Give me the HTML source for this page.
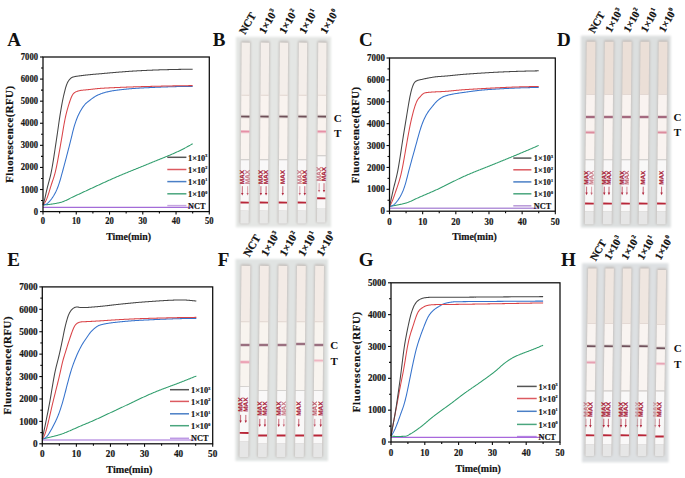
<!DOCTYPE html><html><head><meta charset="utf-8"><style>html,body{margin:0;padding:0;background:#fff;}svg{display:block;}</style></head><body>
<svg width="685" height="478" viewBox="0 0 685 478">
<defs><filter id="bl" x="-5%" y="-5%" width="110%" height="110%"><feGaussianBlur stdDeviation="0.8"/></filter><filter id="bl2" x="-5%" y="-5%" width="110%" height="110%"><feGaussianBlur stdDeviation="0.3"/></filter></defs>
<rect width="685" height="478" fill="#ffffff"/>
<g filter="url(#bl)">
<rect x="236.0" y="36.9" width="95.0" height="190.3" fill="#e4e6e4"/>
<g transform="rotate(0.40 245.15 133.10)"><rect x="240.10" y="40.80" width="10.10" height="183.00" fill="#c4bfbc" rx="1.5"/></g>
<g transform="rotate(0.40 264.35 133.10)"><rect x="259.30" y="40.80" width="10.10" height="183.00" fill="#c4bfbc" rx="1.5"/></g>
<g transform="rotate(0.40 283.35 133.10)"><rect x="278.30" y="40.80" width="10.10" height="183.00" fill="#c4bfbc" rx="1.5"/></g>
<g transform="rotate(0.40 302.35 133.10)"><rect x="297.30" y="40.80" width="10.10" height="183.00" fill="#c4bfbc" rx="1.5"/></g>
<g transform="rotate(0.40 321.75 132.60)"><rect x="316.70" y="40.80" width="10.10" height="182.00" fill="#c4bfbc" rx="1.5"/></g>
</g>
<g transform="rotate(0.40 245.15 133.10)"><rect x="241.00" y="42.60" width="8.30" height="52.60" fill="#f4eeea"/><rect x="241.00" y="95.20" width="8.30" height="64.00" fill="#f9f3ef"/><rect x="241.00" y="94.80" width="8.30" height="0.8" fill="#e2d6d0"/><rect x="241.00" y="114.90" width="8.30" height="3.4" fill="#6e5058" opacity="0.25"/><rect x="241.00" y="115.80" width="8.30" height="1.6" fill="#6e5058"/><rect x="241.00" y="130.00" width="8.30" height="3.2" fill="#e690a6" opacity="0.45"/><rect x="241.00" y="130.90" width="8.30" height="1.4" fill="#e690a6" opacity="1.00"/><rect x="241.00" y="159.20" width="8.30" height="1.10" fill="#d5d3d1"/><rect x="241.00" y="160.30" width="8.30" height="50.30" fill="#f9f8f8"/><rect x="241.00" y="210.60" width="8.30" height="13.00" fill="#e8e8e7" rx="0.8"/></g>
<g transform="rotate(0.40 264.35 133.10)"><rect x="260.20" y="42.60" width="8.30" height="52.60" fill="#f4eeea"/><rect x="260.20" y="95.20" width="8.30" height="64.00" fill="#f9f3ef"/><rect x="260.20" y="94.80" width="8.30" height="0.8" fill="#e2d6d0"/><rect x="260.20" y="114.90" width="8.30" height="3.4" fill="#6e5058" opacity="0.25"/><rect x="260.20" y="115.80" width="8.30" height="1.6" fill="#6e5058"/><rect x="260.20" y="159.20" width="8.30" height="1.10" fill="#d5d3d1"/><rect x="260.20" y="160.30" width="8.30" height="50.30" fill="#f9f8f8"/><rect x="260.20" y="210.60" width="8.30" height="13.00" fill="#e8e8e7" rx="0.8"/></g>
<g transform="rotate(0.40 283.35 133.10)"><rect x="279.20" y="42.60" width="8.30" height="52.60" fill="#f4eeea"/><rect x="279.20" y="95.20" width="8.30" height="64.00" fill="#f9f3ef"/><rect x="279.20" y="94.80" width="8.30" height="0.8" fill="#e2d6d0"/><rect x="279.20" y="114.90" width="8.30" height="3.4" fill="#6e5058" opacity="0.25"/><rect x="279.20" y="115.80" width="8.30" height="1.6" fill="#6e5058"/><rect x="279.20" y="159.20" width="8.30" height="1.10" fill="#d5d3d1"/><rect x="279.20" y="160.30" width="8.30" height="50.30" fill="#f9f8f8"/><rect x="279.20" y="210.60" width="8.30" height="13.00" fill="#e8e8e7" rx="0.8"/></g>
<g transform="rotate(0.40 302.35 133.10)"><rect x="298.20" y="42.60" width="8.30" height="52.60" fill="#f4eeea"/><rect x="298.20" y="95.20" width="8.30" height="64.00" fill="#f9f3ef"/><rect x="298.20" y="94.80" width="8.30" height="0.8" fill="#e2d6d0"/><rect x="298.20" y="114.90" width="8.30" height="3.4" fill="#6e5058" opacity="0.25"/><rect x="298.20" y="115.80" width="8.30" height="1.6" fill="#6e5058"/><rect x="298.20" y="159.20" width="8.30" height="1.10" fill="#d5d3d1"/><rect x="298.20" y="160.30" width="8.30" height="50.30" fill="#f9f8f8"/><rect x="298.20" y="210.60" width="8.30" height="13.00" fill="#e8e8e7" rx="0.8"/></g>
<g transform="rotate(0.40 321.75 132.60)"><rect x="317.60" y="42.60" width="8.30" height="52.60" fill="#f4eeea"/><rect x="317.60" y="95.20" width="8.30" height="60.00" fill="#f9f3ef"/><rect x="317.60" y="94.80" width="8.30" height="0.8" fill="#e2d6d0"/><rect x="317.60" y="114.90" width="8.30" height="3.4" fill="#6e5058" opacity="0.25"/><rect x="317.60" y="115.80" width="8.30" height="1.6" fill="#6e5058"/><rect x="317.60" y="130.00" width="8.30" height="3.2" fill="#e690a6" opacity="0.45"/><rect x="317.60" y="130.90" width="8.30" height="1.4" fill="#e690a6" opacity="1.00"/><rect x="317.60" y="155.20" width="8.30" height="1.10" fill="#d5d3d1"/><rect x="317.60" y="156.30" width="8.30" height="51.80" fill="#f9f8f8"/><rect x="317.60" y="208.10" width="8.30" height="14.50" fill="#e8e8e7" rx="0.8"/></g>
<g transform="rotate(0.40 245.15 133.10)"><text transform="translate(244.50,184.30) rotate(-90)" font-family="Liberation Sans" font-weight="bold" font-size="6.2" fill="#a82238" stroke="#a82238" stroke-width="0.15" opacity="1.00" textLength="14.40" lengthAdjust="spacingAndGlyphs">MAX</text><line x1="242.70" y1="186.20" x2="242.70" y2="194.10" stroke="#b0283e" stroke-width="0.7" opacity="1.00"/><path d="M241.50,193.00 L243.90,193.00 L242.70,195.60 Z" fill="#b0283e" opacity="1.00"/><text transform="translate(249.80,184.30) rotate(-90)" font-family="Liberation Sans" font-weight="bold" font-size="6.2" fill="#a82238" stroke="#a82238" stroke-width="0.15" opacity="0.60" textLength="14.40" lengthAdjust="spacingAndGlyphs">MAX</text><line x1="248.00" y1="186.20" x2="248.00" y2="194.10" stroke="#b0283e" stroke-width="0.7" opacity="0.60"/><path d="M246.80,193.00 L249.20,193.00 L248.00,195.60 Z" fill="#b0283e" opacity="0.60"/><rect x="241.00" y="201.65" width="8.30" height="1.9" fill="#b82638"/></g>
<g transform="rotate(0.40 264.35 133.10)"><text transform="translate(263.10,184.30) rotate(-90)" font-family="Liberation Sans" font-weight="bold" font-size="6.2" fill="#a82238" stroke="#a82238" stroke-width="0.15" opacity="1.00" textLength="14.40" lengthAdjust="spacingAndGlyphs">MAX</text><line x1="261.30" y1="186.20" x2="261.30" y2="194.10" stroke="#b0283e" stroke-width="0.7" opacity="1.00"/><path d="M260.10,193.00 L262.50,193.00 L261.30,195.60 Z" fill="#b0283e" opacity="1.00"/><text transform="translate(268.30,184.30) rotate(-90)" font-family="Liberation Sans" font-weight="bold" font-size="6.2" fill="#a82238" stroke="#a82238" stroke-width="0.15" opacity="1.00" textLength="14.40" lengthAdjust="spacingAndGlyphs">MAX</text><line x1="266.50" y1="186.20" x2="266.50" y2="194.10" stroke="#b0283e" stroke-width="0.7" opacity="1.00"/><path d="M265.30,193.00 L267.70,193.00 L266.50,195.60 Z" fill="#b0283e" opacity="1.00"/><rect x="260.20" y="201.65" width="8.30" height="1.9" fill="#b82638"/></g>
<g transform="rotate(0.40 283.35 133.10)"><text transform="translate(285.00,184.30) rotate(-90)" font-family="Liberation Sans" font-weight="bold" font-size="6.2" fill="#a82238" stroke="#a82238" stroke-width="0.15" opacity="1.00" textLength="14.40" lengthAdjust="spacingAndGlyphs">MAX</text><line x1="283.20" y1="186.20" x2="283.20" y2="194.10" stroke="#b0283e" stroke-width="0.7" opacity="1.00"/><path d="M282.00,193.00 L284.40,193.00 L283.20,195.60 Z" fill="#b0283e" opacity="1.00"/><rect x="279.20" y="201.65" width="8.30" height="1.9" fill="#b82638"/></g>
<g transform="rotate(0.40 302.35 133.10)"><text transform="translate(302.00,184.30) rotate(-90)" font-family="Liberation Sans" font-weight="bold" font-size="6.2" fill="#a82238" stroke="#a82238" stroke-width="0.15" opacity="0.60" textLength="14.40" lengthAdjust="spacingAndGlyphs">MAX</text><line x1="300.20" y1="186.20" x2="300.20" y2="194.10" stroke="#b0283e" stroke-width="0.7" opacity="0.60"/><path d="M299.00,193.00 L301.40,193.00 L300.20,195.60 Z" fill="#b0283e" opacity="0.60"/><text transform="translate(307.00,184.30) rotate(-90)" font-family="Liberation Sans" font-weight="bold" font-size="6.2" fill="#a82238" stroke="#a82238" stroke-width="0.15" opacity="1.00" textLength="14.40" lengthAdjust="spacingAndGlyphs">MAX</text><line x1="305.20" y1="186.20" x2="305.20" y2="194.10" stroke="#b0283e" stroke-width="0.7" opacity="1.00"/><path d="M304.00,193.00 L306.40,193.00 L305.20,195.60 Z" fill="#b0283e" opacity="1.00"/><rect x="298.20" y="201.65" width="8.30" height="1.9" fill="#b82638"/></g>
<g transform="rotate(0.40 321.75 132.60)"><text transform="translate(321.30,181.30) rotate(-90)" font-family="Liberation Sans" font-weight="bold" font-size="6.2" fill="#a82238" stroke="#a82238" stroke-width="0.15" opacity="0.60" textLength="14.40" lengthAdjust="spacingAndGlyphs">MAX</text><line x1="319.50" y1="183.20" x2="319.50" y2="191.10" stroke="#b0283e" stroke-width="0.7" opacity="0.60"/><path d="M318.30,190.00 L320.70,190.00 L319.50,192.60 Z" fill="#b0283e" opacity="0.60"/><text transform="translate(326.20,181.30) rotate(-90)" font-family="Liberation Sans" font-weight="bold" font-size="6.2" fill="#a82238" stroke="#a82238" stroke-width="0.15" opacity="1.00" textLength="14.40" lengthAdjust="spacingAndGlyphs">MAX</text><line x1="324.40" y1="183.20" x2="324.40" y2="191.10" stroke="#b0283e" stroke-width="0.7" opacity="1.00"/><path d="M323.20,190.00 L325.60,190.00 L324.40,192.60 Z" fill="#b0283e" opacity="1.00"/><rect x="317.60" y="197.35" width="8.30" height="1.9" fill="#b82638"/></g>
<text x="212.7" y="45.8" font-family="Liberation Serif" font-weight="bold" font-size="19" fill="#111">B</text>
<text x="333.7" y="122.0" font-family="Liberation Serif" font-weight="bold" font-size="11" fill="#111">C</text>
<text x="334.0" y="137.4" font-family="Liberation Serif" font-weight="bold" font-size="11" fill="#111">T</text>
<text transform="translate(244.90,34.90) rotate(-60.0)" font-family="Liberation Serif" font-weight="bold" font-size="10.8" fill="#111" stroke="#111" stroke-width="0.25">NCT</text>
<text transform="translate(264.80,34.40) rotate(-60.0)" font-family="Liberation Serif" font-weight="bold" font-size="10.8" fill="#111" stroke="#111" stroke-width="0.25">1×10<tspan font-size="6.0" dx="0.5" dy="-4.2">3</tspan></text>
<text transform="translate(284.90,34.40) rotate(-60.0)" font-family="Liberation Serif" font-weight="bold" font-size="10.8" fill="#111" stroke="#111" stroke-width="0.25">1×10<tspan font-size="6.0" dx="0.5" dy="-4.2">2</tspan></text>
<text transform="translate(304.90,34.40) rotate(-60.0)" font-family="Liberation Serif" font-weight="bold" font-size="10.8" fill="#111" stroke="#111" stroke-width="0.25">1×10<tspan font-size="6.0" dx="0.5" dy="-4.2">1</tspan></text>
<text transform="translate(326.10,34.40) rotate(-60.0)" font-family="Liberation Serif" font-weight="bold" font-size="10.8" fill="#111" stroke="#111" stroke-width="0.25">1×10<tspan font-size="6.0" dx="0.5" dy="-4.2">0</tspan></text>
<g filter="url(#bl)">
<rect x="580.9" y="35.7" width="89.9" height="191.8" fill="#dcdfdf"/>
<g transform="rotate(0.60 590.15 133.05)"><rect x="584.90" y="40.00" width="10.50" height="184.50" fill="#c4bfbc" rx="1.5"/></g>
<g transform="rotate(0.60 608.25 133.05)"><rect x="603.00" y="40.00" width="10.50" height="184.50" fill="#c4bfbc" rx="1.5"/></g>
<g transform="rotate(0.60 626.25 133.05)"><rect x="621.00" y="40.00" width="10.50" height="184.50" fill="#c4bfbc" rx="1.5"/></g>
<g transform="rotate(0.60 643.95 133.05)"><rect x="638.70" y="40.00" width="10.50" height="184.50" fill="#c4bfbc" rx="1.5"/></g>
<g transform="rotate(0.60 662.15 133.05)"><rect x="656.90" y="40.00" width="10.50" height="184.50" fill="#c4bfbc" rx="1.5"/></g>
</g>
<g transform="rotate(0.60 590.15 133.05)"><rect x="585.80" y="41.80" width="8.70" height="52.80" fill="#ebdfd7"/><rect x="585.80" y="94.60" width="8.70" height="64.40" fill="#f9f3f0"/><rect x="585.80" y="94.20" width="8.70" height="0.8" fill="#e2d6d0"/><rect x="585.80" y="115.30" width="8.70" height="3.4" fill="#904a64" opacity="0.25"/><rect x="585.80" y="116.20" width="8.70" height="1.6" fill="#904a64"/><rect x="585.80" y="130.80" width="8.70" height="3.2" fill="#dc8c9e" opacity="0.45"/><rect x="585.80" y="131.70" width="8.70" height="1.4" fill="#dc8c9e" opacity="1.00"/><rect x="585.80" y="159.00" width="8.70" height="1.20" fill="#d5d3d1"/><rect x="585.80" y="160.20" width="8.70" height="51.00" fill="#f9f8f8"/><rect x="585.80" y="211.20" width="8.70" height="13.10" fill="#e6e6e6" rx="0.8"/></g>
<g transform="rotate(0.60 608.25 133.05)"><rect x="603.90" y="41.80" width="8.70" height="52.80" fill="#ebdfd7"/><rect x="603.90" y="94.60" width="8.70" height="64.40" fill="#f9f3f0"/><rect x="603.90" y="94.20" width="8.70" height="0.8" fill="#e2d6d0"/><rect x="603.90" y="115.30" width="8.70" height="3.4" fill="#904a64" opacity="0.25"/><rect x="603.90" y="116.20" width="8.70" height="1.6" fill="#904a64"/><rect x="603.90" y="159.00" width="8.70" height="1.20" fill="#d5d3d1"/><rect x="603.90" y="160.20" width="8.70" height="51.00" fill="#f9f8f8"/><rect x="603.90" y="211.20" width="8.70" height="13.10" fill="#e6e6e6" rx="0.8"/></g>
<g transform="rotate(0.60 626.25 133.05)"><rect x="621.90" y="41.80" width="8.70" height="52.80" fill="#ebdfd7"/><rect x="621.90" y="94.60" width="8.70" height="64.40" fill="#f9f3f0"/><rect x="621.90" y="94.20" width="8.70" height="0.8" fill="#e2d6d0"/><rect x="621.90" y="115.30" width="8.70" height="3.4" fill="#904a64" opacity="0.25"/><rect x="621.90" y="116.20" width="8.70" height="1.6" fill="#904a64"/><rect x="621.90" y="159.00" width="8.70" height="1.20" fill="#d5d3d1"/><rect x="621.90" y="160.20" width="8.70" height="51.00" fill="#f9f8f8"/><rect x="621.90" y="211.20" width="8.70" height="13.10" fill="#e6e6e6" rx="0.8"/></g>
<g transform="rotate(0.60 643.95 133.05)"><rect x="639.60" y="41.80" width="8.70" height="52.80" fill="#ebdfd7"/><rect x="639.60" y="94.60" width="8.70" height="64.40" fill="#f9f3f0"/><rect x="639.60" y="94.20" width="8.70" height="0.8" fill="#e2d6d0"/><rect x="639.60" y="115.30" width="8.70" height="3.4" fill="#904a64" opacity="0.25"/><rect x="639.60" y="116.20" width="8.70" height="1.6" fill="#904a64"/><rect x="639.60" y="159.00" width="8.70" height="1.20" fill="#d5d3d1"/><rect x="639.60" y="160.20" width="8.70" height="51.00" fill="#f9f8f8"/><rect x="639.60" y="211.20" width="8.70" height="13.10" fill="#e6e6e6" rx="0.8"/></g>
<g transform="rotate(0.60 662.15 133.05)"><rect x="657.80" y="41.80" width="8.70" height="52.80" fill="#ebdfd7"/><rect x="657.80" y="94.60" width="8.70" height="64.40" fill="#f9f3f0"/><rect x="657.80" y="94.20" width="8.70" height="0.8" fill="#e2d6d0"/><rect x="657.80" y="115.30" width="8.70" height="3.4" fill="#904a64" opacity="0.25"/><rect x="657.80" y="116.20" width="8.70" height="1.6" fill="#904a64"/><rect x="657.80" y="130.80" width="8.70" height="3.2" fill="#dc8c9e" opacity="0.45"/><rect x="657.80" y="131.70" width="8.70" height="1.4" fill="#dc8c9e" opacity="1.00"/><rect x="657.80" y="159.00" width="8.70" height="1.20" fill="#d5d3d1"/><rect x="657.80" y="160.20" width="8.70" height="51.00" fill="#f9f8f8"/><rect x="657.80" y="211.20" width="8.70" height="13.10" fill="#e6e6e6" rx="0.8"/></g>
<g transform="rotate(0.60 590.15 133.05)"><text transform="translate(589.00,184.80) rotate(-90)" font-family="Liberation Sans" font-weight="bold" font-size="6.2" fill="#a82238" stroke="#a82238" stroke-width="0.15" opacity="1.00" textLength="14.10" lengthAdjust="spacingAndGlyphs">MAX</text><line x1="587.20" y1="186.70" x2="587.20" y2="193.70" stroke="#b0283e" stroke-width="0.7" opacity="1.00"/><path d="M586.00,192.60 L588.40,192.60 L587.20,195.20 Z" fill="#b0283e" opacity="1.00"/><text transform="translate(594.00,184.80) rotate(-90)" font-family="Liberation Sans" font-weight="bold" font-size="6.2" fill="#a82238" stroke="#a82238" stroke-width="0.15" opacity="0.60" textLength="14.10" lengthAdjust="spacingAndGlyphs">MAX</text><line x1="592.20" y1="186.70" x2="592.20" y2="193.70" stroke="#b0283e" stroke-width="0.7" opacity="0.60"/><path d="M591.00,192.60 L593.40,192.60 L592.20,195.20 Z" fill="#b0283e" opacity="0.60"/><rect x="585.80" y="202.65" width="8.70" height="1.9" fill="#b82638"/></g>
<g transform="rotate(0.60 608.25 133.05)"><text transform="translate(606.70,184.80) rotate(-90)" font-family="Liberation Sans" font-weight="bold" font-size="6.2" fill="#a82238" stroke="#a82238" stroke-width="0.15" opacity="1.00" textLength="14.10" lengthAdjust="spacingAndGlyphs">MAX</text><line x1="604.90" y1="186.70" x2="604.90" y2="193.70" stroke="#b0283e" stroke-width="0.7" opacity="1.00"/><path d="M603.70,192.60 L606.10,192.60 L604.90,195.20 Z" fill="#b0283e" opacity="1.00"/><text transform="translate(611.40,184.80) rotate(-90)" font-family="Liberation Sans" font-weight="bold" font-size="6.2" fill="#a82238" stroke="#a82238" stroke-width="0.15" opacity="1.00" textLength="14.10" lengthAdjust="spacingAndGlyphs">MAX</text><line x1="609.60" y1="186.70" x2="609.60" y2="193.70" stroke="#b0283e" stroke-width="0.7" opacity="1.00"/><path d="M608.40,192.60 L610.80,192.60 L609.60,195.20 Z" fill="#b0283e" opacity="1.00"/><rect x="603.90" y="202.65" width="8.70" height="1.9" fill="#b82638"/></g>
<g transform="rotate(0.60 626.25 133.05)"><text transform="translate(624.60,184.80) rotate(-90)" font-family="Liberation Sans" font-weight="bold" font-size="6.2" fill="#a82238" stroke="#a82238" stroke-width="0.15" opacity="1.00" textLength="14.10" lengthAdjust="spacingAndGlyphs">MAX</text><line x1="622.80" y1="186.70" x2="622.80" y2="193.70" stroke="#b0283e" stroke-width="0.7" opacity="1.00"/><path d="M621.60,192.60 L624.00,192.60 L622.80,195.20 Z" fill="#b0283e" opacity="1.00"/><text transform="translate(629.30,184.80) rotate(-90)" font-family="Liberation Sans" font-weight="bold" font-size="6.2" fill="#a82238" stroke="#a82238" stroke-width="0.15" opacity="0.70" textLength="14.10" lengthAdjust="spacingAndGlyphs">MAX</text><line x1="627.50" y1="186.70" x2="627.50" y2="193.70" stroke="#b0283e" stroke-width="0.7" opacity="0.70"/><path d="M626.30,192.60 L628.70,192.60 L627.50,195.20 Z" fill="#b0283e" opacity="0.70"/><rect x="621.90" y="202.65" width="8.70" height="1.9" fill="#b82638"/></g>
<g transform="rotate(0.60 643.95 133.05)"><text transform="translate(645.60,184.80) rotate(-90)" font-family="Liberation Sans" font-weight="bold" font-size="6.2" fill="#a82238" stroke="#a82238" stroke-width="0.15" opacity="1.00" textLength="14.10" lengthAdjust="spacingAndGlyphs">MAX</text><line x1="643.80" y1="186.70" x2="643.80" y2="193.70" stroke="#b0283e" stroke-width="0.7" opacity="1.00"/><path d="M642.60,192.60 L645.00,192.60 L643.80,195.20 Z" fill="#b0283e" opacity="1.00"/><rect x="639.60" y="202.65" width="8.70" height="1.9" fill="#b82638"/></g>
<g transform="rotate(0.60 662.15 133.05)"><text transform="translate(664.00,184.80) rotate(-90)" font-family="Liberation Sans" font-weight="bold" font-size="6.2" fill="#a82238" stroke="#a82238" stroke-width="0.15" opacity="1.00" textLength="14.10" lengthAdjust="spacingAndGlyphs">MAX</text><line x1="662.20" y1="186.70" x2="662.20" y2="193.70" stroke="#b0283e" stroke-width="0.7" opacity="1.00"/><path d="M661.00,192.60 L663.40,192.60 L662.20,195.20 Z" fill="#b0283e" opacity="1.00"/><rect x="657.80" y="202.65" width="8.70" height="1.9" fill="#b82638"/></g>
<text x="557.1" y="45.8" font-family="Liberation Serif" font-weight="bold" font-size="19" fill="#111">D</text>
<text x="673.4" y="120.5" font-family="Liberation Serif" font-weight="bold" font-size="11" fill="#111">C</text>
<text x="673.7" y="136.0" font-family="Liberation Serif" font-weight="bold" font-size="11" fill="#111">T</text>
<text transform="translate(594.30,33.80) rotate(-61.0)" font-family="Liberation Serif" font-weight="bold" font-size="10.5" fill="#111" stroke="#111" stroke-width="0.25">NCT</text>
<text transform="translate(611.10,32.90) rotate(-61.0)" font-family="Liberation Serif" font-weight="bold" font-size="10.5" fill="#111" stroke="#111" stroke-width="0.25">1×10<tspan font-size="6.0" dx="0.5" dy="-4.2">3</tspan></text>
<text transform="translate(629.20,32.90) rotate(-61.0)" font-family="Liberation Serif" font-weight="bold" font-size="10.5" fill="#111" stroke="#111" stroke-width="0.25">1×10<tspan font-size="6.0" dx="0.5" dy="-4.2">2</tspan></text>
<text transform="translate(646.60,32.90) rotate(-61.0)" font-family="Liberation Serif" font-weight="bold" font-size="10.5" fill="#111" stroke="#111" stroke-width="0.25">1×10<tspan font-size="6.0" dx="0.5" dy="-4.2">1</tspan></text>
<text transform="translate(664.50,32.90) rotate(-61.0)" font-family="Liberation Serif" font-weight="bold" font-size="10.5" fill="#111" stroke="#111" stroke-width="0.25">1×10<tspan font-size="6.0" dx="0.5" dy="-4.2">0</tspan></text>
<g filter="url(#bl)">
<rect x="235.5" y="259.0" width="92.5" height="202.0" fill="#e0e3e2"/>
<g transform="rotate(0.60 244.90 361.45)"><rect x="239.60" y="264.10" width="10.60" height="193.10" fill="#c4bfbc" rx="1.5"/></g>
<g transform="rotate(0.60 263.40 361.45)"><rect x="258.10" y="264.10" width="10.60" height="193.10" fill="#c4bfbc" rx="1.5"/></g>
<g transform="rotate(0.60 281.90 361.45)"><rect x="276.60" y="264.10" width="10.60" height="193.10" fill="#c4bfbc" rx="1.5"/></g>
<g transform="rotate(0.60 300.40 361.45)"><rect x="295.10" y="264.10" width="10.60" height="193.10" fill="#c4bfbc" rx="1.5"/></g>
<g transform="rotate(0.60 318.60 361.45)"><rect x="313.30" y="264.10" width="10.60" height="193.10" fill="#c4bfbc" rx="1.5"/></g>
</g>
<g transform="rotate(0.60 244.90 361.45)"><rect x="240.50" y="265.90" width="8.80" height="55.90" fill="#f3ebe6"/><rect x="240.50" y="321.80" width="8.80" height="64.60" fill="#f8f4ef"/><rect x="240.50" y="321.40" width="8.80" height="0.8" fill="#e2d6d0"/><rect x="240.50" y="343.30" width="8.80" height="3.4" fill="#845266" opacity="0.25"/><rect x="240.50" y="344.20" width="8.80" height="1.6" fill="#845266"/><rect x="240.50" y="360.50" width="8.80" height="3.2" fill="#ea96ac" opacity="0.45"/><rect x="240.50" y="361.40" width="8.80" height="1.4" fill="#ea96ac" opacity="1.00"/><rect x="240.50" y="386.40" width="8.80" height="0.60" fill="#d5d3d1"/><rect x="240.50" y="387.00" width="8.80" height="54.50" fill="#f9f8f8"/><rect x="240.50" y="441.50" width="8.80" height="15.50" fill="#e6e6e6" rx="0.8"/></g>
<g transform="rotate(0.60 263.40 361.45)"><rect x="259.00" y="265.90" width="8.80" height="55.90" fill="#f3ebe6"/><rect x="259.00" y="321.80" width="8.80" height="68.20" fill="#f8f4ef"/><rect x="259.00" y="321.40" width="8.80" height="0.8" fill="#e2d6d0"/><rect x="259.00" y="343.30" width="8.80" height="3.4" fill="#845266" opacity="0.25"/><rect x="259.00" y="344.20" width="8.80" height="1.6" fill="#845266"/><rect x="259.00" y="390.00" width="8.80" height="1.00" fill="#d5d3d1"/><rect x="259.00" y="391.00" width="8.80" height="52.50" fill="#f9f8f8"/><rect x="259.00" y="443.50" width="8.80" height="13.50" fill="#e6e6e6" rx="0.8"/></g>
<g transform="rotate(0.60 281.90 361.45)"><rect x="277.50" y="265.90" width="8.80" height="55.90" fill="#f3ebe6"/><rect x="277.50" y="321.80" width="8.80" height="68.20" fill="#f8f4ef"/><rect x="277.50" y="321.40" width="8.80" height="0.8" fill="#e2d6d0"/><rect x="277.50" y="343.30" width="8.80" height="3.4" fill="#845266" opacity="0.25"/><rect x="277.50" y="344.20" width="8.80" height="1.6" fill="#845266"/><rect x="277.50" y="390.00" width="8.80" height="1.00" fill="#d5d3d1"/><rect x="277.50" y="391.00" width="8.80" height="52.50" fill="#f9f8f8"/><rect x="277.50" y="443.50" width="8.80" height="13.50" fill="#e6e6e6" rx="0.8"/></g>
<g transform="rotate(0.60 300.40 361.45)"><rect x="296.00" y="265.90" width="8.80" height="55.90" fill="#f3ebe6"/><rect x="296.00" y="321.80" width="8.80" height="68.20" fill="#f8f4ef"/><rect x="296.00" y="321.40" width="8.80" height="0.8" fill="#e2d6d0"/><rect x="296.00" y="342.30" width="8.80" height="3.4" fill="#845266" opacity="0.25"/><rect x="296.00" y="343.20" width="8.80" height="1.6" fill="#845266"/><rect x="296.00" y="390.00" width="8.80" height="1.00" fill="#d5d3d1"/><rect x="296.00" y="391.00" width="8.80" height="52.50" fill="#f9f8f8"/><rect x="296.00" y="443.50" width="8.80" height="13.50" fill="#e6e6e6" rx="0.8"/></g>
<g transform="rotate(0.60 318.60 361.45)"><rect x="314.20" y="265.90" width="8.80" height="55.90" fill="#f3ebe6"/><rect x="314.20" y="321.80" width="8.80" height="68.20" fill="#f8f4ef"/><rect x="314.20" y="321.40" width="8.80" height="0.8" fill="#e2d6d0"/><rect x="314.20" y="343.30" width="8.80" height="3.4" fill="#845266" opacity="0.25"/><rect x="314.20" y="344.20" width="8.80" height="1.6" fill="#845266"/><rect x="314.20" y="359.00" width="8.80" height="3.2" fill="#ea96ac" opacity="0.25"/><rect x="314.20" y="359.90" width="8.80" height="1.4" fill="#ea96ac" opacity="0.55"/><rect x="314.20" y="390.00" width="8.80" height="1.00" fill="#d5d3d1"/><rect x="314.20" y="391.00" width="8.80" height="52.50" fill="#f9f8f8"/><rect x="314.20" y="443.50" width="8.80" height="13.50" fill="#e6e6e6" rx="0.8"/></g>
<g transform="rotate(0.60 244.90 361.45)"><text transform="translate(243.00,411.80) rotate(-90)" font-family="Liberation Sans" font-weight="bold" font-size="6.2" fill="#a82238" stroke="#a82238" stroke-width="0.15" opacity="1.00" textLength="14.30" lengthAdjust="spacingAndGlyphs">MAX</text><line x1="241.20" y1="414.90" x2="241.20" y2="421.60" stroke="#b0283e" stroke-width="0.7" opacity="1.00"/><path d="M240.00,420.50 L242.40,420.50 L241.20,423.10 Z" fill="#b0283e" opacity="1.00"/><text transform="translate(248.20,411.80) rotate(-90)" font-family="Liberation Sans" font-weight="bold" font-size="6.2" fill="#a82238" stroke="#a82238" stroke-width="0.15" opacity="1.00" textLength="14.30" lengthAdjust="spacingAndGlyphs">MAX</text><line x1="246.40" y1="414.90" x2="246.40" y2="421.60" stroke="#b0283e" stroke-width="0.7" opacity="1.00"/><path d="M245.20,420.50 L247.60,420.50 L246.40,423.10 Z" fill="#b0283e" opacity="1.00"/><rect x="240.50" y="431.95" width="8.80" height="1.9" fill="#b82638"/></g>
<g transform="rotate(0.60 263.40 361.45)"><text transform="translate(262.20,415.80) rotate(-90)" font-family="Liberation Sans" font-weight="bold" font-size="6.2" fill="#a82238" stroke="#a82238" stroke-width="0.15" opacity="1.00" textLength="14.30" lengthAdjust="spacingAndGlyphs">MAX</text><line x1="260.40" y1="418.90" x2="260.40" y2="425.60" stroke="#b0283e" stroke-width="0.7" opacity="1.00"/><path d="M259.20,424.50 L261.60,424.50 L260.40,427.10 Z" fill="#b0283e" opacity="1.00"/><text transform="translate(267.40,415.80) rotate(-90)" font-family="Liberation Sans" font-weight="bold" font-size="6.2" fill="#a82238" stroke="#a82238" stroke-width="0.15" opacity="1.00" textLength="14.30" lengthAdjust="spacingAndGlyphs">MAX</text><line x1="265.60" y1="418.90" x2="265.60" y2="425.60" stroke="#b0283e" stroke-width="0.7" opacity="1.00"/><path d="M264.40,424.50 L266.80,424.50 L265.60,427.10 Z" fill="#b0283e" opacity="1.00"/><rect x="259.00" y="434.55" width="8.80" height="1.9" fill="#b82638"/></g>
<g transform="rotate(0.60 281.90 361.45)"><text transform="translate(281.20,415.80) rotate(-90)" font-family="Liberation Sans" font-weight="bold" font-size="6.2" fill="#a82238" stroke="#a82238" stroke-width="0.15" opacity="1.00" textLength="14.30" lengthAdjust="spacingAndGlyphs">MAX</text><line x1="279.40" y1="418.90" x2="279.40" y2="425.60" stroke="#b0283e" stroke-width="0.7" opacity="1.00"/><path d="M278.20,424.50 L280.60,424.50 L279.40,427.10 Z" fill="#b0283e" opacity="1.00"/><text transform="translate(286.30,415.80) rotate(-90)" font-family="Liberation Sans" font-weight="bold" font-size="6.2" fill="#a82238" stroke="#a82238" stroke-width="0.15" opacity="0.60" textLength="14.30" lengthAdjust="spacingAndGlyphs">MAX</text><line x1="284.50" y1="418.90" x2="284.50" y2="425.60" stroke="#b0283e" stroke-width="0.7" opacity="0.60"/><path d="M283.30,424.50 L285.70,424.50 L284.50,427.10 Z" fill="#b0283e" opacity="0.60"/><rect x="277.50" y="434.55" width="8.80" height="1.9" fill="#b82638"/></g>
<g transform="rotate(0.60 300.40 361.45)"><text transform="translate(301.20,415.80) rotate(-90)" font-family="Liberation Sans" font-weight="bold" font-size="6.2" fill="#a82238" stroke="#a82238" stroke-width="0.15" opacity="1.00" textLength="14.30" lengthAdjust="spacingAndGlyphs">MAX</text><line x1="299.40" y1="418.90" x2="299.40" y2="425.60" stroke="#b0283e" stroke-width="0.7" opacity="1.00"/><path d="M298.20,424.50 L300.60,424.50 L299.40,427.10 Z" fill="#b0283e" opacity="1.00"/><rect x="296.00" y="434.55" width="8.80" height="1.9" fill="#b82638"/></g>
<g transform="rotate(0.60 318.60 361.45)"><text transform="translate(317.20,415.80) rotate(-90)" font-family="Liberation Sans" font-weight="bold" font-size="6.2" fill="#a82238" stroke="#a82238" stroke-width="0.15" opacity="0.70" textLength="14.30" lengthAdjust="spacingAndGlyphs">MAX</text><line x1="315.40" y1="418.90" x2="315.40" y2="425.60" stroke="#b0283e" stroke-width="0.7" opacity="0.70"/><path d="M314.20,424.50 L316.60,424.50 L315.40,427.10 Z" fill="#b0283e" opacity="0.70"/><text transform="translate(323.20,415.80) rotate(-90)" font-family="Liberation Sans" font-weight="bold" font-size="6.2" fill="#a82238" stroke="#a82238" stroke-width="0.15" opacity="1.00" textLength="14.30" lengthAdjust="spacingAndGlyphs">MAX</text><line x1="321.40" y1="418.90" x2="321.40" y2="425.60" stroke="#b0283e" stroke-width="0.7" opacity="1.00"/><path d="M320.20,424.50 L322.60,424.50 L321.40,427.10 Z" fill="#b0283e" opacity="1.00"/><rect x="314.20" y="434.55" width="8.80" height="1.9" fill="#b82638"/></g>
<text x="217.8" y="266.0" font-family="Liberation Serif" font-weight="bold" font-size="19" fill="#111">F</text>
<text x="330.2" y="349.3" font-family="Liberation Serif" font-weight="bold" font-size="11" fill="#111">C</text>
<text x="330.5" y="364.6" font-family="Liberation Serif" font-weight="bold" font-size="11" fill="#111">T</text>
<text transform="translate(249.30,257.60) rotate(-60.0)" font-family="Liberation Serif" font-weight="bold" font-size="11.0" fill="#111" stroke="#111" stroke-width="0.25">NCT</text>
<text transform="translate(266.90,257.00) rotate(-60.0)" font-family="Liberation Serif" font-weight="bold" font-size="11.0" fill="#111" stroke="#111" stroke-width="0.25">1×10<tspan font-size="6.0" dx="0.5" dy="-4.2">3</tspan></text>
<text transform="translate(285.40,257.00) rotate(-60.0)" font-family="Liberation Serif" font-weight="bold" font-size="11.0" fill="#111" stroke="#111" stroke-width="0.25">1×10<tspan font-size="6.0" dx="0.5" dy="-4.2">2</tspan></text>
<text transform="translate(303.90,257.00) rotate(-60.0)" font-family="Liberation Serif" font-weight="bold" font-size="11.0" fill="#111" stroke="#111" stroke-width="0.25">1×10<tspan font-size="6.0" dx="0.5" dy="-4.2">1</tspan></text>
<text transform="translate(322.40,257.00) rotate(-60.0)" font-family="Liberation Serif" font-weight="bold" font-size="11.0" fill="#111" stroke="#111" stroke-width="0.25">1×10<tspan font-size="6.0" dx="0.5" dy="-4.2">0</tspan></text>
<g filter="url(#bl)">
<rect x="582.0" y="263.2" width="86.5" height="199.1" fill="#dde0e2"/>
<g transform="rotate(0.80 591.05 362.25)"><rect x="585.90" y="266.70" width="10.30" height="189.50" fill="#c4bfbc" rx="1.5"/></g>
<g transform="rotate(0.80 608.35 362.25)"><rect x="603.20" y="266.70" width="10.30" height="189.50" fill="#c4bfbc" rx="1.5"/></g>
<g transform="rotate(0.80 625.85 362.25)"><rect x="620.70" y="266.70" width="10.30" height="189.50" fill="#c4bfbc" rx="1.5"/></g>
<g transform="rotate(0.80 643.25 362.25)"><rect x="638.10" y="266.70" width="10.30" height="189.50" fill="#c4bfbc" rx="1.5"/></g>
<g transform="rotate(0.80 660.55 363.00)"><rect x="655.40" y="268.20" width="10.30" height="188.00" fill="#c4bfbc" rx="1.5"/></g>
</g>
<g transform="rotate(0.80 591.05 362.25)"><rect x="586.80" y="268.50" width="8.50" height="55.10" fill="#efe6e0"/><rect x="586.80" y="323.60" width="8.50" height="66.90" fill="#f9f4f1"/><rect x="586.80" y="323.20" width="8.50" height="0.8" fill="#e2d6d0"/><rect x="586.80" y="344.50" width="8.50" height="3.4" fill="#70525c" opacity="0.25"/><rect x="586.80" y="345.40" width="8.50" height="1.6" fill="#70525c"/><rect x="586.80" y="360.80" width="8.50" height="3.2" fill="#e6a0b2" opacity="0.45"/><rect x="586.80" y="361.70" width="8.50" height="1.4" fill="#e6a0b2" opacity="1.00"/><rect x="586.80" y="390.50" width="8.50" height="1.00" fill="#d5d3d1"/><rect x="586.80" y="391.50" width="8.50" height="53.00" fill="#f9f8f8"/><rect x="586.80" y="444.50" width="8.50" height="11.50" fill="#e6e6e6" rx="0.8"/></g>
<g transform="rotate(0.80 608.35 362.25)"><rect x="604.10" y="268.50" width="8.50" height="55.10" fill="#efe6e0"/><rect x="604.10" y="323.60" width="8.50" height="66.90" fill="#f9f4f1"/><rect x="604.10" y="323.20" width="8.50" height="0.8" fill="#e2d6d0"/><rect x="604.10" y="344.50" width="8.50" height="3.4" fill="#70525c" opacity="0.25"/><rect x="604.10" y="345.40" width="8.50" height="1.6" fill="#70525c"/><rect x="604.10" y="390.50" width="8.50" height="1.00" fill="#d5d3d1"/><rect x="604.10" y="391.50" width="8.50" height="53.00" fill="#f9f8f8"/><rect x="604.10" y="444.50" width="8.50" height="11.50" fill="#e6e6e6" rx="0.8"/></g>
<g transform="rotate(0.80 625.85 362.25)"><rect x="621.60" y="268.50" width="8.50" height="55.10" fill="#efe6e0"/><rect x="621.60" y="323.60" width="8.50" height="66.90" fill="#f9f4f1"/><rect x="621.60" y="323.20" width="8.50" height="0.8" fill="#e2d6d0"/><rect x="621.60" y="344.50" width="8.50" height="3.4" fill="#70525c" opacity="0.25"/><rect x="621.60" y="345.40" width="8.50" height="1.6" fill="#70525c"/><rect x="621.60" y="390.50" width="8.50" height="1.00" fill="#d5d3d1"/><rect x="621.60" y="391.50" width="8.50" height="53.00" fill="#f9f8f8"/><rect x="621.60" y="444.50" width="8.50" height="11.50" fill="#e6e6e6" rx="0.8"/></g>
<g transform="rotate(0.80 643.25 362.25)"><rect x="639.00" y="268.50" width="8.50" height="55.10" fill="#efe6e0"/><rect x="639.00" y="323.60" width="8.50" height="66.90" fill="#f9f4f1"/><rect x="639.00" y="323.20" width="8.50" height="0.8" fill="#e2d6d0"/><rect x="639.00" y="344.50" width="8.50" height="3.4" fill="#70525c" opacity="0.25"/><rect x="639.00" y="345.40" width="8.50" height="1.6" fill="#70525c"/><rect x="639.00" y="390.50" width="8.50" height="1.00" fill="#d5d3d1"/><rect x="639.00" y="391.50" width="8.50" height="53.00" fill="#f9f8f8"/><rect x="639.00" y="444.50" width="8.50" height="11.50" fill="#e6e6e6" rx="0.8"/></g>
<g transform="rotate(0.80 660.55 363.00)"><rect x="656.30" y="270.00" width="8.50" height="54.60" fill="#efe6e0"/><rect x="656.30" y="324.60" width="8.50" height="65.90" fill="#f9f4f1"/><rect x="656.30" y="324.20" width="8.50" height="0.8" fill="#e2d6d0"/><rect x="656.30" y="346.50" width="8.50" height="3.4" fill="#70525c" opacity="0.25"/><rect x="656.30" y="347.40" width="8.50" height="1.6" fill="#70525c"/><rect x="656.30" y="362.10" width="8.50" height="3.2" fill="#e6a0b2" opacity="0.41"/><rect x="656.30" y="363.00" width="8.50" height="1.4" fill="#e6a0b2" opacity="0.90"/><rect x="656.30" y="390.50" width="8.50" height="1.00" fill="#d5d3d1"/><rect x="656.30" y="391.50" width="8.50" height="53.00" fill="#f9f8f8"/><rect x="656.30" y="444.50" width="8.50" height="11.50" fill="#e6e6e6" rx="0.8"/></g>
<g transform="rotate(0.80 591.05 362.25)"><text transform="translate(588.70,417.00) rotate(-90)" font-family="Liberation Sans" font-weight="bold" font-size="6.2" fill="#a82238" stroke="#a82238" stroke-width="0.15" opacity="0.50" textLength="15.10" lengthAdjust="spacingAndGlyphs">MAX</text><line x1="586.90" y1="418.80" x2="586.90" y2="426.20" stroke="#b0283e" stroke-width="0.7" opacity="0.50"/><path d="M585.70,425.10 L588.10,425.10 L586.90,427.70 Z" fill="#b0283e" opacity="0.50"/><text transform="translate(593.10,417.00) rotate(-90)" font-family="Liberation Sans" font-weight="bold" font-size="6.2" fill="#a82238" stroke="#a82238" stroke-width="0.15" opacity="1.00" textLength="15.10" lengthAdjust="spacingAndGlyphs">MAX</text><line x1="591.30" y1="418.80" x2="591.30" y2="426.20" stroke="#b0283e" stroke-width="0.7" opacity="1.00"/><path d="M590.10,425.10 L592.50,425.10 L591.30,427.70 Z" fill="#b0283e" opacity="1.00"/><rect x="586.80" y="434.35" width="8.50" height="1.9" fill="#b82638"/></g>
<g transform="rotate(0.80 608.35 362.25)"><text transform="translate(606.40,417.00) rotate(-90)" font-family="Liberation Sans" font-weight="bold" font-size="6.2" fill="#a82238" stroke="#a82238" stroke-width="0.15" opacity="1.00" textLength="15.10" lengthAdjust="spacingAndGlyphs">MAX</text><line x1="604.60" y1="418.80" x2="604.60" y2="426.20" stroke="#b0283e" stroke-width="0.7" opacity="1.00"/><path d="M603.40,425.10 L605.80,425.10 L604.60,427.70 Z" fill="#b0283e" opacity="1.00"/><text transform="translate(611.00,417.00) rotate(-90)" font-family="Liberation Sans" font-weight="bold" font-size="6.2" fill="#a82238" stroke="#a82238" stroke-width="0.15" opacity="1.00" textLength="15.10" lengthAdjust="spacingAndGlyphs">MAX</text><line x1="609.20" y1="418.80" x2="609.20" y2="426.20" stroke="#b0283e" stroke-width="0.7" opacity="1.00"/><path d="M608.00,425.10 L610.40,425.10 L609.20,427.70 Z" fill="#b0283e" opacity="1.00"/><rect x="604.10" y="434.35" width="8.50" height="1.9" fill="#b82638"/></g>
<g transform="rotate(0.80 625.85 362.25)"><text transform="translate(623.70,417.00) rotate(-90)" font-family="Liberation Sans" font-weight="bold" font-size="6.2" fill="#a82238" stroke="#a82238" stroke-width="0.15" opacity="1.00" textLength="15.10" lengthAdjust="spacingAndGlyphs">MAX</text><line x1="621.90" y1="418.80" x2="621.90" y2="426.20" stroke="#b0283e" stroke-width="0.7" opacity="1.00"/><path d="M620.70,425.10 L623.10,425.10 L621.90,427.70 Z" fill="#b0283e" opacity="1.00"/><text transform="translate(628.40,417.00) rotate(-90)" font-family="Liberation Sans" font-weight="bold" font-size="6.2" fill="#a82238" stroke="#a82238" stroke-width="0.15" opacity="1.00" textLength="15.10" lengthAdjust="spacingAndGlyphs">MAX</text><line x1="626.60" y1="418.80" x2="626.60" y2="426.20" stroke="#b0283e" stroke-width="0.7" opacity="1.00"/><path d="M625.40,425.10 L627.80,425.10 L626.60,427.70 Z" fill="#b0283e" opacity="1.00"/><rect x="621.60" y="434.35" width="8.50" height="1.9" fill="#b82638"/></g>
<g transform="rotate(0.80 643.25 362.25)"><text transform="translate(640.10,417.00) rotate(-90)" font-family="Liberation Sans" font-weight="bold" font-size="6.2" fill="#a82238" stroke="#a82238" stroke-width="0.15" opacity="0.35" textLength="15.10" lengthAdjust="spacingAndGlyphs">MAX</text><line x1="638.30" y1="418.80" x2="638.30" y2="426.20" stroke="#b0283e" stroke-width="0.7" opacity="0.35"/><path d="M637.10,425.10 L639.50,425.10 L638.30,427.70 Z" fill="#b0283e" opacity="0.35"/><text transform="translate(643.60,417.00) rotate(-90)" font-family="Liberation Sans" font-weight="bold" font-size="6.2" fill="#a82238" stroke="#a82238" stroke-width="0.15" opacity="1.00" textLength="15.10" lengthAdjust="spacingAndGlyphs">MAX</text><line x1="641.80" y1="418.80" x2="641.80" y2="426.20" stroke="#b0283e" stroke-width="0.7" opacity="1.00"/><path d="M640.60,425.10 L643.00,425.10 L641.80,427.70 Z" fill="#b0283e" opacity="1.00"/><rect x="639.00" y="434.35" width="8.50" height="1.9" fill="#b82638"/></g>
<g transform="rotate(0.80 660.55 363.00)"><text transform="translate(658.00,417.00) rotate(-90)" font-family="Liberation Sans" font-weight="bold" font-size="6.2" fill="#a82238" stroke="#a82238" stroke-width="0.15" opacity="0.35" textLength="15.10" lengthAdjust="spacingAndGlyphs">MAX</text><line x1="656.20" y1="418.80" x2="656.20" y2="426.20" stroke="#b0283e" stroke-width="0.7" opacity="0.35"/><path d="M655.00,425.10 L657.40,425.10 L656.20,427.70 Z" fill="#b0283e" opacity="0.35"/><text transform="translate(662.00,417.00) rotate(-90)" font-family="Liberation Sans" font-weight="bold" font-size="6.2" fill="#a82238" stroke="#a82238" stroke-width="0.15" opacity="1.00" textLength="15.10" lengthAdjust="spacingAndGlyphs">MAX</text><line x1="660.20" y1="418.80" x2="660.20" y2="426.20" stroke="#b0283e" stroke-width="0.7" opacity="1.00"/><path d="M659.00,425.10 L661.40,425.10 L660.20,427.70 Z" fill="#b0283e" opacity="1.00"/><rect x="656.30" y="435.55" width="8.50" height="1.9" fill="#b82638"/></g>
<text x="561.0" y="265.9" font-family="Liberation Serif" font-weight="bold" font-size="19" fill="#111">H</text>
<text x="673.7" y="352.4" font-family="Liberation Serif" font-weight="bold" font-size="11" fill="#111">C</text>
<text x="674.0" y="367.9" font-family="Liberation Serif" font-weight="bold" font-size="11" fill="#111">T</text>
<text transform="translate(595.70,261.60) rotate(-60.0)" font-family="Liberation Serif" font-weight="bold" font-size="10.5" fill="#111" stroke="#111" stroke-width="0.25">NCT</text>
<text transform="translate(610.10,260.40) rotate(-60.0)" font-family="Liberation Serif" font-weight="bold" font-size="10.5" fill="#111" stroke="#111" stroke-width="0.25">1×10<tspan font-size="6.0" dx="0.5" dy="-4.2">3</tspan></text>
<text transform="translate(626.90,260.40) rotate(-60.0)" font-family="Liberation Serif" font-weight="bold" font-size="10.5" fill="#111" stroke="#111" stroke-width="0.25">1×10<tspan font-size="6.0" dx="0.5" dy="-4.2">2</tspan></text>
<text transform="translate(643.00,260.40) rotate(-60.0)" font-family="Liberation Serif" font-weight="bold" font-size="10.5" fill="#111" stroke="#111" stroke-width="0.25">1×10<tspan font-size="6.0" dx="0.5" dy="-4.2">1</tspan></text>
<text transform="translate(660.50,260.40) rotate(-60.0)" font-family="Liberation Serif" font-weight="bold" font-size="10.5" fill="#111" stroke="#111" stroke-width="0.25">1×10<tspan font-size="6.0" dx="0.5" dy="-4.2">0</tspan></text>
<text x="7.3" y="45.6" font-family="Liberation Serif" font-weight="bold" font-size="19" fill="#111">A</text>
<path d="M43.00,207.40 L43.50,207.40 L44.00,207.40 L44.50,207.40 L45.00,207.40 L45.49,207.40 L45.99,207.40 L46.49,207.40 L46.99,207.40 L47.49,207.40 L47.99,207.40 L48.49,207.40 L48.99,207.40 L49.49,207.40 L49.98,207.40 L50.48,207.40 L50.98,207.40 L51.48,207.40 L51.98,207.40 L52.48,207.40 L52.98,207.40 L53.48,207.40 L53.98,207.40 L54.47,207.40 L54.97,207.40 L55.47,207.40 L55.97,207.40 L56.47,207.40 L56.97,207.40 L57.47,207.40 L57.97,207.40 L58.47,207.40 L58.96,207.40 L59.46,207.40 L59.96,207.40 L60.46,207.40 L60.96,207.40 L61.46,207.40 L61.96,207.40 L62.46,207.40 L62.96,207.40 L63.45,207.40 L63.95,207.40 L64.45,207.40 L64.95,207.40 L65.45,207.40 L65.95,207.40 L66.45,207.40 L66.95,207.40 L67.45,207.40 L67.94,207.40 L68.44,207.40 L68.94,207.40 L69.44,207.40 L69.94,207.40 L70.44,207.40 L70.94,207.40 L71.44,207.40 L71.94,207.40 L72.44,207.40 L72.93,207.40 L73.43,207.40 L73.93,207.40 L74.43,207.40 L74.93,207.40 L75.43,207.40 L75.93,207.40 L76.43,207.40 L76.93,207.40 L77.42,207.40 L77.92,207.40 L78.42,207.40 L78.92,207.40 L79.42,207.40 L79.92,207.40 L80.42,207.40 L80.92,207.40 L81.42,207.40 L81.91,207.40 L82.41,207.40 L82.91,207.40 L83.41,207.40 L83.91,207.40 L84.41,207.40 L84.91,207.40 L85.41,207.40 L85.91,207.40 L86.40,207.40 L86.90,207.40 L87.40,207.40 L87.90,207.40 L88.40,207.40 L88.90,207.40 L89.40,207.40 L89.90,207.40 L90.40,207.40 L90.89,207.40 L91.39,207.40 L91.89,207.40 L92.39,207.40 L92.89,207.40 L93.39,207.40 L93.89,207.40 L94.39,207.40 L94.89,207.40 L95.38,207.40 L95.88,207.40 L96.38,207.40 L96.88,207.40 L97.38,207.40 L97.88,207.40 L98.38,207.40 L98.88,207.40 L99.38,207.40 L99.87,207.40 L100.37,207.40 L100.87,207.40 L101.37,207.40 L101.87,207.40 L102.37,207.40 L102.87,207.40 L103.37,207.40 L103.87,207.40 L104.36,207.40 L104.86,207.40 L105.36,207.40 L105.86,207.40 L106.36,207.40 L106.86,207.40 L107.36,207.40 L107.86,207.40 L108.36,207.40 L108.85,207.40 L109.35,207.40 L109.85,207.40 L110.35,207.40 L110.85,207.40 L111.35,207.40 L111.85,207.40 L112.35,207.40 L112.85,207.40 L113.34,207.40 L113.84,207.40 L114.34,207.40 L114.84,207.40 L115.34,207.40 L115.84,207.40 L116.34,207.40 L116.84,207.40 L117.34,207.40 L117.84,207.40 L118.33,207.40 L118.83,207.40 L119.33,207.40 L119.83,207.40 L120.33,207.40 L120.83,207.40 L121.33,207.40 L121.83,207.40 L122.33,207.40 L122.82,207.40 L123.32,207.40 L123.82,207.40 L124.32,207.40 L124.82,207.40 L125.32,207.40 L125.82,207.40 L126.32,207.40 L126.82,207.40 L127.31,207.40 L127.81,207.40 L128.31,207.40 L128.81,207.40 L129.31,207.40 L129.81,207.40 L130.31,207.40 L130.81,207.40 L131.31,207.40 L131.80,207.40 L132.30,207.40 L132.80,207.40 L133.30,207.40 L133.80,207.40 L134.30,207.40 L134.80,207.40 L135.30,207.40 L135.80,207.40 L136.29,207.40 L136.79,207.40 L137.29,207.40 L137.79,207.40 L138.29,207.40 L138.79,207.40 L139.29,207.40 L139.79,207.40 L140.29,207.40 L140.78,207.40 L141.28,207.40 L141.78,207.40 L142.28,207.40 L142.78,207.40 L143.28,207.40 L143.78,207.40 L144.28,207.40 L144.78,207.40 L145.27,207.40 L145.77,207.40 L146.27,207.40 L146.77,207.40 L147.27,207.40 L147.77,207.40 L148.27,207.40 L148.77,207.40 L149.27,207.40 L149.76,207.40 L150.26,207.40 L150.76,207.40 L151.26,207.40 L151.76,207.40 L152.26,207.40 L152.76,207.40 L153.26,207.40 L153.76,207.40 L154.25,207.40 L154.75,207.40 L155.25,207.40 L155.75,207.40 L156.25,207.40 L156.75,207.40 L157.25,207.40 L157.75,207.40 L158.25,207.40 L158.74,207.40 L159.24,207.40 L159.74,207.40 L160.24,207.40 L160.74,207.40 L161.24,207.40 L161.74,207.40 L162.24,207.40 L162.74,207.40 L163.23,207.40 L163.73,207.40 L164.23,207.40 L164.73,207.40 L165.23,207.40 L165.73,207.40 L166.23,207.40 L166.73,207.40 L167.23,207.40 L167.72,207.40 L168.22,207.40 L168.72,207.40 L169.22,207.40 L169.72,207.40 L170.22,207.40 L170.72,207.40 L171.22,207.40 L171.72,207.40 L172.22,207.40 L172.71,207.40 L173.21,207.40 L173.71,207.40 L174.21,207.40 L174.71,207.40 L175.21,207.40 L175.71,207.40 L176.21,207.40 L176.71,207.40 L177.20,207.40 L177.70,207.40 L178.20,207.40 L178.70,207.40 L179.20,207.40 L179.70,207.40 L180.20,207.40 L180.70,207.40 L181.20,207.40 L181.69,207.40 L182.19,207.40 L182.69,207.40 L183.19,207.40 L183.69,207.40 L184.19,207.40 L184.69,207.40 L185.19,207.40 L185.69,207.40 L186.18,207.40 L186.68,207.40 L187.18,207.40 L187.68,207.40 L188.18,207.40 L188.68,207.40 L189.18,207.40 L189.68,207.40 L190.18,207.40 L190.67,207.40 L191.17,207.40 L191.67,207.40 L192.17,207.40 L192.67,207.40" fill="none" stroke="#a36cd8" stroke-width="1.30" stroke-linejoin="round"/>
<path d="M43.00,204.97 L43.50,204.94 L44.00,204.91 L44.50,204.87 L45.00,204.84 L45.49,204.80 L45.99,204.75 L46.49,204.71 L46.99,204.66 L47.49,204.61 L47.99,204.56 L48.49,204.51 L48.99,204.45 L49.49,204.40 L49.98,204.34 L50.48,204.27 L50.98,204.21 L51.48,204.14 L51.98,204.07 L52.48,203.99 L52.98,203.92 L53.48,203.84 L53.98,203.76 L54.47,203.67 L54.97,203.59 L55.47,203.50 L55.97,203.40 L56.47,203.31 L56.97,203.21 L57.47,203.11 L57.97,203.00 L58.47,202.89 L58.96,202.78 L59.46,202.66 L59.96,202.54 L60.46,202.42 L60.96,202.29 L61.46,202.15 L61.96,202.00 L62.46,201.83 L62.96,201.66 L63.45,201.47 L63.95,201.27 L64.45,201.07 L64.95,200.85 L65.45,200.63 L65.95,200.40 L66.45,200.16 L66.95,199.92 L67.45,199.67 L67.94,199.42 L68.44,199.17 L68.94,198.91 L69.44,198.66 L69.94,198.40 L70.44,198.15 L70.94,197.89 L71.44,197.64 L71.94,197.40 L72.44,197.15 L72.93,196.92 L73.43,196.68 L73.93,196.45 L74.43,196.22 L74.93,195.99 L75.43,195.76 L75.93,195.53 L76.43,195.30 L76.93,195.07 L77.42,194.84 L77.92,194.61 L78.42,194.38 L78.92,194.15 L79.42,193.91 L79.92,193.68 L80.42,193.45 L80.92,193.22 L81.42,192.99 L81.91,192.75 L82.41,192.52 L82.91,192.29 L83.41,192.06 L83.91,191.82 L84.41,191.59 L84.91,191.36 L85.41,191.13 L85.91,190.90 L86.40,190.66 L86.90,190.43 L87.40,190.20 L87.90,189.97 L88.40,189.74 L88.90,189.51 L89.40,189.28 L89.90,189.05 L90.40,188.82 L90.89,188.59 L91.39,188.36 L91.89,188.13 L92.39,187.90 L92.89,187.67 L93.39,187.44 L93.89,187.21 L94.39,186.98 L94.89,186.75 L95.38,186.52 L95.88,186.29 L96.38,186.06 L96.88,185.83 L97.38,185.60 L97.88,185.36 L98.38,185.13 L98.88,184.90 L99.38,184.67 L99.87,184.44 L100.37,184.21 L100.87,183.98 L101.37,183.75 L101.87,183.52 L102.37,183.29 L102.87,183.07 L103.37,182.84 L103.87,182.61 L104.36,182.38 L104.86,182.15 L105.36,181.93 L105.86,181.70 L106.36,181.47 L106.86,181.25 L107.36,181.02 L107.86,180.79 L108.36,180.57 L108.85,180.35 L109.35,180.12 L109.85,179.90 L110.35,179.68 L110.85,179.45 L111.35,179.23 L111.85,179.01 L112.35,178.79 L112.85,178.57 L113.34,178.35 L113.84,178.13 L114.34,177.92 L114.84,177.70 L115.34,177.48 L115.84,177.27 L116.34,177.05 L116.84,176.84 L117.34,176.63 L117.84,176.41 L118.33,176.20 L118.83,175.99 L119.33,175.78 L119.83,175.56 L120.33,175.35 L120.83,175.14 L121.33,174.93 L121.83,174.72 L122.33,174.52 L122.82,174.31 L123.32,174.10 L123.82,173.89 L124.32,173.69 L124.82,173.48 L125.32,173.27 L125.82,173.07 L126.32,172.86 L126.82,172.65 L127.31,172.45 L127.81,172.24 L128.31,172.04 L128.81,171.84 L129.31,171.63 L129.81,171.43 L130.31,171.22 L130.81,171.02 L131.31,170.82 L131.80,170.61 L132.30,170.41 L132.80,170.21 L133.30,170.01 L133.80,169.80 L134.30,169.60 L134.80,169.40 L135.30,169.20 L135.80,169.00 L136.29,168.79 L136.79,168.59 L137.29,168.39 L137.79,168.19 L138.29,167.99 L138.79,167.78 L139.29,167.58 L139.79,167.38 L140.29,167.18 L140.78,166.98 L141.28,166.77 L141.78,166.57 L142.28,166.37 L142.78,166.17 L143.28,165.96 L143.78,165.76 L144.28,165.56 L144.78,165.36 L145.27,165.15 L145.77,164.95 L146.27,164.75 L146.77,164.54 L147.27,164.34 L147.77,164.13 L148.27,163.93 L148.77,163.72 L149.27,163.52 L149.76,163.31 L150.26,163.11 L150.76,162.90 L151.26,162.70 L151.76,162.49 L152.26,162.29 L152.76,162.08 L153.26,161.88 L153.76,161.67 L154.25,161.47 L154.75,161.27 L155.25,161.07 L155.75,160.87 L156.25,160.66 L156.75,160.46 L157.25,160.26 L157.75,160.06 L158.25,159.86 L158.74,159.66 L159.24,159.46 L159.74,159.26 L160.24,159.05 L160.74,158.85 L161.24,158.65 L161.74,158.45 L162.24,158.25 L162.74,158.05 L163.23,157.84 L163.73,157.64 L164.23,157.44 L164.73,157.24 L165.23,157.03 L165.73,156.83 L166.23,156.62 L166.73,156.42 L167.23,156.21 L167.72,156.00 L168.22,155.79 L168.72,155.59 L169.22,155.38 L169.72,155.17 L170.22,154.95 L170.72,154.74 L171.22,154.53 L171.72,154.31 L172.22,154.10 L172.71,153.88 L173.21,153.66 L173.71,153.45 L174.21,153.23 L174.71,153.00 L175.21,152.78 L175.71,152.56 L176.21,152.33 L176.71,152.10 L177.20,151.87 L177.70,151.64 L178.20,151.41 L178.70,151.17 L179.20,150.93 L179.70,150.69 L180.20,150.45 L180.70,150.21 L181.20,149.96 L181.69,149.71 L182.19,149.46 L182.69,149.20 L183.19,148.95 L183.69,148.69 L184.19,148.43 L184.69,148.17 L185.19,147.90 L185.69,147.64 L186.18,147.37 L186.68,147.10 L187.18,146.83 L187.68,146.56 L188.18,146.28 L188.68,146.00 L189.18,145.72 L189.68,145.44 L190.18,145.16 L190.67,144.87 L191.17,144.58 L191.67,144.29 L192.17,144.00 L192.67,143.71" fill="none" stroke="#2f9d6c" stroke-width="1.05" stroke-linejoin="round"/>
<path d="M43.00,204.71 L43.50,204.67 L44.00,204.61 L44.50,204.55 L45.00,204.46 L45.49,204.34 L45.99,204.18 L46.49,203.97 L46.99,203.69 L47.49,203.34 L47.99,202.93 L48.49,202.46 L48.99,201.96 L49.49,201.43 L49.98,200.87 L50.48,200.28 L50.98,199.65 L51.48,198.99 L51.98,198.31 L52.48,197.58 L52.98,196.83 L53.48,196.04 L53.98,195.22 L54.47,194.35 L54.97,193.43 L55.47,192.46 L55.97,191.44 L56.47,190.35 L56.97,189.21 L57.47,187.99 L57.97,186.70 L58.47,185.34 L58.96,183.89 L59.46,182.36 L59.96,180.74 L60.46,179.04 L60.96,177.28 L61.46,175.48 L61.96,173.67 L62.46,171.84 L62.96,170.01 L63.45,168.16 L63.95,166.31 L64.45,164.44 L64.95,162.57 L65.45,160.69 L65.95,158.79 L66.45,156.89 L66.95,154.98 L67.45,153.07 L67.94,151.14 L68.44,149.21 L68.94,147.27 L69.44,145.32 L69.94,143.36 L70.44,141.38 L70.94,139.38 L71.44,137.34 L71.94,135.29 L72.44,133.24 L72.93,131.23 L73.43,129.29 L73.93,127.44 L74.43,125.70 L74.93,124.07 L75.43,122.54 L75.93,121.09 L76.43,119.73 L76.93,118.44 L77.42,117.22 L77.92,116.06 L78.42,114.97 L78.92,113.93 L79.42,112.94 L79.92,112.00 L80.42,111.10 L80.92,110.23 L81.42,109.40 L81.91,108.60 L82.41,107.83 L82.91,107.08 L83.41,106.38 L83.91,105.71 L84.41,105.09 L84.91,104.51 L85.41,103.97 L85.91,103.47 L86.40,103.00 L86.90,102.56 L87.40,102.15 L87.90,101.75 L88.40,101.36 L88.90,100.98 L89.40,100.60 L89.90,100.22 L90.40,99.84 L90.89,99.46 L91.39,99.08 L91.89,98.70 L92.39,98.33 L92.89,97.96 L93.39,97.61 L93.89,97.27 L94.39,96.94 L94.89,96.63 L95.38,96.34 L95.88,96.06 L96.38,95.80 L96.88,95.54 L97.38,95.30 L97.88,95.07 L98.38,94.84 L98.88,94.63 L99.38,94.42 L99.87,94.21 L100.37,94.01 L100.87,93.82 L101.37,93.63 L101.87,93.45 L102.37,93.27 L102.87,93.10 L103.37,92.94 L103.87,92.78 L104.36,92.64 L104.86,92.50 L105.36,92.36 L105.86,92.23 L106.36,92.11 L106.86,91.99 L107.36,91.87 L107.86,91.75 L108.36,91.64 L108.85,91.53 L109.35,91.42 L109.85,91.32 L110.35,91.22 L110.85,91.12 L111.35,91.03 L111.85,90.93 L112.35,90.85 L112.85,90.76 L113.34,90.68 L113.84,90.61 L114.34,90.53 L114.84,90.46 L115.34,90.40 L115.84,90.33 L116.34,90.27 L116.84,90.20 L117.34,90.14 L117.84,90.08 L118.33,90.01 L118.83,89.95 L119.33,89.89 L119.83,89.83 L120.33,89.77 L120.83,89.72 L121.33,89.66 L121.83,89.60 L122.33,89.55 L122.82,89.49 L123.32,89.44 L123.82,89.38 L124.32,89.33 L124.82,89.28 L125.32,89.23 L125.82,89.18 L126.32,89.13 L126.82,89.08 L127.31,89.03 L127.81,88.99 L128.31,88.94 L128.81,88.89 L129.31,88.85 L129.81,88.80 L130.31,88.76 L130.81,88.72 L131.31,88.68 L131.80,88.63 L132.30,88.59 L132.80,88.55 L133.30,88.52 L133.80,88.48 L134.30,88.44 L134.80,88.40 L135.30,88.37 L135.80,88.33 L136.29,88.30 L136.79,88.26 L137.29,88.23 L137.79,88.20 L138.29,88.17 L138.79,88.14 L139.29,88.11 L139.79,88.08 L140.29,88.05 L140.78,88.02 L141.28,88.00 L141.78,87.97 L142.28,87.95 L142.78,87.92 L143.28,87.90 L143.78,87.87 L144.28,87.85 L144.78,87.82 L145.27,87.80 L145.77,87.78 L146.27,87.75 L146.77,87.73 L147.27,87.71 L147.77,87.68 L148.27,87.66 L148.77,87.64 L149.27,87.61 L149.76,87.59 L150.26,87.57 L150.76,87.55 L151.26,87.52 L151.76,87.50 L152.26,87.48 L152.76,87.46 L153.26,87.43 L153.76,87.41 L154.25,87.39 L154.75,87.37 L155.25,87.35 L155.75,87.32 L156.25,87.30 L156.75,87.28 L157.25,87.26 L157.75,87.24 L158.25,87.22 L158.74,87.20 L159.24,87.18 L159.74,87.16 L160.24,87.14 L160.74,87.12 L161.24,87.10 L161.74,87.08 L162.24,87.06 L162.74,87.04 L163.23,87.02 L163.73,87.00 L164.23,86.98 L164.73,86.96 L165.23,86.95 L165.73,86.93 L166.23,86.91 L166.73,86.89 L167.23,86.88 L167.72,86.86 L168.22,86.84 L168.72,86.83 L169.22,86.81 L169.72,86.79 L170.22,86.78 L170.72,86.76 L171.22,86.75 L171.72,86.73 L172.22,86.72 L172.71,86.70 L173.21,86.69 L173.71,86.68 L174.21,86.66 L174.71,86.65 L175.21,86.64 L175.71,86.62 L176.21,86.61 L176.71,86.60 L177.20,86.59 L177.70,86.58 L178.20,86.56 L178.70,86.55 L179.20,86.54 L179.70,86.53 L180.20,86.52 L180.70,86.51 L181.20,86.50 L181.69,86.50 L182.19,86.49 L182.69,86.48 L183.19,86.47 L183.69,86.46 L184.19,86.46 L184.69,86.45 L185.19,86.44 L185.69,86.44 L186.18,86.43 L186.68,86.43 L187.18,86.42 L187.68,86.42 L188.18,86.41 L188.68,86.41 L189.18,86.41 L189.68,86.40 L190.18,86.40 L190.67,86.40 L191.17,86.40 L191.67,86.40 L192.17,86.40 L192.67,86.40" fill="none" stroke="#3572cc" stroke-width="1.05" stroke-linejoin="round"/>
<path d="M43.00,204.71 L43.50,204.18 L44.00,203.60 L44.50,202.95 L45.00,202.22 L45.49,201.38 L45.99,200.43 L46.49,199.36 L46.99,198.16 L47.49,196.83 L47.99,195.39 L48.49,193.87 L48.99,192.30 L49.49,190.70 L49.98,189.08 L50.48,187.46 L50.98,185.85 L51.48,184.28 L51.98,182.76 L52.48,181.29 L52.98,179.83 L53.48,178.35 L53.98,176.79 L54.47,175.11 L54.97,173.28 L55.47,171.28 L55.97,169.12 L56.47,166.81 L56.97,164.38 L57.47,161.82 L57.97,159.18 L58.47,156.47 L58.96,153.70 L59.46,150.90 L59.96,148.07 L60.46,145.23 L60.96,142.38 L61.46,139.49 L61.96,136.56 L62.46,133.59 L62.96,130.61 L63.45,127.65 L63.95,124.77 L64.45,122.04 L64.95,119.48 L65.45,117.11 L65.95,114.92 L66.45,112.87 L66.95,110.95 L67.45,109.12 L67.94,107.37 L68.44,105.69 L68.94,104.08 L69.44,102.53 L69.94,101.04 L70.44,99.61 L70.94,98.26 L71.44,97.01 L71.94,95.91 L72.44,94.98 L72.93,94.23 L73.43,93.62 L73.93,93.13 L74.43,92.73 L74.93,92.39 L75.43,92.10 L75.93,91.84 L76.43,91.62 L76.93,91.41 L77.42,91.23 L77.92,91.06 L78.42,90.91 L78.92,90.78 L79.42,90.66 L79.92,90.56 L80.42,90.47 L80.92,90.39 L81.42,90.32 L81.91,90.26 L82.41,90.20 L82.91,90.15 L83.41,90.10 L83.91,90.05 L84.41,90.00 L84.91,89.96 L85.41,89.91 L85.91,89.87 L86.40,89.82 L86.90,89.77 L87.40,89.73 L87.90,89.67 L88.40,89.62 L88.90,89.57 L89.40,89.51 L89.90,89.45 L90.40,89.40 L90.89,89.34 L91.39,89.28 L91.89,89.23 L92.39,89.17 L92.89,89.11 L93.39,89.05 L93.89,89.00 L94.39,88.94 L94.89,88.89 L95.38,88.83 L95.88,88.78 L96.38,88.73 L96.88,88.68 L97.38,88.63 L97.88,88.58 L98.38,88.54 L98.88,88.50 L99.38,88.46 L99.87,88.42 L100.37,88.38 L100.87,88.35 L101.37,88.31 L101.87,88.28 L102.37,88.25 L102.87,88.22 L103.37,88.19 L103.87,88.16 L104.36,88.13 L104.86,88.10 L105.36,88.07 L105.86,88.04 L106.36,88.01 L106.86,87.99 L107.36,87.96 L107.86,87.94 L108.36,87.91 L108.85,87.89 L109.35,87.86 L109.85,87.84 L110.35,87.81 L110.85,87.79 L111.35,87.77 L111.85,87.74 L112.35,87.72 L112.85,87.70 L113.34,87.68 L113.84,87.66 L114.34,87.63 L114.84,87.61 L115.34,87.59 L115.84,87.57 L116.34,87.55 L116.84,87.52 L117.34,87.50 L117.84,87.48 L118.33,87.46 L118.83,87.44 L119.33,87.42 L119.83,87.40 L120.33,87.38 L120.83,87.35 L121.33,87.33 L121.83,87.31 L122.33,87.29 L122.82,87.27 L123.32,87.25 L123.82,87.23 L124.32,87.21 L124.82,87.19 L125.32,87.17 L125.82,87.15 L126.32,87.14 L126.82,87.12 L127.31,87.10 L127.81,87.08 L128.31,87.06 L128.81,87.04 L129.31,87.02 L129.81,87.00 L130.31,86.99 L130.81,86.97 L131.31,86.95 L131.80,86.93 L132.30,86.92 L132.80,86.90 L133.30,86.88 L133.80,86.87 L134.30,86.85 L134.80,86.83 L135.30,86.82 L135.80,86.80 L136.29,86.78 L136.79,86.77 L137.29,86.75 L137.79,86.74 L138.29,86.72 L138.79,86.71 L139.29,86.69 L139.79,86.68 L140.29,86.66 L140.78,86.65 L141.28,86.64 L141.78,86.62 L142.28,86.61 L142.78,86.60 L143.28,86.58 L143.78,86.57 L144.28,86.56 L144.78,86.54 L145.27,86.53 L145.77,86.52 L146.27,86.50 L146.77,86.49 L147.27,86.48 L147.77,86.46 L148.27,86.45 L148.77,86.44 L149.27,86.43 L149.76,86.41 L150.26,86.40 L150.76,86.39 L151.26,86.38 L151.76,86.36 L152.26,86.35 L152.76,86.34 L153.26,86.33 L153.76,86.31 L154.25,86.30 L154.75,86.29 L155.25,86.28 L155.75,86.26 L156.25,86.25 L156.75,86.24 L157.25,86.23 L157.75,86.22 L158.25,86.20 L158.74,86.19 L159.24,86.18 L159.74,86.17 L160.24,86.16 L160.74,86.15 L161.24,86.13 L161.74,86.12 L162.24,86.11 L162.74,86.10 L163.23,86.09 L163.73,86.08 L164.23,86.07 L164.73,86.06 L165.23,86.04 L165.73,86.03 L166.23,86.02 L166.73,86.01 L167.23,86.00 L167.72,85.99 L168.22,85.98 L168.72,85.97 L169.22,85.96 L169.72,85.95 L170.22,85.94 L170.72,85.93 L171.22,85.92 L171.72,85.91 L172.22,85.90 L172.71,85.89 L173.21,85.88 L173.71,85.87 L174.21,85.86 L174.71,85.85 L175.21,85.85 L175.71,85.84 L176.21,85.83 L176.71,85.82 L177.20,85.81 L177.70,85.80 L178.20,85.79 L178.70,85.78 L179.20,85.78 L179.70,85.77 L180.20,85.76 L180.70,85.75 L181.20,85.74 L181.69,85.74 L182.19,85.73 L182.69,85.72 L183.19,85.71 L183.69,85.71 L184.19,85.70 L184.69,85.69 L185.19,85.69 L185.69,85.68 L186.18,85.67 L186.68,85.67 L187.18,85.66 L187.68,85.66 L188.18,85.65 L188.68,85.64 L189.18,85.64 L189.68,85.63 L190.18,85.63 L190.67,85.62 L191.17,85.62 L191.67,85.61 L192.17,85.61 L192.67,85.60" fill="none" stroke="#da4448" stroke-width="1.05" stroke-linejoin="round"/>
<path d="M43.00,204.71 L43.50,203.23 L44.00,201.63 L44.50,199.83 L45.00,197.82 L45.49,195.64 L45.99,193.39 L46.49,191.16 L46.99,189.01 L47.49,186.97 L47.99,185.03 L48.49,183.16 L48.99,181.33 L49.49,179.49 L49.98,177.58 L50.48,175.54 L50.98,173.32 L51.48,170.89 L51.98,168.25 L52.48,165.43 L52.98,162.44 L53.48,159.33 L53.98,156.11 L54.47,152.84 L54.97,149.52 L55.47,146.20 L55.97,142.88 L56.47,139.54 L56.97,136.18 L57.47,132.75 L57.97,129.26 L58.47,125.73 L58.96,122.25 L59.46,118.88 L59.96,115.66 L60.46,112.57 L60.96,109.58 L61.46,106.67 L61.96,103.87 L62.46,101.23 L62.96,98.78 L63.45,96.50 L63.95,94.36 L64.45,92.31 L64.95,90.33 L65.45,88.45 L65.95,86.72 L66.45,85.20 L66.95,83.89 L67.45,82.78 L67.94,81.83 L68.44,80.99 L68.94,80.25 L69.44,79.60 L69.94,79.02 L70.44,78.53 L70.94,78.13 L71.44,77.79 L71.94,77.52 L72.44,77.30 L72.93,77.10 L73.43,76.94 L73.93,76.80 L74.43,76.68 L74.93,76.57 L75.43,76.47 L75.93,76.38 L76.43,76.30 L76.93,76.23 L77.42,76.16 L77.92,76.09 L78.42,76.02 L78.92,75.95 L79.42,75.89 L79.92,75.82 L80.42,75.75 L80.92,75.69 L81.42,75.62 L81.91,75.56 L82.41,75.49 L82.91,75.43 L83.41,75.37 L83.91,75.31 L84.41,75.25 L84.91,75.19 L85.41,75.13 L85.91,75.07 L86.40,75.02 L86.90,74.97 L87.40,74.91 L87.90,74.86 L88.40,74.81 L88.90,74.76 L89.40,74.71 L89.90,74.66 L90.40,74.62 L90.89,74.57 L91.39,74.53 L91.89,74.48 L92.39,74.44 L92.89,74.39 L93.39,74.35 L93.89,74.31 L94.39,74.27 L94.89,74.22 L95.38,74.18 L95.88,74.14 L96.38,74.10 L96.88,74.05 L97.38,74.01 L97.88,73.97 L98.38,73.93 L98.88,73.88 L99.38,73.84 L99.87,73.80 L100.37,73.75 L100.87,73.71 L101.37,73.66 L101.87,73.62 L102.37,73.57 L102.87,73.53 L103.37,73.48 L103.87,73.43 L104.36,73.39 L104.86,73.34 L105.36,73.30 L105.86,73.25 L106.36,73.20 L106.86,73.16 L107.36,73.11 L107.86,73.07 L108.36,73.02 L108.85,72.98 L109.35,72.93 L109.85,72.89 L110.35,72.84 L110.85,72.80 L111.35,72.76 L111.85,72.71 L112.35,72.67 L112.85,72.63 L113.34,72.58 L113.84,72.54 L114.34,72.50 L114.84,72.46 L115.34,72.42 L115.84,72.38 L116.34,72.34 L116.84,72.30 L117.34,72.26 L117.84,72.22 L118.33,72.18 L118.83,72.14 L119.33,72.10 L119.83,72.06 L120.33,72.02 L120.83,71.98 L121.33,71.94 L121.83,71.90 L122.33,71.86 L122.82,71.82 L123.32,71.78 L123.82,71.74 L124.32,71.71 L124.82,71.67 L125.32,71.63 L125.82,71.59 L126.32,71.55 L126.82,71.52 L127.31,71.48 L127.81,71.45 L128.31,71.41 L128.81,71.37 L129.31,71.34 L129.81,71.30 L130.31,71.27 L130.81,71.24 L131.31,71.20 L131.80,71.17 L132.30,71.14 L132.80,71.11 L133.30,71.08 L133.80,71.05 L134.30,71.02 L134.80,70.99 L135.30,70.96 L135.80,70.93 L136.29,70.91 L136.79,70.88 L137.29,70.85 L137.79,70.83 L138.29,70.80 L138.79,70.77 L139.29,70.75 L139.79,70.72 L140.29,70.69 L140.78,70.67 L141.28,70.64 L141.78,70.62 L142.28,70.59 L142.78,70.57 L143.28,70.54 L143.78,70.52 L144.28,70.49 L144.78,70.47 L145.27,70.45 L145.77,70.42 L146.27,70.40 L146.77,70.37 L147.27,70.35 L147.77,70.33 L148.27,70.30 L148.77,70.28 L149.27,70.26 L149.76,70.24 L150.26,70.22 L150.76,70.19 L151.26,70.17 L151.76,70.15 L152.26,70.13 L152.76,70.11 L153.26,70.09 L153.76,70.07 L154.25,70.05 L154.75,70.03 L155.25,70.01 L155.75,69.99 L156.25,69.97 L156.75,69.96 L157.25,69.94 L157.75,69.92 L158.25,69.90 L158.74,69.89 L159.24,69.87 L159.74,69.85 L160.24,69.84 L160.74,69.82 L161.24,69.81 L161.74,69.79 L162.24,69.78 L162.74,69.76 L163.23,69.75 L163.73,69.73 L164.23,69.72 L164.73,69.71 L165.23,69.70 L165.73,69.68 L166.23,69.67 L166.73,69.66 L167.23,69.65 L167.72,69.63 L168.22,69.62 L168.72,69.61 L169.22,69.60 L169.72,69.59 L170.22,69.58 L170.72,69.56 L171.22,69.55 L171.72,69.54 L172.22,69.53 L172.71,69.52 L173.21,69.51 L173.71,69.50 L174.21,69.49 L174.71,69.47 L175.21,69.46 L175.71,69.45 L176.21,69.44 L176.71,69.43 L177.20,69.42 L177.70,69.41 L178.20,69.40 L178.70,69.39 L179.20,69.38 L179.70,69.38 L180.20,69.37 L180.70,69.36 L181.20,69.35 L181.69,69.34 L182.19,69.33 L182.69,69.32 L183.19,69.32 L183.69,69.31 L184.19,69.30 L184.69,69.29 L185.19,69.29 L185.69,69.28 L186.18,69.27 L186.68,69.27 L187.18,69.26 L187.68,69.26 L188.18,69.25 L188.68,69.25 L189.18,69.24 L189.68,69.24 L190.18,69.23 L190.67,69.23 L191.17,69.22 L191.67,69.22 L192.17,69.22 L192.67,69.21" fill="none" stroke="#454545" stroke-width="1.05" stroke-linejoin="round"/>
<rect x="43.00" y="57.00" width="166.30" height="154.60" fill="none" stroke="#0a0a0a" stroke-width="1.25"/>
<line x1="43.00" y1="211.60" x2="43.00" y2="214.60" stroke="#0a0a0a" stroke-width="1.1"/>
<line x1="59.63" y1="211.60" x2="59.63" y2="213.60" stroke="#0a0a0a" stroke-width="1.1"/>
<line x1="76.26" y1="211.60" x2="76.26" y2="214.60" stroke="#0a0a0a" stroke-width="1.1"/>
<line x1="92.89" y1="211.60" x2="92.89" y2="213.60" stroke="#0a0a0a" stroke-width="1.1"/>
<line x1="109.52" y1="211.60" x2="109.52" y2="214.60" stroke="#0a0a0a" stroke-width="1.1"/>
<line x1="126.15" y1="211.60" x2="126.15" y2="213.60" stroke="#0a0a0a" stroke-width="1.1"/>
<line x1="142.78" y1="211.60" x2="142.78" y2="214.60" stroke="#0a0a0a" stroke-width="1.1"/>
<line x1="159.41" y1="211.60" x2="159.41" y2="213.60" stroke="#0a0a0a" stroke-width="1.1"/>
<line x1="176.04" y1="211.60" x2="176.04" y2="214.60" stroke="#0a0a0a" stroke-width="1.1"/>
<line x1="192.67" y1="211.60" x2="192.67" y2="213.60" stroke="#0a0a0a" stroke-width="1.1"/>
<line x1="209.30" y1="211.60" x2="209.30" y2="214.60" stroke="#0a0a0a" stroke-width="1.1"/>
<line x1="40.00" y1="211.60" x2="43.00" y2="211.60" stroke="#0a0a0a" stroke-width="1.1"/>
<line x1="41.00" y1="200.56" x2="43.00" y2="200.56" stroke="#0a0a0a" stroke-width="1.1"/>
<line x1="40.00" y1="189.51" x2="43.00" y2="189.51" stroke="#0a0a0a" stroke-width="1.1"/>
<line x1="41.00" y1="178.47" x2="43.00" y2="178.47" stroke="#0a0a0a" stroke-width="1.1"/>
<line x1="40.00" y1="167.43" x2="43.00" y2="167.43" stroke="#0a0a0a" stroke-width="1.1"/>
<line x1="41.00" y1="156.39" x2="43.00" y2="156.39" stroke="#0a0a0a" stroke-width="1.1"/>
<line x1="40.00" y1="145.34" x2="43.00" y2="145.34" stroke="#0a0a0a" stroke-width="1.1"/>
<line x1="41.00" y1="134.30" x2="43.00" y2="134.30" stroke="#0a0a0a" stroke-width="1.1"/>
<line x1="40.00" y1="123.26" x2="43.00" y2="123.26" stroke="#0a0a0a" stroke-width="1.1"/>
<line x1="41.00" y1="112.21" x2="43.00" y2="112.21" stroke="#0a0a0a" stroke-width="1.1"/>
<line x1="40.00" y1="101.17" x2="43.00" y2="101.17" stroke="#0a0a0a" stroke-width="1.1"/>
<line x1="41.00" y1="90.13" x2="43.00" y2="90.13" stroke="#0a0a0a" stroke-width="1.1"/>
<line x1="40.00" y1="79.09" x2="43.00" y2="79.09" stroke="#0a0a0a" stroke-width="1.1"/>
<line x1="41.00" y1="68.04" x2="43.00" y2="68.04" stroke="#0a0a0a" stroke-width="1.1"/>
<line x1="40.00" y1="57.00" x2="43.00" y2="57.00" stroke="#0a0a0a" stroke-width="1.1"/>
<text transform="translate(43.00,223.80) scale(0.860,1)" font-family="Liberation Serif" font-weight="bold" font-size="10.0" fill="#151515" stroke="#151515" stroke-width="0.2" text-anchor="middle">0</text>
<text transform="translate(76.26,223.80) scale(0.860,1)" font-family="Liberation Serif" font-weight="bold" font-size="10.0" fill="#151515" stroke="#151515" stroke-width="0.2" text-anchor="middle">10</text>
<text transform="translate(109.52,223.80) scale(0.860,1)" font-family="Liberation Serif" font-weight="bold" font-size="10.0" fill="#151515" stroke="#151515" stroke-width="0.2" text-anchor="middle">20</text>
<text transform="translate(142.78,223.80) scale(0.860,1)" font-family="Liberation Serif" font-weight="bold" font-size="10.0" fill="#151515" stroke="#151515" stroke-width="0.2" text-anchor="middle">30</text>
<text transform="translate(176.04,223.80) scale(0.860,1)" font-family="Liberation Serif" font-weight="bold" font-size="10.0" fill="#151515" stroke="#151515" stroke-width="0.2" text-anchor="middle">40</text>
<text transform="translate(209.30,223.80) scale(0.860,1)" font-family="Liberation Serif" font-weight="bold" font-size="10.0" fill="#151515" stroke="#151515" stroke-width="0.2" text-anchor="middle">50</text>
<text transform="translate(38.00,214.60) scale(0.860,1)" font-family="Liberation Serif" font-weight="bold" font-size="10.0" fill="#151515" stroke="#151515" stroke-width="0.2" text-anchor="end">0</text>
<text transform="translate(38.00,192.51) scale(0.860,1)" font-family="Liberation Serif" font-weight="bold" font-size="10.0" fill="#151515" stroke="#151515" stroke-width="0.2" text-anchor="end">1000</text>
<text transform="translate(38.00,170.43) scale(0.860,1)" font-family="Liberation Serif" font-weight="bold" font-size="10.0" fill="#151515" stroke="#151515" stroke-width="0.2" text-anchor="end">2000</text>
<text transform="translate(38.00,148.34) scale(0.860,1)" font-family="Liberation Serif" font-weight="bold" font-size="10.0" fill="#151515" stroke="#151515" stroke-width="0.2" text-anchor="end">3000</text>
<text transform="translate(38.00,126.26) scale(0.860,1)" font-family="Liberation Serif" font-weight="bold" font-size="10.0" fill="#151515" stroke="#151515" stroke-width="0.2" text-anchor="end">4000</text>
<text transform="translate(38.00,104.17) scale(0.860,1)" font-family="Liberation Serif" font-weight="bold" font-size="10.0" fill="#151515" stroke="#151515" stroke-width="0.2" text-anchor="end">5000</text>
<text transform="translate(38.00,82.09) scale(0.860,1)" font-family="Liberation Serif" font-weight="bold" font-size="10.0" fill="#151515" stroke="#151515" stroke-width="0.2" text-anchor="end">6000</text>
<text transform="translate(38.00,60.00) scale(0.860,1)" font-family="Liberation Serif" font-weight="bold" font-size="10.0" fill="#151515" stroke="#151515" stroke-width="0.2" text-anchor="end">7000</text>
<text x="106.20" y="240.10" font-family="Liberation Serif" font-weight="bold" font-size="11.4" fill="#111" stroke="#111" stroke-width="0.2" textLength="44.80" lengthAdjust="spacingAndGlyphs">Time(min)</text>
<text transform="translate(13.00,182.80) rotate(-90)" font-family="Liberation Serif" font-weight="bold" font-size="10.8" fill="#111" stroke="#111" stroke-width="0.2" textLength="96.80" lengthAdjust="spacing">Fluorescence(RFU)</text>
<line x1="167.30" y1="157.30" x2="186.40" y2="157.30" stroke="#555555" stroke-width="1.5"/>
<text transform="translate(188.10,160.50) scale(0.900,1)" font-family="Liberation Serif" font-weight="bold" font-size="9.2" fill="#151515" stroke="#151515" stroke-width="0.2">1×10<tspan font-size="4.6" dy="-3.4">3</tspan></text>
<line x1="167.30" y1="169.50" x2="186.40" y2="169.50" stroke="#dc5a60" stroke-width="1.5"/>
<text transform="translate(188.10,172.70) scale(0.900,1)" font-family="Liberation Serif" font-weight="bold" font-size="9.2" fill="#151515" stroke="#151515" stroke-width="0.2">1×10<tspan font-size="4.6" dy="-3.4">2</tspan></text>
<line x1="167.30" y1="181.60" x2="186.40" y2="181.60" stroke="#4a7fc6" stroke-width="1.5"/>
<text transform="translate(188.10,184.80) scale(0.900,1)" font-family="Liberation Serif" font-weight="bold" font-size="9.2" fill="#151515" stroke="#151515" stroke-width="0.2">1×10<tspan font-size="4.6" dy="-3.4">1</tspan></text>
<line x1="167.30" y1="193.80" x2="186.40" y2="193.80" stroke="#4aa67e" stroke-width="1.5"/>
<text transform="translate(188.10,197.00) scale(0.900,1)" font-family="Liberation Serif" font-weight="bold" font-size="9.2" fill="#151515" stroke="#151515" stroke-width="0.2">1×10<tspan font-size="4.6" dy="-3.4">0</tspan></text>
<line x1="167.30" y1="205.60" x2="186.40" y2="205.60" stroke="#c6a6e0" stroke-width="1.5"/>
<text transform="translate(188.10,208.80) scale(0.900,1)" font-family="Liberation Serif" font-weight="bold" font-size="9.2" fill="#151515" stroke="#151515" stroke-width="0.2">NCT</text>
<text x="358.9" y="46.0" font-family="Liberation Serif" font-weight="bold" font-size="19" fill="#111">C</text>
<path d="M389.50,208.20 L390.00,208.20 L390.49,208.20 L390.99,208.20 L391.49,208.20 L391.99,208.20 L392.48,208.20 L392.98,208.20 L393.48,208.20 L393.98,208.20 L394.47,208.20 L394.97,208.20 L395.47,208.20 L395.97,208.20 L396.46,208.20 L396.96,208.20 L397.46,208.20 L397.96,208.20 L398.45,208.20 L398.95,208.20 L399.45,208.20 L399.95,208.20 L400.44,208.20 L400.94,208.20 L401.44,208.20 L401.94,208.20 L402.43,208.20 L402.93,208.20 L403.43,208.20 L403.92,208.20 L404.42,208.20 L404.92,208.20 L405.42,208.20 L405.91,208.20 L406.41,208.20 L406.91,208.20 L407.41,208.20 L407.90,208.20 L408.40,208.20 L408.90,208.20 L409.40,208.20 L409.89,208.20 L410.39,208.20 L410.89,208.20 L411.39,208.20 L411.88,208.20 L412.38,208.20 L412.88,208.20 L413.38,208.20 L413.87,208.20 L414.37,208.20 L414.87,208.20 L415.36,208.20 L415.86,208.20 L416.36,208.20 L416.86,208.20 L417.35,208.20 L417.85,208.20 L418.35,208.20 L418.85,208.20 L419.34,208.20 L419.84,208.20 L420.34,208.20 L420.84,208.20 L421.33,208.20 L421.83,208.20 L422.33,208.20 L422.83,208.20 L423.32,208.20 L423.82,208.20 L424.32,208.20 L424.82,208.20 L425.31,208.20 L425.81,208.20 L426.31,208.20 L426.81,208.20 L427.30,208.20 L427.80,208.20 L428.30,208.20 L428.79,208.20 L429.29,208.20 L429.79,208.20 L430.29,208.20 L430.78,208.20 L431.28,208.20 L431.78,208.20 L432.28,208.20 L432.77,208.20 L433.27,208.20 L433.77,208.20 L434.27,208.20 L434.76,208.20 L435.26,208.20 L435.76,208.20 L436.26,208.20 L436.75,208.20 L437.25,208.20 L437.75,208.20 L438.25,208.20 L438.74,208.20 L439.24,208.20 L439.74,208.20 L440.23,208.20 L440.73,208.20 L441.23,208.20 L441.73,208.20 L442.22,208.20 L442.72,208.20 L443.22,208.20 L443.72,208.20 L444.21,208.20 L444.71,208.20 L445.21,208.20 L445.71,208.20 L446.20,208.20 L446.70,208.20 L447.20,208.20 L447.70,208.20 L448.19,208.20 L448.69,208.20 L449.19,208.20 L449.69,208.20 L450.18,208.20 L450.68,208.20 L451.18,208.20 L451.67,208.20 L452.17,208.20 L452.67,208.20 L453.17,208.20 L453.66,208.20 L454.16,208.20 L454.66,208.20 L455.16,208.20 L455.65,208.20 L456.15,208.20 L456.65,208.20 L457.15,208.20 L457.64,208.20 L458.14,208.20 L458.64,208.20 L459.14,208.20 L459.63,208.20 L460.13,208.20 L460.63,208.20 L461.13,208.20 L461.62,208.20 L462.12,208.20 L462.62,208.20 L463.12,208.20 L463.61,208.20 L464.11,208.20 L464.61,208.20 L465.10,208.20 L465.60,208.20 L466.10,208.20 L466.60,208.20 L467.09,208.20 L467.59,208.20 L468.09,208.20 L468.59,208.20 L469.08,208.20 L469.58,208.20 L470.08,208.20 L470.58,208.20 L471.07,208.20 L471.57,208.20 L472.07,208.20 L472.57,208.20 L473.06,208.20 L473.56,208.20 L474.06,208.20 L474.56,208.20 L475.05,208.20 L475.55,208.20 L476.05,208.20 L476.54,208.20 L477.04,208.20 L477.54,208.20 L478.04,208.20 L478.53,208.20 L479.03,208.20 L479.53,208.20 L480.03,208.20 L480.52,208.20 L481.02,208.20 L481.52,208.20 L482.02,208.20 L482.51,208.20 L483.01,208.20 L483.51,208.20 L484.01,208.20 L484.50,208.20 L485.00,208.20 L485.50,208.20 L486.00,208.20 L486.49,208.20 L486.99,208.20 L487.49,208.20 L487.99,208.20 L488.48,208.20 L488.98,208.20 L489.48,208.20 L489.97,208.20 L490.47,208.20 L490.97,208.20 L491.47,208.20 L491.96,208.20 L492.46,208.20 L492.96,208.20 L493.46,208.20 L493.95,208.20 L494.45,208.20 L494.95,208.20 L495.45,208.20 L495.94,208.20 L496.44,208.20 L496.94,208.20 L497.44,208.20 L497.93,208.20 L498.43,208.20 L498.93,208.20 L499.43,208.20 L499.92,208.20 L500.42,208.20 L500.92,208.20 L501.41,208.20 L501.91,208.20 L502.41,208.20 L502.91,208.20 L503.40,208.20 L503.90,208.20 L504.40,208.20 L504.90,208.20 L505.39,208.20 L505.89,208.20 L506.39,208.20 L506.89,208.20 L507.38,208.20 L507.88,208.20 L508.38,208.20 L508.88,208.20 L509.37,208.20 L509.87,208.20 L510.37,208.20 L510.87,208.20 L511.36,208.20 L511.86,208.20 L512.36,208.20 L512.86,208.20 L513.35,208.20 L513.85,208.20 L514.35,208.20 L514.84,208.20 L515.34,208.20 L515.84,208.20 L516.34,208.20 L516.83,208.20 L517.33,208.20 L517.83,208.20 L518.33,208.20 L518.82,208.20 L519.32,208.20 L519.82,208.20 L520.32,208.20 L520.81,208.20 L521.31,208.20 L521.81,208.20 L522.31,208.20 L522.80,208.20 L523.30,208.20 L523.80,208.20 L524.30,208.20 L524.79,208.20 L525.29,208.20 L525.79,208.20 L526.28,208.20 L526.78,208.20 L527.28,208.20 L527.78,208.20 L528.27,208.20 L528.77,208.20 L529.27,208.20 L529.77,208.20 L530.26,208.20 L530.76,208.20 L531.26,208.20 L531.76,208.20 L532.25,208.20 L532.75,208.20 L533.25,208.20 L533.75,208.20 L534.24,208.20 L534.74,208.20 L535.24,208.20 L535.74,208.20 L536.23,208.20 L536.73,208.20 L537.23,208.20 L537.73,208.20 L538.22,208.20 L538.72,208.20" fill="none" stroke="#b393da" stroke-width="1.50" stroke-linejoin="round"/>
<path d="M389.50,206.41 L390.00,206.33 L390.49,206.25 L390.99,206.17 L391.49,206.08 L391.99,206.00 L392.48,205.91 L392.98,205.83 L393.48,205.74 L393.98,205.65 L394.47,205.56 L394.97,205.46 L395.47,205.37 L395.97,205.27 L396.46,205.18 L396.96,205.08 L397.46,204.98 L397.96,204.88 L398.45,204.78 L398.95,204.68 L399.45,204.58 L399.95,204.48 L400.44,204.37 L400.94,204.27 L401.44,204.16 L401.94,204.05 L402.43,203.93 L402.93,203.82 L403.43,203.70 L403.92,203.57 L404.42,203.44 L404.92,203.31 L405.42,203.17 L405.91,203.03 L406.41,202.88 L406.91,202.72 L407.41,202.55 L407.90,202.37 L408.40,202.19 L408.90,202.00 L409.40,201.80 L409.89,201.60 L410.39,201.38 L410.89,201.17 L411.39,200.95 L411.88,200.72 L412.38,200.49 L412.88,200.26 L413.38,200.03 L413.87,199.79 L414.37,199.55 L414.87,199.31 L415.36,199.07 L415.86,198.84 L416.36,198.60 L416.86,198.36 L417.35,198.13 L417.85,197.90 L418.35,197.67 L418.85,197.45 L419.34,197.23 L419.84,197.01 L420.34,196.79 L420.84,196.58 L421.33,196.36 L421.83,196.15 L422.33,195.93 L422.83,195.72 L423.32,195.51 L423.82,195.30 L424.32,195.08 L424.82,194.87 L425.31,194.66 L425.81,194.44 L426.31,194.23 L426.81,194.02 L427.30,193.81 L427.80,193.59 L428.30,193.38 L428.79,193.17 L429.29,192.95 L429.79,192.74 L430.29,192.52 L430.78,192.30 L431.28,192.09 L431.78,191.87 L432.28,191.65 L432.77,191.43 L433.27,191.21 L433.77,190.99 L434.27,190.77 L434.76,190.55 L435.26,190.32 L435.76,190.10 L436.26,189.87 L436.75,189.64 L437.25,189.41 L437.75,189.18 L438.25,188.95 L438.74,188.71 L439.24,188.48 L439.74,188.24 L440.23,188.00 L440.73,187.76 L441.23,187.52 L441.73,187.28 L442.22,187.04 L442.72,186.80 L443.22,186.55 L443.72,186.31 L444.21,186.06 L444.71,185.82 L445.21,185.57 L445.71,185.32 L446.20,185.07 L446.70,184.83 L447.20,184.58 L447.70,184.33 L448.19,184.08 L448.69,183.83 L449.19,183.58 L449.69,183.33 L450.18,183.08 L450.68,182.83 L451.18,182.58 L451.67,182.33 L452.17,182.09 L452.67,181.84 L453.17,181.59 L453.66,181.34 L454.16,181.09 L454.66,180.85 L455.16,180.60 L455.65,180.36 L456.15,180.11 L456.65,179.87 L457.15,179.62 L457.64,179.38 L458.14,179.14 L458.64,178.90 L459.14,178.66 L459.63,178.42 L460.13,178.19 L460.63,177.95 L461.13,177.72 L461.62,177.49 L462.12,177.25 L462.62,177.03 L463.12,176.80 L463.61,176.57 L464.11,176.35 L464.61,176.12 L465.10,175.90 L465.60,175.68 L466.10,175.46 L466.60,175.24 L467.09,175.03 L467.59,174.81 L468.09,174.60 L468.59,174.39 L469.08,174.17 L469.58,173.96 L470.08,173.75 L470.58,173.54 L471.07,173.33 L471.57,173.12 L472.07,172.92 L472.57,172.71 L473.06,172.50 L473.56,172.30 L474.06,172.10 L474.56,171.89 L475.05,171.69 L475.55,171.49 L476.05,171.28 L476.54,171.08 L477.04,170.88 L477.54,170.68 L478.04,170.48 L478.53,170.28 L479.03,170.08 L479.53,169.88 L480.03,169.69 L480.52,169.49 L481.02,169.29 L481.52,169.09 L482.02,168.89 L482.51,168.70 L483.01,168.50 L483.51,168.30 L484.01,168.11 L484.50,167.91 L485.00,167.71 L485.50,167.52 L486.00,167.32 L486.49,167.12 L486.99,166.93 L487.49,166.73 L487.99,166.53 L488.48,166.34 L488.98,166.14 L489.48,165.94 L489.97,165.75 L490.47,165.55 L490.97,165.35 L491.47,165.15 L491.96,164.95 L492.46,164.75 L492.96,164.55 L493.46,164.35 L493.95,164.15 L494.45,163.95 L494.95,163.75 L495.45,163.55 L495.94,163.35 L496.44,163.14 L496.94,162.94 L497.44,162.74 L497.93,162.53 L498.43,162.33 L498.93,162.13 L499.43,161.92 L499.92,161.72 L500.42,161.52 L500.92,161.31 L501.41,161.11 L501.91,160.91 L502.41,160.70 L502.91,160.50 L503.40,160.30 L503.90,160.09 L504.40,159.89 L504.90,159.69 L505.39,159.48 L505.89,159.28 L506.39,159.07 L506.89,158.87 L507.38,158.67 L507.88,158.46 L508.38,158.26 L508.88,158.05 L509.37,157.85 L509.87,157.65 L510.37,157.44 L510.87,157.24 L511.36,157.03 L511.86,156.83 L512.36,156.62 L512.86,156.42 L513.35,156.21 L513.85,156.01 L514.35,155.80 L514.84,155.59 L515.34,155.39 L515.84,155.18 L516.34,154.97 L516.83,154.77 L517.33,154.56 L517.83,154.35 L518.33,154.15 L518.82,153.94 L519.32,153.73 L519.82,153.52 L520.32,153.31 L520.81,153.10 L521.31,152.89 L521.81,152.69 L522.31,152.48 L522.80,152.27 L523.30,152.06 L523.80,151.84 L524.30,151.63 L524.79,151.42 L525.29,151.21 L525.79,151.00 L526.28,150.79 L526.78,150.58 L527.28,150.36 L527.78,150.15 L528.27,149.94 L528.77,149.72 L529.27,149.51 L529.77,149.30 L530.26,149.08 L530.76,148.87 L531.26,148.65 L531.76,148.44 L532.25,148.22 L532.75,148.01 L533.25,147.79 L533.75,147.58 L534.24,147.36 L534.74,147.15 L535.24,146.93 L535.74,146.71 L536.23,146.50 L536.73,146.28 L537.23,146.06 L537.73,145.85 L538.22,145.63 L538.72,145.41" fill="none" stroke="#2f9d6c" stroke-width="1.05" stroke-linejoin="round"/>
<path d="M389.50,206.41 L390.00,206.32 L390.49,206.22 L390.99,206.10 L391.49,205.94 L391.99,205.75 L392.48,205.53 L392.98,205.26 L393.48,204.93 L393.98,204.55 L394.47,204.12 L394.97,203.64 L395.47,203.13 L395.97,202.59 L396.46,202.02 L396.96,201.41 L397.46,200.78 L397.96,200.11 L398.45,199.40 L398.95,198.65 L399.45,197.87 L399.95,197.05 L400.44,196.18 L400.94,195.26 L401.44,194.29 L401.94,193.26 L402.43,192.16 L402.93,190.99 L403.43,189.74 L403.92,188.41 L404.42,186.98 L404.92,185.45 L405.42,183.80 L405.91,182.04 L406.41,180.18 L406.91,178.25 L407.41,176.29 L407.90,174.33 L408.40,172.39 L408.90,170.49 L409.40,168.61 L409.89,166.76 L410.39,164.92 L410.89,163.09 L411.39,161.27 L411.88,159.47 L412.38,157.67 L412.88,155.88 L413.38,154.09 L413.87,152.31 L414.37,150.52 L414.87,148.74 L415.36,146.95 L415.86,145.16 L416.36,143.36 L416.86,141.55 L417.35,139.73 L417.85,137.91 L418.35,136.10 L418.85,134.31 L419.34,132.58 L419.84,130.90 L420.34,129.29 L420.84,127.74 L421.33,126.26 L421.83,124.84 L422.33,123.49 L422.83,122.21 L423.32,121.00 L423.82,119.84 L424.32,118.75 L424.82,117.70 L425.31,116.70 L425.81,115.74 L426.31,114.84 L426.81,113.97 L427.30,113.16 L427.80,112.38 L428.30,111.64 L428.79,110.93 L429.29,110.25 L429.79,109.59 L430.29,108.95 L430.78,108.32 L431.28,107.71 L431.78,107.10 L432.28,106.49 L432.77,105.89 L433.27,105.29 L433.77,104.69 L434.27,104.10 L434.76,103.52 L435.26,102.96 L435.76,102.41 L436.26,101.88 L436.75,101.38 L437.25,100.91 L437.75,100.46 L438.25,100.04 L438.74,99.65 L439.24,99.27 L439.74,98.90 L440.23,98.55 L440.73,98.21 L441.23,97.89 L441.73,97.58 L442.22,97.29 L442.72,97.02 L443.22,96.76 L443.72,96.53 L444.21,96.32 L444.71,96.13 L445.21,95.96 L445.71,95.80 L446.20,95.65 L446.70,95.50 L447.20,95.37 L447.70,95.23 L448.19,95.11 L448.69,94.98 L449.19,94.86 L449.69,94.75 L450.18,94.63 L450.68,94.52 L451.18,94.42 L451.67,94.32 L452.17,94.22 L452.67,94.12 L453.17,94.03 L453.66,93.93 L454.16,93.85 L454.66,93.76 L455.16,93.67 L455.65,93.59 L456.15,93.51 L456.65,93.43 L457.15,93.36 L457.64,93.28 L458.14,93.21 L458.64,93.13 L459.14,93.06 L459.63,92.99 L460.13,92.92 L460.63,92.85 L461.13,92.78 L461.62,92.71 L462.12,92.64 L462.62,92.58 L463.12,92.51 L463.61,92.44 L464.11,92.37 L464.61,92.30 L465.10,92.23 L465.60,92.16 L466.10,92.09 L466.60,92.02 L467.09,91.95 L467.59,91.88 L468.09,91.81 L468.59,91.74 L469.08,91.67 L469.58,91.60 L470.08,91.53 L470.58,91.47 L471.07,91.40 L471.57,91.33 L472.07,91.26 L472.57,91.20 L473.06,91.13 L473.56,91.07 L474.06,91.01 L474.56,90.94 L475.05,90.88 L475.55,90.82 L476.05,90.76 L476.54,90.70 L477.04,90.64 L477.54,90.58 L478.04,90.52 L478.53,90.46 L479.03,90.41 L479.53,90.35 L480.03,90.30 L480.52,90.24 L481.02,90.19 L481.52,90.14 L482.02,90.09 L482.51,90.04 L483.01,89.99 L483.51,89.95 L484.01,89.90 L484.50,89.86 L485.00,89.81 L485.50,89.77 L486.00,89.73 L486.49,89.69 L486.99,89.65 L487.49,89.62 L487.99,89.58 L488.48,89.55 L488.98,89.52 L489.48,89.48 L489.97,89.45 L490.47,89.42 L490.97,89.39 L491.47,89.36 L491.96,89.33 L492.46,89.30 L492.96,89.27 L493.46,89.24 L493.95,89.21 L494.45,89.18 L494.95,89.15 L495.45,89.12 L495.94,89.09 L496.44,89.06 L496.94,89.03 L497.44,89.00 L497.93,88.97 L498.43,88.94 L498.93,88.91 L499.43,88.88 L499.92,88.85 L500.42,88.82 L500.92,88.79 L501.41,88.77 L501.91,88.74 L502.41,88.71 L502.91,88.68 L503.40,88.65 L503.90,88.63 L504.40,88.60 L504.90,88.57 L505.39,88.55 L505.89,88.52 L506.39,88.49 L506.89,88.47 L507.38,88.44 L507.88,88.42 L508.38,88.39 L508.88,88.37 L509.37,88.34 L509.87,88.32 L510.37,88.29 L510.87,88.27 L511.36,88.24 L511.86,88.22 L512.36,88.20 L512.86,88.17 L513.35,88.15 L513.85,88.13 L514.35,88.11 L514.84,88.09 L515.34,88.07 L515.84,88.04 L516.34,88.02 L516.83,88.00 L517.33,87.98 L517.83,87.96 L518.33,87.94 L518.82,87.93 L519.32,87.91 L519.82,87.89 L520.32,87.87 L520.81,87.85 L521.31,87.84 L521.81,87.82 L522.31,87.80 L522.80,87.79 L523.30,87.77 L523.80,87.76 L524.30,87.74 L524.79,87.73 L525.29,87.72 L525.79,87.70 L526.28,87.69 L526.78,87.68 L527.28,87.67 L527.78,87.65 L528.27,87.64 L528.77,87.63 L529.27,87.62 L529.77,87.61 L530.26,87.60 L530.76,87.59 L531.26,87.59 L531.76,87.58 L532.25,87.57 L532.75,87.56 L533.25,87.56 L533.75,87.55 L534.24,87.55 L534.74,87.54 L535.24,87.54 L535.74,87.53 L536.23,87.53 L536.73,87.53 L537.23,87.53 L537.73,87.53 L538.22,87.52 L538.72,87.52" fill="none" stroke="#3572cc" stroke-width="1.05" stroke-linejoin="round"/>
<path d="M389.50,206.41 L390.00,205.54 L390.49,204.65 L390.99,203.71 L391.49,202.70 L391.99,201.63 L392.48,200.48 L392.98,199.24 L393.48,197.92 L393.98,196.53 L394.47,195.09 L394.97,193.63 L395.47,192.16 L395.97,190.71 L396.46,189.28 L396.96,187.85 L397.46,186.40 L397.96,184.92 L398.45,183.40 L398.95,181.81 L399.45,180.15 L399.95,178.40 L400.44,176.54 L400.94,174.54 L401.44,172.39 L401.94,170.09 L402.43,167.65 L402.93,165.09 L403.43,162.41 L403.92,159.65 L404.42,156.83 L404.92,153.97 L405.42,151.08 L405.91,148.20 L406.41,145.33 L406.91,142.48 L407.41,139.67 L407.90,136.88 L408.40,134.15 L408.90,131.48 L409.40,128.89 L409.89,126.39 L410.39,123.98 L410.89,121.66 L411.39,119.44 L411.88,117.31 L412.38,115.26 L412.88,113.31 L413.38,111.46 L413.87,109.70 L414.37,108.03 L414.87,106.46 L415.36,104.98 L415.86,103.61 L416.36,102.37 L416.86,101.27 L417.35,100.31 L417.85,99.50 L418.35,98.79 L418.85,98.17 L419.34,97.60 L419.84,97.06 L420.34,96.53 L420.84,95.99 L421.33,95.46 L421.83,94.94 L422.33,94.46 L422.83,94.02 L423.32,93.65 L423.82,93.34 L424.32,93.11 L424.82,92.94 L425.31,92.81 L425.81,92.71 L426.31,92.62 L426.81,92.55 L427.30,92.48 L427.80,92.42 L428.30,92.37 L428.79,92.32 L429.29,92.28 L429.79,92.24 L430.29,92.19 L430.78,92.16 L431.28,92.12 L431.78,92.08 L432.28,92.05 L432.77,92.02 L433.27,91.99 L433.77,91.96 L434.27,91.93 L434.76,91.91 L435.26,91.88 L435.76,91.86 L436.26,91.83 L436.75,91.81 L437.25,91.79 L437.75,91.76 L438.25,91.74 L438.74,91.72 L439.24,91.70 L439.74,91.68 L440.23,91.65 L440.73,91.63 L441.23,91.61 L441.73,91.58 L442.22,91.56 L442.72,91.53 L443.22,91.50 L443.72,91.48 L444.21,91.45 L444.71,91.41 L445.21,91.38 L445.71,91.35 L446.20,91.31 L446.70,91.27 L447.20,91.23 L447.70,91.19 L448.19,91.15 L448.69,91.11 L449.19,91.07 L449.69,91.02 L450.18,90.98 L450.68,90.93 L451.18,90.88 L451.67,90.83 L452.17,90.79 L452.67,90.74 L453.17,90.69 L453.66,90.64 L454.16,90.59 L454.66,90.54 L455.16,90.49 L455.65,90.44 L456.15,90.39 L456.65,90.34 L457.15,90.29 L457.64,90.24 L458.14,90.19 L458.64,90.15 L459.14,90.10 L459.63,90.05 L460.13,90.01 L460.63,89.97 L461.13,89.92 L461.62,89.88 L462.12,89.84 L462.62,89.80 L463.12,89.76 L463.61,89.73 L464.11,89.69 L464.61,89.66 L465.10,89.63 L465.60,89.60 L466.10,89.56 L466.60,89.53 L467.09,89.50 L467.59,89.47 L468.09,89.44 L468.59,89.41 L469.08,89.38 L469.58,89.35 L470.08,89.32 L470.58,89.29 L471.07,89.26 L471.57,89.23 L472.07,89.20 L472.57,89.17 L473.06,89.14 L473.56,89.11 L474.06,89.08 L474.56,89.05 L475.05,89.02 L475.55,88.99 L476.05,88.96 L476.54,88.93 L477.04,88.90 L477.54,88.87 L478.04,88.84 L478.53,88.82 L479.03,88.79 L479.53,88.76 L480.03,88.73 L480.52,88.70 L481.02,88.67 L481.52,88.64 L482.02,88.61 L482.51,88.58 L483.01,88.56 L483.51,88.53 L484.01,88.50 L484.50,88.47 L485.00,88.44 L485.50,88.41 L486.00,88.39 L486.49,88.36 L486.99,88.33 L487.49,88.30 L487.99,88.28 L488.48,88.25 L488.98,88.22 L489.48,88.19 L489.97,88.17 L490.47,88.14 L490.97,88.11 L491.47,88.09 L491.96,88.06 L492.46,88.03 L492.96,88.01 L493.46,87.98 L493.95,87.96 L494.45,87.93 L494.95,87.90 L495.45,87.88 L495.94,87.85 L496.44,87.83 L496.94,87.80 L497.44,87.78 L497.93,87.75 L498.43,87.73 L498.93,87.71 L499.43,87.68 L499.92,87.66 L500.42,87.63 L500.92,87.61 L501.41,87.59 L501.91,87.56 L502.41,87.54 L502.91,87.52 L503.40,87.50 L503.90,87.47 L504.40,87.45 L504.90,87.43 L505.39,87.41 L505.89,87.39 L506.39,87.36 L506.89,87.34 L507.38,87.32 L507.88,87.30 L508.38,87.28 L508.88,87.26 L509.37,87.24 L509.87,87.22 L510.37,87.20 L510.87,87.18 L511.36,87.16 L511.86,87.14 L512.36,87.12 L512.86,87.10 L513.35,87.09 L513.85,87.07 L514.35,87.05 L514.84,87.03 L515.34,87.01 L515.84,87.00 L516.34,86.98 L516.83,86.96 L517.33,86.95 L517.83,86.93 L518.33,86.92 L518.82,86.90 L519.32,86.88 L519.82,86.87 L520.32,86.85 L520.81,86.84 L521.31,86.83 L521.81,86.81 L522.31,86.80 L522.80,86.79 L523.30,86.77 L523.80,86.76 L524.30,86.75 L524.79,86.73 L525.29,86.72 L525.79,86.71 L526.28,86.70 L526.78,86.69 L527.28,86.68 L527.78,86.67 L528.27,86.66 L528.77,86.65 L529.27,86.64 L529.77,86.63 L530.26,86.62 L530.76,86.61 L531.26,86.60 L531.76,86.59 L532.25,86.59 L532.75,86.58 L533.25,86.57 L533.75,86.57 L534.24,86.56 L534.74,86.55 L535.24,86.55 L535.74,86.54 L536.23,86.54 L536.73,86.53 L537.23,86.53 L537.73,86.52 L538.22,86.52 L538.72,86.52" fill="none" stroke="#da4448" stroke-width="1.05" stroke-linejoin="round"/>
<path d="M389.50,206.41 L390.00,204.28 L390.49,202.11 L390.99,199.89 L391.49,197.60 L391.99,195.30 L392.48,193.03 L392.98,190.83 L393.48,188.72 L393.98,186.70 L394.47,184.75 L394.97,182.83 L395.47,180.91 L395.97,178.96 L396.46,176.91 L396.96,174.72 L397.46,172.35 L397.96,169.79 L398.45,167.06 L398.95,164.16 L399.45,161.13 L399.95,158.00 L400.44,154.80 L400.94,151.55 L401.44,148.28 L401.94,145.01 L402.43,141.77 L402.93,138.56 L403.43,135.41 L403.92,132.33 L404.42,129.30 L404.92,126.31 L405.42,123.33 L405.91,120.32 L406.41,117.29 L406.91,114.25 L407.41,111.22 L407.90,108.23 L408.40,105.28 L408.90,102.40 L409.40,99.61 L409.89,96.97 L410.39,94.53 L410.89,92.33 L411.39,90.37 L411.88,88.63 L412.38,87.09 L412.88,85.73 L413.38,84.56 L413.87,83.57 L414.37,82.78 L414.87,82.16 L415.36,81.67 L415.86,81.29 L416.36,80.97 L416.86,80.72 L417.35,80.50 L417.85,80.32 L418.35,80.17 L418.85,80.04 L419.34,79.92 L419.84,79.81 L420.34,79.70 L420.84,79.60 L421.33,79.50 L421.83,79.39 L422.33,79.28 L422.83,79.17 L423.32,79.06 L423.82,78.95 L424.32,78.84 L424.82,78.73 L425.31,78.62 L425.81,78.52 L426.31,78.41 L426.81,78.31 L427.30,78.21 L427.80,78.12 L428.30,78.03 L428.79,77.93 L429.29,77.84 L429.79,77.76 L430.29,77.67 L430.78,77.58 L431.28,77.50 L431.78,77.41 L432.28,77.33 L432.77,77.25 L433.27,77.17 L433.77,77.10 L434.27,77.03 L434.76,76.96 L435.26,76.89 L435.76,76.83 L436.26,76.78 L436.75,76.72 L437.25,76.67 L437.75,76.63 L438.25,76.58 L438.74,76.54 L439.24,76.51 L439.74,76.47 L440.23,76.43 L440.73,76.40 L441.23,76.37 L441.73,76.33 L442.22,76.30 L442.72,76.27 L443.22,76.23 L443.72,76.20 L444.21,76.16 L444.71,76.12 L445.21,76.08 L445.71,76.04 L446.20,76.00 L446.70,75.95 L447.20,75.91 L447.70,75.86 L448.19,75.82 L448.69,75.77 L449.19,75.72 L449.69,75.68 L450.18,75.63 L450.68,75.58 L451.18,75.53 L451.67,75.48 L452.17,75.43 L452.67,75.38 L453.17,75.33 L453.66,75.28 L454.16,75.23 L454.66,75.18 L455.16,75.13 L455.65,75.08 L456.15,75.03 L456.65,74.98 L457.15,74.93 L457.64,74.88 L458.14,74.83 L458.64,74.78 L459.14,74.73 L459.63,74.69 L460.13,74.64 L460.63,74.59 L461.13,74.55 L461.62,74.50 L462.12,74.46 L462.62,74.42 L463.12,74.38 L463.61,74.33 L464.11,74.30 L464.61,74.26 L465.10,74.22 L465.60,74.18 L466.10,74.14 L466.60,74.11 L467.09,74.07 L467.59,74.04 L468.09,74.00 L468.59,73.96 L469.08,73.93 L469.58,73.89 L470.08,73.86 L470.58,73.82 L471.07,73.79 L471.57,73.75 L472.07,73.72 L472.57,73.68 L473.06,73.65 L473.56,73.61 L474.06,73.58 L474.56,73.55 L475.05,73.51 L475.55,73.48 L476.05,73.44 L476.54,73.41 L477.04,73.38 L477.54,73.34 L478.04,73.31 L478.53,73.28 L479.03,73.24 L479.53,73.21 L480.03,73.18 L480.52,73.15 L481.02,73.12 L481.52,73.08 L482.02,73.05 L482.51,73.02 L483.01,72.99 L483.51,72.96 L484.01,72.93 L484.50,72.90 L485.00,72.87 L485.50,72.83 L486.00,72.80 L486.49,72.77 L486.99,72.74 L487.49,72.71 L487.99,72.69 L488.48,72.66 L488.98,72.63 L489.48,72.60 L489.97,72.57 L490.47,72.54 L490.97,72.51 L491.47,72.49 L491.96,72.46 L492.46,72.43 L492.96,72.40 L493.46,72.38 L493.95,72.35 L494.45,72.32 L494.95,72.30 L495.45,72.27 L495.94,72.24 L496.44,72.22 L496.94,72.19 L497.44,72.17 L497.93,72.14 L498.43,72.12 L498.93,72.09 L499.43,72.07 L499.92,72.04 L500.42,72.02 L500.92,72.00 L501.41,71.97 L501.91,71.95 L502.41,71.93 L502.91,71.90 L503.40,71.88 L503.90,71.86 L504.40,71.84 L504.90,71.82 L505.39,71.80 L505.89,71.78 L506.39,71.75 L506.89,71.73 L507.38,71.71 L507.88,71.69 L508.38,71.67 L508.88,71.66 L509.37,71.64 L509.87,71.62 L510.37,71.60 L510.87,71.58 L511.36,71.56 L511.86,71.55 L512.36,71.53 L512.86,71.51 L513.35,71.49 L513.85,71.48 L514.35,71.46 L514.84,71.44 L515.34,71.43 L515.84,71.41 L516.34,71.39 L516.83,71.38 L517.33,71.36 L517.83,71.34 L518.33,71.33 L518.82,71.31 L519.32,71.30 L519.82,71.28 L520.32,71.26 L520.81,71.25 L521.31,71.23 L521.81,71.22 L522.31,71.20 L522.80,71.19 L523.30,71.18 L523.80,71.16 L524.30,71.15 L524.79,71.13 L525.29,71.12 L525.79,71.11 L526.28,71.09 L526.78,71.08 L527.28,71.07 L527.78,71.05 L528.27,71.04 L528.77,71.03 L529.27,71.02 L529.77,71.00 L530.26,70.99 L530.76,70.98 L531.26,70.97 L531.76,70.96 L532.25,70.95 L532.75,70.94 L533.25,70.93 L533.75,70.92 L534.24,70.91 L534.74,70.90 L535.24,70.89 L535.74,70.88 L536.23,70.87 L536.73,70.86 L537.23,70.85 L537.73,70.84 L538.22,70.83 L538.72,70.83" fill="none" stroke="#454545" stroke-width="1.05" stroke-linejoin="round"/>
<rect x="389.50" y="58.00" width="165.80" height="153.20" fill="none" stroke="#0a0a0a" stroke-width="1.25"/>
<line x1="389.50" y1="211.20" x2="389.50" y2="214.20" stroke="#0a0a0a" stroke-width="1.1"/>
<line x1="406.08" y1="211.20" x2="406.08" y2="213.20" stroke="#0a0a0a" stroke-width="1.1"/>
<line x1="422.66" y1="211.20" x2="422.66" y2="214.20" stroke="#0a0a0a" stroke-width="1.1"/>
<line x1="439.24" y1="211.20" x2="439.24" y2="213.20" stroke="#0a0a0a" stroke-width="1.1"/>
<line x1="455.82" y1="211.20" x2="455.82" y2="214.20" stroke="#0a0a0a" stroke-width="1.1"/>
<line x1="472.40" y1="211.20" x2="472.40" y2="213.20" stroke="#0a0a0a" stroke-width="1.1"/>
<line x1="488.98" y1="211.20" x2="488.98" y2="214.20" stroke="#0a0a0a" stroke-width="1.1"/>
<line x1="505.56" y1="211.20" x2="505.56" y2="213.20" stroke="#0a0a0a" stroke-width="1.1"/>
<line x1="522.14" y1="211.20" x2="522.14" y2="214.20" stroke="#0a0a0a" stroke-width="1.1"/>
<line x1="538.72" y1="211.20" x2="538.72" y2="213.20" stroke="#0a0a0a" stroke-width="1.1"/>
<line x1="555.30" y1="211.20" x2="555.30" y2="214.20" stroke="#0a0a0a" stroke-width="1.1"/>
<line x1="386.50" y1="211.20" x2="389.50" y2="211.20" stroke="#0a0a0a" stroke-width="1.1"/>
<line x1="387.50" y1="200.26" x2="389.50" y2="200.26" stroke="#0a0a0a" stroke-width="1.1"/>
<line x1="386.50" y1="189.31" x2="389.50" y2="189.31" stroke="#0a0a0a" stroke-width="1.1"/>
<line x1="387.50" y1="178.37" x2="389.50" y2="178.37" stroke="#0a0a0a" stroke-width="1.1"/>
<line x1="386.50" y1="167.43" x2="389.50" y2="167.43" stroke="#0a0a0a" stroke-width="1.1"/>
<line x1="387.50" y1="156.49" x2="389.50" y2="156.49" stroke="#0a0a0a" stroke-width="1.1"/>
<line x1="386.50" y1="145.54" x2="389.50" y2="145.54" stroke="#0a0a0a" stroke-width="1.1"/>
<line x1="387.50" y1="134.60" x2="389.50" y2="134.60" stroke="#0a0a0a" stroke-width="1.1"/>
<line x1="386.50" y1="123.66" x2="389.50" y2="123.66" stroke="#0a0a0a" stroke-width="1.1"/>
<line x1="387.50" y1="112.71" x2="389.50" y2="112.71" stroke="#0a0a0a" stroke-width="1.1"/>
<line x1="386.50" y1="101.77" x2="389.50" y2="101.77" stroke="#0a0a0a" stroke-width="1.1"/>
<line x1="387.50" y1="90.83" x2="389.50" y2="90.83" stroke="#0a0a0a" stroke-width="1.1"/>
<line x1="386.50" y1="79.89" x2="389.50" y2="79.89" stroke="#0a0a0a" stroke-width="1.1"/>
<line x1="387.50" y1="68.94" x2="389.50" y2="68.94" stroke="#0a0a0a" stroke-width="1.1"/>
<line x1="386.50" y1="58.00" x2="389.50" y2="58.00" stroke="#0a0a0a" stroke-width="1.1"/>
<text transform="translate(389.50,224.60) scale(0.860,1)" font-family="Liberation Serif" font-weight="bold" font-size="10.4" fill="#151515" stroke="#151515" stroke-width="0.2" text-anchor="middle">0</text>
<text transform="translate(422.66,224.60) scale(0.860,1)" font-family="Liberation Serif" font-weight="bold" font-size="10.4" fill="#151515" stroke="#151515" stroke-width="0.2" text-anchor="middle">10</text>
<text transform="translate(455.82,224.60) scale(0.860,1)" font-family="Liberation Serif" font-weight="bold" font-size="10.4" fill="#151515" stroke="#151515" stroke-width="0.2" text-anchor="middle">20</text>
<text transform="translate(488.98,224.60) scale(0.860,1)" font-family="Liberation Serif" font-weight="bold" font-size="10.4" fill="#151515" stroke="#151515" stroke-width="0.2" text-anchor="middle">30</text>
<text transform="translate(522.14,224.60) scale(0.860,1)" font-family="Liberation Serif" font-weight="bold" font-size="10.4" fill="#151515" stroke="#151515" stroke-width="0.2" text-anchor="middle">40</text>
<text transform="translate(555.30,224.60) scale(0.860,1)" font-family="Liberation Serif" font-weight="bold" font-size="10.4" fill="#151515" stroke="#151515" stroke-width="0.2" text-anchor="middle">50</text>
<text transform="translate(384.90,214.34) scale(0.860,1)" font-family="Liberation Serif" font-weight="bold" font-size="10.4" fill="#151515" stroke="#151515" stroke-width="0.2" text-anchor="end">0</text>
<text transform="translate(384.90,192.45) scale(0.860,1)" font-family="Liberation Serif" font-weight="bold" font-size="10.4" fill="#151515" stroke="#151515" stroke-width="0.2" text-anchor="end">1000</text>
<text transform="translate(384.90,170.56) scale(0.860,1)" font-family="Liberation Serif" font-weight="bold" font-size="10.4" fill="#151515" stroke="#151515" stroke-width="0.2" text-anchor="end">2000</text>
<text transform="translate(384.90,148.68) scale(0.860,1)" font-family="Liberation Serif" font-weight="bold" font-size="10.4" fill="#151515" stroke="#151515" stroke-width="0.2" text-anchor="end">3000</text>
<text transform="translate(384.90,126.79) scale(0.860,1)" font-family="Liberation Serif" font-weight="bold" font-size="10.4" fill="#151515" stroke="#151515" stroke-width="0.2" text-anchor="end">4000</text>
<text transform="translate(384.90,104.91) scale(0.860,1)" font-family="Liberation Serif" font-weight="bold" font-size="10.4" fill="#151515" stroke="#151515" stroke-width="0.2" text-anchor="end">5000</text>
<text transform="translate(384.90,83.02) scale(0.860,1)" font-family="Liberation Serif" font-weight="bold" font-size="10.4" fill="#151515" stroke="#151515" stroke-width="0.2" text-anchor="end">6000</text>
<text transform="translate(384.90,61.14) scale(0.860,1)" font-family="Liberation Serif" font-weight="bold" font-size="10.4" fill="#151515" stroke="#151515" stroke-width="0.2" text-anchor="end">7000</text>
<text x="452.20" y="240.10" font-family="Liberation Serif" font-weight="bold" font-size="11.4" fill="#111" stroke="#111" stroke-width="0.2" textLength="44.60" lengthAdjust="spacingAndGlyphs">Time(min)</text>
<text transform="translate(358.80,183.20) rotate(-90)" font-family="Liberation Serif" font-weight="bold" font-size="10.8" fill="#111" stroke="#111" stroke-width="0.2" textLength="96.40" lengthAdjust="spacing">Fluorescence(RFU)</text>
<line x1="513.30" y1="158.10" x2="531.40" y2="158.10" stroke="#555555" stroke-width="1.5"/>
<text transform="translate(533.80,161.30) scale(0.900,1)" font-family="Liberation Serif" font-weight="bold" font-size="9.2" fill="#151515" stroke="#151515" stroke-width="0.2">1×10<tspan font-size="4.6" dy="-3.4">3</tspan></text>
<line x1="513.30" y1="169.80" x2="531.40" y2="169.80" stroke="#dc5a60" stroke-width="1.5"/>
<text transform="translate(533.80,173.00) scale(0.900,1)" font-family="Liberation Serif" font-weight="bold" font-size="9.2" fill="#151515" stroke="#151515" stroke-width="0.2">1×10<tspan font-size="4.6" dy="-3.4">2</tspan></text>
<line x1="513.30" y1="181.90" x2="531.40" y2="181.90" stroke="#4a7fc6" stroke-width="1.5"/>
<text transform="translate(533.80,185.10) scale(0.900,1)" font-family="Liberation Serif" font-weight="bold" font-size="9.2" fill="#151515" stroke="#151515" stroke-width="0.2">1×10<tspan font-size="4.6" dy="-3.4">1</tspan></text>
<line x1="513.30" y1="193.80" x2="531.40" y2="193.80" stroke="#4aa67e" stroke-width="1.5"/>
<text transform="translate(533.80,197.00) scale(0.900,1)" font-family="Liberation Serif" font-weight="bold" font-size="9.2" fill="#151515" stroke="#151515" stroke-width="0.2">1×10<tspan font-size="4.6" dy="-3.4">0</tspan></text>
<line x1="513.30" y1="205.80" x2="531.40" y2="205.80" stroke="#b898d8" stroke-width="1.5"/>
<text transform="translate(533.80,209.00) scale(0.900,1)" font-family="Liberation Serif" font-weight="bold" font-size="9.2" fill="#151515" stroke="#151515" stroke-width="0.2">NCT</text>
<text x="7.3" y="266.3" font-family="Liberation Serif" font-weight="bold" font-size="19" fill="#111">E</text>
<path d="M42.30,439.99 L42.81,439.99 L43.32,439.99 L43.83,439.99 L44.34,439.99 L44.86,439.99 L45.37,439.99 L45.88,439.99 L46.39,439.99 L46.90,439.99 L47.41,439.99 L47.92,439.99 L48.43,439.99 L48.95,439.99 L49.46,439.99 L49.97,439.99 L50.48,439.99 L50.99,439.99 L51.50,439.99 L52.01,439.99 L52.52,439.99 L53.04,439.99 L53.55,439.99 L54.06,439.99 L54.57,439.99 L55.08,439.99 L55.59,439.99 L56.10,439.99 L56.61,439.99 L57.12,439.99 L57.64,439.99 L58.15,439.99 L58.66,439.99 L59.17,439.99 L59.68,439.99 L60.19,439.99 L60.70,439.99 L61.21,439.99 L61.73,439.99 L62.24,439.99 L62.75,439.99 L63.26,439.99 L63.77,439.99 L64.28,439.99 L64.79,439.99 L65.30,439.99 L65.82,439.99 L66.33,439.99 L66.84,439.99 L67.35,439.99 L67.86,439.99 L68.37,439.99 L68.88,439.99 L69.39,439.99 L69.90,439.99 L70.42,439.99 L70.93,439.99 L71.44,439.99 L71.95,439.99 L72.46,439.99 L72.97,439.99 L73.48,439.99 L73.99,439.99 L74.51,439.99 L75.02,439.99 L75.53,439.99 L76.04,439.99 L76.55,439.99 L77.06,439.99 L77.57,439.99 L78.08,439.99 L78.60,439.99 L79.11,439.99 L79.62,439.99 L80.13,439.99 L80.64,439.99 L81.15,439.99 L81.66,439.99 L82.17,439.99 L82.68,439.99 L83.20,439.99 L83.71,439.99 L84.22,439.99 L84.73,439.99 L85.24,439.99 L85.75,439.99 L86.26,439.99 L86.77,439.99 L87.29,439.99 L87.80,439.99 L88.31,439.99 L88.82,439.99 L89.33,439.99 L89.84,439.99 L90.35,439.99 L90.86,439.99 L91.38,439.99 L91.89,439.99 L92.40,439.99 L92.91,439.99 L93.42,439.99 L93.93,439.99 L94.44,439.99 L94.95,439.99 L95.46,439.99 L95.98,439.99 L96.49,439.99 L97.00,439.99 L97.51,439.99 L98.02,439.99 L98.53,439.99 L99.04,439.99 L99.55,439.99 L100.07,439.99 L100.58,439.99 L101.09,439.99 L101.60,439.99 L102.11,439.99 L102.62,439.99 L103.13,439.99 L103.64,439.99 L104.16,439.99 L104.67,439.99 L105.18,439.99 L105.69,439.99 L106.20,439.99 L106.71,439.99 L107.22,439.99 L107.73,439.99 L108.24,439.99 L108.76,439.99 L109.27,439.99 L109.78,439.99 L110.29,439.99 L110.80,439.99 L111.31,439.99 L111.82,439.99 L112.33,439.99 L112.85,439.99 L113.36,439.99 L113.87,439.99 L114.38,439.99 L114.89,439.99 L115.40,439.99 L115.91,439.99 L116.42,439.99 L116.94,439.99 L117.45,439.99 L117.96,439.99 L118.47,439.99 L118.98,439.99 L119.49,439.99 L120.00,439.99 L120.51,439.99 L121.02,439.99 L121.54,439.99 L122.05,439.99 L122.56,439.99 L123.07,439.99 L123.58,439.99 L124.09,439.99 L124.60,439.99 L125.11,439.99 L125.63,439.99 L126.14,439.99 L126.65,439.99 L127.16,439.99 L127.67,439.99 L128.18,439.99 L128.69,439.99 L129.20,439.99 L129.72,439.99 L130.23,439.99 L130.74,439.99 L131.25,439.99 L131.76,439.99 L132.27,439.99 L132.78,439.99 L133.29,439.99 L133.80,439.99 L134.32,439.99 L134.83,439.99 L135.34,439.99 L135.85,439.99 L136.36,439.99 L136.87,439.99 L137.38,439.99 L137.89,439.99 L138.41,439.99 L138.92,439.99 L139.43,439.99 L139.94,439.99 L140.45,439.99 L140.96,439.99 L141.47,439.99 L141.98,439.99 L142.50,439.99 L143.01,439.99 L143.52,439.99 L144.03,439.99 L144.54,439.99 L145.05,439.99 L145.56,439.99 L146.07,439.99 L146.58,439.99 L147.10,439.99 L147.61,439.99 L148.12,439.99 L148.63,439.99 L149.14,439.99 L149.65,439.99 L150.16,439.99 L150.67,439.99 L151.19,439.99 L151.70,439.99 L152.21,439.99 L152.72,439.99 L153.23,439.99 L153.74,439.99 L154.25,439.99 L154.76,439.99 L155.28,439.99 L155.79,439.99 L156.30,439.99 L156.81,439.99 L157.32,439.99 L157.83,439.99 L158.34,439.99 L158.85,439.99 L159.36,439.99 L159.88,439.99 L160.39,439.99 L160.90,439.99 L161.41,439.99 L161.92,439.99 L162.43,439.99 L162.94,439.99 L163.45,439.99 L163.97,439.99 L164.48,439.99 L164.99,439.99 L165.50,439.99 L166.01,439.99 L166.52,439.99 L167.03,439.99 L167.54,439.99 L168.06,439.99 L168.57,439.99 L169.08,439.99 L169.59,439.99 L170.10,439.99 L170.61,439.99 L171.12,439.99 L171.63,439.99 L172.14,439.99 L172.66,439.99 L173.17,439.99 L173.68,439.99 L174.19,439.99 L174.70,439.99 L175.21,439.99 L175.72,439.99 L176.23,439.99 L176.75,439.99 L177.26,439.99 L177.77,439.99 L178.28,439.99 L178.79,439.99 L179.30,439.99 L179.81,439.99 L180.32,439.99 L180.84,439.99 L181.35,439.99 L181.86,439.99 L182.37,439.99 L182.88,439.99 L183.39,439.99 L183.90,439.99 L184.41,439.99 L184.92,439.99 L185.44,439.99 L185.95,439.99 L186.46,439.99 L186.97,439.99 L187.48,439.99 L187.99,439.99 L188.50,439.99 L189.01,439.99 L189.53,439.99 L190.04,439.99 L190.55,439.99 L191.06,439.99 L191.57,439.99 L192.08,439.99 L192.59,439.99 L193.10,439.99 L193.62,439.99 L194.13,439.99 L194.64,439.99 L195.15,439.99 L195.66,439.99" fill="none" stroke="#a06ad8" stroke-width="1.20" stroke-linejoin="round"/>
<path d="M42.30,439.00 L42.81,438.89 L43.33,438.77 L43.84,438.66 L44.35,438.54 L44.87,438.42 L45.38,438.31 L45.89,438.19 L46.41,438.07 L46.92,437.95 L47.43,437.82 L47.95,437.70 L48.46,437.58 L48.98,437.45 L49.49,437.33 L50.00,437.20 L50.52,437.08 L51.03,436.95 L51.54,436.83 L52.06,436.70 L52.57,436.58 L53.08,436.45 L53.60,436.33 L54.11,436.20 L54.62,436.07 L55.14,435.94 L55.65,435.80 L56.16,435.67 L56.68,435.53 L57.19,435.39 L57.70,435.25 L58.22,435.10 L58.73,434.95 L59.24,434.80 L59.76,434.65 L60.27,434.49 L60.78,434.33 L61.30,434.16 L61.81,433.99 L62.33,433.81 L62.84,433.62 L63.35,433.43 L63.87,433.24 L64.38,433.04 L64.89,432.84 L65.41,432.63 L65.92,432.42 L66.43,432.21 L66.95,431.99 L67.46,431.77 L67.97,431.55 L68.49,431.33 L69.00,431.11 L69.51,430.88 L70.03,430.66 L70.54,430.43 L71.05,430.21 L71.57,429.99 L72.08,429.76 L72.59,429.54 L73.11,429.32 L73.62,429.10 L74.14,428.87 L74.65,428.65 L75.16,428.43 L75.68,428.20 L76.19,427.97 L76.70,427.74 L77.22,427.51 L77.73,427.28 L78.24,427.05 L78.76,426.82 L79.27,426.60 L79.78,426.37 L80.30,426.14 L80.81,425.92 L81.32,425.70 L81.84,425.48 L82.35,425.26 L82.86,425.04 L83.38,424.83 L83.89,424.62 L84.40,424.41 L84.92,424.20 L85.43,423.99 L85.95,423.78 L86.46,423.57 L86.97,423.36 L87.49,423.15 L88.00,422.93 L88.51,422.72 L89.03,422.50 L89.54,422.29 L90.05,422.07 L90.57,421.85 L91.08,421.62 L91.59,421.40 L92.11,421.17 L92.62,420.95 L93.13,420.72 L93.65,420.49 L94.16,420.26 L94.67,420.03 L95.19,419.80 L95.70,419.57 L96.21,419.33 L96.73,419.10 L97.24,418.87 L97.75,418.63 L98.27,418.40 L98.78,418.16 L99.30,417.92 L99.81,417.68 L100.32,417.45 L100.84,417.21 L101.35,416.97 L101.86,416.73 L102.38,416.49 L102.89,416.25 L103.40,416.01 L103.92,415.77 L104.43,415.53 L104.94,415.29 L105.46,415.05 L105.97,414.81 L106.48,414.56 L107.00,414.32 L107.51,414.08 L108.02,413.84 L108.54,413.60 L109.05,413.35 L109.56,413.11 L110.08,412.87 L110.59,412.63 L111.11,412.39 L111.62,412.15 L112.13,411.91 L112.65,411.66 L113.16,411.42 L113.67,411.18 L114.19,410.94 L114.70,410.70 L115.21,410.46 L115.73,410.23 L116.24,409.99 L116.75,409.75 L117.27,409.51 L117.78,409.27 L118.29,409.03 L118.81,408.79 L119.32,408.55 L119.83,408.31 L120.35,408.07 L120.86,407.83 L121.37,407.59 L121.89,407.35 L122.40,407.11 L122.92,406.86 L123.43,406.62 L123.94,406.38 L124.46,406.13 L124.97,405.89 L125.48,405.64 L126.00,405.40 L126.51,405.15 L127.02,404.91 L127.54,404.66 L128.05,404.42 L128.56,404.17 L129.08,403.93 L129.59,403.68 L130.10,403.43 L130.62,403.19 L131.13,402.94 L131.64,402.70 L132.16,402.45 L132.67,402.21 L133.18,401.96 L133.70,401.72 L134.21,401.47 L134.72,401.23 L135.24,400.98 L135.75,400.74 L136.27,400.49 L136.78,400.25 L137.29,400.01 L137.81,399.76 L138.32,399.52 L138.83,399.28 L139.35,399.04 L139.86,398.80 L140.37,398.56 L140.89,398.32 L141.40,398.08 L141.91,397.84 L142.43,397.60 L142.94,397.36 L143.45,397.13 L143.97,396.89 L144.48,396.65 L144.99,396.42 L145.51,396.19 L146.02,395.95 L146.53,395.72 L147.05,395.49 L147.56,395.26 L148.08,395.03 L148.59,394.80 L149.10,394.58 L149.62,394.35 L150.13,394.12 L150.64,393.90 L151.16,393.68 L151.67,393.46 L152.18,393.23 L152.70,393.02 L153.21,392.80 L153.72,392.58 L154.24,392.36 L154.75,392.15 L155.26,391.94 L155.78,391.73 L156.29,391.52 L156.80,391.31 L157.32,391.10 L157.83,390.90 L158.34,390.69 L158.86,390.49 L159.37,390.29 L159.89,390.09 L160.40,389.89 L160.91,389.69 L161.43,389.50 L161.94,389.30 L162.45,389.10 L162.97,388.91 L163.48,388.72 L163.99,388.52 L164.51,388.33 L165.02,388.14 L165.53,387.95 L166.05,387.76 L166.56,387.57 L167.07,387.38 L167.59,387.19 L168.10,387.00 L168.61,386.81 L169.13,386.62 L169.64,386.43 L170.15,386.24 L170.67,386.05 L171.18,385.86 L171.69,385.67 L172.21,385.48 L172.72,385.29 L173.24,385.10 L173.75,384.91 L174.26,384.72 L174.78,384.52 L175.29,384.33 L175.80,384.14 L176.32,383.94 L176.83,383.75 L177.34,383.55 L177.86,383.35 L178.37,383.15 L178.88,382.95 L179.40,382.75 L179.91,382.55 L180.42,382.35 L180.94,382.15 L181.45,381.95 L181.96,381.75 L182.48,381.55 L182.99,381.34 L183.50,381.14 L184.02,380.94 L184.53,380.73 L185.05,380.53 L185.56,380.33 L186.07,380.12 L186.59,379.92 L187.10,379.72 L187.61,379.51 L188.13,379.31 L188.64,379.10 L189.15,378.90 L189.67,378.69 L190.18,378.48 L190.69,378.28 L191.21,378.07 L191.72,377.87 L192.23,377.66 L192.75,377.45 L193.26,377.24 L193.77,377.04 L194.29,376.83 L194.80,376.62 L195.31,376.41 L195.83,376.21 L196.34,376.00" fill="none" stroke="#2f9d6c" stroke-width="1.05" stroke-linejoin="round"/>
<path d="M42.30,439.00 L42.81,438.88 L43.33,438.73 L43.84,438.54 L44.35,438.31 L44.87,438.03 L45.38,437.70 L45.89,437.33 L46.41,436.90 L46.92,436.40 L47.43,435.80 L47.95,435.12 L48.46,434.36 L48.98,433.54 L49.49,432.69 L50.00,431.81 L50.52,430.93 L51.03,430.04 L51.54,429.14 L52.06,428.21 L52.57,427.27 L53.08,426.31 L53.60,425.32 L54.11,424.32 L54.62,423.29 L55.14,422.25 L55.65,421.18 L56.16,420.08 L56.68,418.95 L57.19,417.78 L57.70,416.57 L58.22,415.30 L58.73,413.97 L59.24,412.58 L59.76,411.14 L60.27,409.63 L60.78,408.07 L61.30,406.46 L61.81,404.79 L62.33,403.08 L62.84,401.30 L63.35,399.48 L63.87,397.60 L64.38,395.68 L64.89,393.73 L65.41,391.75 L65.92,389.75 L66.43,387.74 L66.95,385.74 L67.46,383.74 L67.97,381.77 L68.49,379.82 L69.00,377.91 L69.51,376.05 L70.03,374.24 L70.54,372.49 L71.05,370.80 L71.57,369.19 L72.08,367.63 L72.59,366.13 L73.11,364.68 L73.62,363.27 L74.14,361.90 L74.65,360.56 L75.16,359.25 L75.68,357.97 L76.19,356.72 L76.70,355.50 L77.22,354.32 L77.73,353.17 L78.24,352.06 L78.76,350.97 L79.27,349.92 L79.78,348.89 L80.30,347.89 L80.81,346.92 L81.32,345.99 L81.84,345.08 L82.35,344.21 L82.86,343.37 L83.38,342.55 L83.89,341.75 L84.40,340.97 L84.92,340.21 L85.43,339.46 L85.95,338.72 L86.46,337.98 L86.97,337.25 L87.49,336.51 L88.00,335.77 L88.51,335.03 L89.03,334.31 L89.54,333.60 L90.05,332.91 L90.57,332.26 L91.08,331.65 L91.59,331.07 L92.11,330.54 L92.62,330.03 L93.13,329.56 L93.65,329.10 L94.16,328.66 L94.67,328.23 L95.19,327.82 L95.70,327.43 L96.21,327.06 L96.73,326.71 L97.24,326.38 L97.75,326.08 L98.27,325.81 L98.78,325.57 L99.30,325.35 L99.81,325.16 L100.32,325.00 L100.84,324.85 L101.35,324.71 L101.86,324.57 L102.38,324.45 L102.89,324.32 L103.40,324.21 L103.92,324.09 L104.43,323.98 L104.94,323.88 L105.46,323.77 L105.97,323.67 L106.48,323.58 L107.00,323.49 L107.51,323.40 L108.02,323.31 L108.54,323.23 L109.05,323.15 L109.56,323.07 L110.08,323.00 L110.59,322.93 L111.11,322.86 L111.62,322.79 L112.13,322.72 L112.65,322.66 L113.16,322.60 L113.67,322.54 L114.19,322.48 L114.70,322.42 L115.21,322.36 L115.73,322.31 L116.24,322.25 L116.75,322.20 L117.27,322.15 L117.78,322.09 L118.29,322.04 L118.81,321.99 L119.32,321.94 L119.83,321.88 L120.35,321.83 L120.86,321.78 L121.37,321.73 L121.89,321.68 L122.40,321.63 L122.92,321.58 L123.43,321.53 L123.94,321.49 L124.46,321.44 L124.97,321.39 L125.48,321.35 L126.00,321.30 L126.51,321.26 L127.02,321.22 L127.54,321.17 L128.05,321.13 L128.56,321.09 L129.08,321.05 L129.59,321.01 L130.10,320.97 L130.62,320.93 L131.13,320.89 L131.64,320.85 L132.16,320.81 L132.67,320.78 L133.18,320.74 L133.70,320.70 L134.21,320.67 L134.72,320.63 L135.24,320.60 L135.75,320.57 L136.27,320.53 L136.78,320.50 L137.29,320.47 L137.81,320.44 L138.32,320.41 L138.83,320.38 L139.35,320.35 L139.86,320.32 L140.37,320.29 L140.89,320.26 L141.40,320.23 L141.91,320.21 L142.43,320.18 L142.94,320.15 L143.45,320.13 L143.97,320.10 L144.48,320.08 L144.99,320.05 L145.51,320.03 L146.02,320.00 L146.53,319.98 L147.05,319.95 L147.56,319.93 L148.08,319.91 L148.59,319.88 L149.10,319.86 L149.62,319.83 L150.13,319.81 L150.64,319.79 L151.16,319.76 L151.67,319.74 L152.18,319.71 L152.70,319.69 L153.21,319.67 L153.72,319.64 L154.24,319.62 L154.75,319.60 L155.26,319.57 L155.78,319.55 L156.29,319.53 L156.80,319.51 L157.32,319.48 L157.83,319.46 L158.34,319.44 L158.86,319.41 L159.37,319.39 L159.89,319.37 L160.40,319.35 L160.91,319.33 L161.43,319.30 L161.94,319.28 L162.45,319.26 L162.97,319.24 L163.48,319.22 L163.99,319.20 L164.51,319.18 L165.02,319.16 L165.53,319.14 L166.05,319.12 L166.56,319.10 L167.07,319.08 L167.59,319.06 L168.10,319.04 L168.61,319.02 L169.13,319.00 L169.64,318.98 L170.15,318.96 L170.67,318.94 L171.18,318.92 L171.69,318.91 L172.21,318.89 L172.72,318.87 L173.24,318.85 L173.75,318.84 L174.26,318.82 L174.78,318.80 L175.29,318.79 L175.80,318.77 L176.32,318.75 L176.83,318.74 L177.34,318.72 L177.86,318.71 L178.37,318.69 L178.88,318.68 L179.40,318.66 L179.91,318.65 L180.42,318.64 L180.94,318.62 L181.45,318.61 L181.96,318.60 L182.48,318.58 L182.99,318.57 L183.50,318.56 L184.02,318.55 L184.53,318.54 L185.05,318.53 L185.56,318.51 L186.07,318.50 L186.59,318.49 L187.10,318.48 L187.61,318.47 L188.13,318.47 L188.64,318.46 L189.15,318.45 L189.67,318.44 L190.18,318.43 L190.69,318.43 L191.21,318.42 L191.72,318.41 L192.23,318.41 L192.75,318.40 L193.26,318.39 L193.77,318.39 L194.29,318.39 L194.80,318.38 L195.31,318.38 L195.83,318.37 L196.34,318.37" fill="none" stroke="#3572cc" stroke-width="1.05" stroke-linejoin="round"/>
<path d="M42.30,439.00 L42.81,438.24 L43.33,437.43 L43.84,436.51 L44.35,435.45 L44.87,434.23 L45.38,432.84 L45.89,431.26 L46.41,429.50 L46.92,427.60 L47.43,425.59 L47.95,423.52 L48.46,421.40 L48.98,419.25 L49.49,417.06 L50.00,414.84 L50.52,412.60 L51.03,410.36 L51.54,408.13 L52.06,405.92 L52.57,403.74 L53.08,401.60 L53.60,399.49 L54.11,397.40 L54.62,395.34 L55.14,393.28 L55.65,391.23 L56.16,389.19 L56.68,387.14 L57.19,385.07 L57.70,383.00 L58.22,380.90 L58.73,378.77 L59.24,376.60 L59.76,374.38 L60.27,372.11 L60.78,369.79 L61.30,367.45 L61.81,365.14 L62.33,362.94 L62.84,360.89 L63.35,359.01 L63.87,357.26 L64.38,355.60 L64.89,353.96 L65.41,352.31 L65.92,350.65 L66.43,348.98 L66.95,347.31 L67.46,345.66 L67.97,344.03 L68.49,342.43 L69.00,340.85 L69.51,339.29 L70.03,337.75 L70.54,336.23 L71.05,334.73 L71.57,333.27 L72.08,331.86 L72.59,330.51 L73.11,329.24 L73.62,328.06 L74.14,326.99 L74.65,326.07 L75.16,325.29 L75.68,324.64 L76.19,324.11 L76.70,323.67 L77.22,323.30 L77.73,322.99 L78.24,322.72 L78.76,322.50 L79.27,322.31 L79.78,322.15 L80.30,322.03 L80.81,321.93 L81.32,321.87 L81.84,321.82 L82.35,321.78 L82.86,321.75 L83.38,321.73 L83.89,321.71 L84.40,321.69 L84.92,321.67 L85.43,321.65 L85.95,321.64 L86.46,321.62 L86.97,321.60 L87.49,321.58 L88.00,321.55 L88.51,321.53 L89.03,321.50 L89.54,321.48 L90.05,321.45 L90.57,321.42 L91.08,321.39 L91.59,321.37 L92.11,321.34 L92.62,321.31 L93.13,321.28 L93.65,321.25 L94.16,321.22 L94.67,321.19 L95.19,321.16 L95.70,321.13 L96.21,321.10 L96.73,321.07 L97.24,321.04 L97.75,321.01 L98.27,320.98 L98.78,320.95 L99.30,320.92 L99.81,320.89 L100.32,320.86 L100.84,320.83 L101.35,320.79 L101.86,320.76 L102.38,320.73 L102.89,320.70 L103.40,320.66 L103.92,320.63 L104.43,320.59 L104.94,320.56 L105.46,320.52 L105.97,320.49 L106.48,320.45 L107.00,320.42 L107.51,320.38 L108.02,320.35 L108.54,320.31 L109.05,320.28 L109.56,320.24 L110.08,320.21 L110.59,320.17 L111.11,320.13 L111.62,320.10 L112.13,320.07 L112.65,320.03 L113.16,320.00 L113.67,319.96 L114.19,319.93 L114.70,319.90 L115.21,319.86 L115.73,319.83 L116.24,319.80 L116.75,319.77 L117.27,319.74 L117.78,319.71 L118.29,319.68 L118.81,319.65 L119.32,319.62 L119.83,319.59 L120.35,319.56 L120.86,319.54 L121.37,319.51 L121.89,319.48 L122.40,319.45 L122.92,319.43 L123.43,319.40 L123.94,319.38 L124.46,319.35 L124.97,319.32 L125.48,319.30 L126.00,319.27 L126.51,319.25 L127.02,319.22 L127.54,319.20 L128.05,319.17 L128.56,319.15 L129.08,319.12 L129.59,319.10 L130.10,319.07 L130.62,319.05 L131.13,319.03 L131.64,319.00 L132.16,318.98 L132.67,318.96 L133.18,318.93 L133.70,318.91 L134.21,318.89 L134.72,318.87 L135.24,318.84 L135.75,318.82 L136.27,318.80 L136.78,318.78 L137.29,318.76 L137.81,318.74 L138.32,318.72 L138.83,318.70 L139.35,318.68 L139.86,318.66 L140.37,318.64 L140.89,318.62 L141.40,318.61 L141.91,318.59 L142.43,318.57 L142.94,318.56 L143.45,318.54 L143.97,318.52 L144.48,318.51 L144.99,318.49 L145.51,318.48 L146.02,318.46 L146.53,318.44 L147.05,318.43 L147.56,318.41 L148.08,318.40 L148.59,318.38 L149.10,318.37 L149.62,318.35 L150.13,318.34 L150.64,318.32 L151.16,318.31 L151.67,318.29 L152.18,318.28 L152.70,318.26 L153.21,318.25 L153.72,318.23 L154.24,318.22 L154.75,318.20 L155.26,318.19 L155.78,318.17 L156.29,318.16 L156.80,318.14 L157.32,318.13 L157.83,318.12 L158.34,318.10 L158.86,318.09 L159.37,318.07 L159.89,318.06 L160.40,318.05 L160.91,318.03 L161.43,318.02 L161.94,318.00 L162.45,317.99 L162.97,317.98 L163.48,317.96 L163.99,317.95 L164.51,317.94 L165.02,317.92 L165.53,317.91 L166.05,317.90 L166.56,317.88 L167.07,317.87 L167.59,317.86 L168.10,317.85 L168.61,317.83 L169.13,317.82 L169.64,317.81 L170.15,317.80 L170.67,317.79 L171.18,317.77 L171.69,317.76 L172.21,317.75 L172.72,317.74 L173.24,317.73 L173.75,317.72 L174.26,317.71 L174.78,317.69 L175.29,317.68 L175.80,317.67 L176.32,317.66 L176.83,317.65 L177.34,317.64 L177.86,317.63 L178.37,317.62 L178.88,317.61 L179.40,317.60 L179.91,317.59 L180.42,317.58 L180.94,317.57 L181.45,317.57 L181.96,317.56 L182.48,317.55 L182.99,317.54 L183.50,317.53 L184.02,317.52 L184.53,317.52 L185.05,317.51 L185.56,317.50 L186.07,317.49 L186.59,317.49 L187.10,317.48 L187.61,317.47 L188.13,317.46 L188.64,317.46 L189.15,317.45 L189.67,317.45 L190.18,317.44 L190.69,317.43 L191.21,317.43 L191.72,317.42 L192.23,317.42 L192.75,317.41 L193.26,317.41 L193.77,317.40 L194.29,317.40 L194.80,317.39 L195.31,317.39 L195.83,317.39 L196.34,317.38" fill="none" stroke="#da4448" stroke-width="1.05" stroke-linejoin="round"/>
<path d="M42.30,439.00 L42.81,436.58 L43.33,434.14 L43.84,431.69 L44.35,429.23 L44.87,426.76 L45.38,424.27 L45.89,421.77 L46.41,419.25 L46.92,416.72 L47.43,414.16 L47.95,411.57 L48.46,408.93 L48.98,406.22 L49.49,403.44 L50.00,400.56 L50.52,397.60 L51.03,394.58 L51.54,391.51 L52.06,388.42 L52.57,385.36 L53.08,382.34 L53.60,379.41 L54.11,376.60 L54.62,373.93 L55.14,371.42 L55.65,369.07 L56.16,366.87 L56.68,364.78 L57.19,362.76 L57.70,360.77 L58.22,358.78 L58.73,356.75 L59.24,354.63 L59.76,352.42 L60.27,350.10 L60.78,347.72 L61.30,345.30 L61.81,342.86 L62.33,340.38 L62.84,337.84 L63.35,335.25 L63.87,332.66 L64.38,330.17 L64.89,327.82 L65.41,325.64 L65.92,323.58 L66.43,321.63 L66.95,319.78 L67.46,318.07 L67.97,316.52 L68.49,315.14 L69.00,313.93 L69.51,312.88 L70.03,311.96 L70.54,311.16 L71.05,310.46 L71.57,309.84 L72.08,309.31 L72.59,308.84 L73.11,308.44 L73.62,308.09 L74.14,307.78 L74.65,307.52 L75.16,307.31 L75.68,307.14 L76.19,307.02 L76.70,306.97 L77.22,306.98 L77.73,307.04 L78.24,307.14 L78.76,307.24 L79.27,307.34 L79.78,307.42 L80.30,307.47 L80.81,307.50 L81.32,307.51 L81.84,307.52 L82.35,307.52 L82.86,307.52 L83.38,307.52 L83.89,307.52 L84.40,307.52 L84.92,307.52 L85.43,307.51 L85.95,307.50 L86.46,307.48 L86.97,307.46 L87.49,307.43 L88.00,307.40 L88.51,307.37 L89.03,307.33 L89.54,307.29 L90.05,307.25 L90.57,307.21 L91.08,307.17 L91.59,307.13 L92.11,307.09 L92.62,307.06 L93.13,307.02 L93.65,306.98 L94.16,306.94 L94.67,306.89 L95.19,306.85 L95.70,306.81 L96.21,306.76 L96.73,306.72 L97.24,306.67 L97.75,306.63 L98.27,306.58 L98.78,306.53 L99.30,306.48 L99.81,306.44 L100.32,306.39 L100.84,306.34 L101.35,306.29 L101.86,306.23 L102.38,306.18 L102.89,306.13 L103.40,306.07 L103.92,306.02 L104.43,305.96 L104.94,305.90 L105.46,305.85 L105.97,305.79 L106.48,305.73 L107.00,305.67 L107.51,305.61 L108.02,305.55 L108.54,305.49 L109.05,305.43 L109.56,305.37 L110.08,305.31 L110.59,305.25 L111.11,305.19 L111.62,305.12 L112.13,305.06 L112.65,305.00 L113.16,304.94 L113.67,304.88 L114.19,304.82 L114.70,304.76 L115.21,304.70 L115.73,304.65 L116.24,304.59 L116.75,304.53 L117.27,304.47 L117.78,304.42 L118.29,304.36 L118.81,304.31 L119.32,304.25 L119.83,304.20 L120.35,304.15 L120.86,304.09 L121.37,304.04 L121.89,303.99 L122.40,303.94 L122.92,303.88 L123.43,303.83 L123.94,303.78 L124.46,303.73 L124.97,303.67 L125.48,303.62 L126.00,303.57 L126.51,303.52 L127.02,303.47 L127.54,303.41 L128.05,303.36 L128.56,303.31 L129.08,303.26 L129.59,303.21 L130.10,303.16 L130.62,303.11 L131.13,303.06 L131.64,303.01 L132.16,302.96 L132.67,302.91 L133.18,302.86 L133.70,302.81 L134.21,302.76 L134.72,302.72 L135.24,302.67 L135.75,302.62 L136.27,302.58 L136.78,302.53 L137.29,302.49 L137.81,302.44 L138.32,302.40 L138.83,302.35 L139.35,302.31 L139.86,302.27 L140.37,302.23 L140.89,302.19 L141.40,302.15 L141.91,302.11 L142.43,302.07 L142.94,302.03 L143.45,301.99 L143.97,301.96 L144.48,301.92 L144.99,301.89 L145.51,301.85 L146.02,301.82 L146.53,301.78 L147.05,301.74 L147.56,301.71 L148.08,301.67 L148.59,301.64 L149.10,301.60 L149.62,301.56 L150.13,301.53 L150.64,301.49 L151.16,301.45 L151.67,301.42 L152.18,301.38 L152.70,301.34 L153.21,301.31 L153.72,301.27 L154.24,301.23 L154.75,301.20 L155.26,301.16 L155.78,301.12 L156.29,301.09 L156.80,301.05 L157.32,301.02 L157.83,300.98 L158.34,300.95 L158.86,300.91 L159.37,300.88 L159.89,300.84 L160.40,300.81 L160.91,300.77 L161.43,300.74 L161.94,300.71 L162.45,300.68 L162.97,300.65 L163.48,300.61 L163.99,300.58 L164.51,300.55 L165.02,300.52 L165.53,300.49 L166.05,300.46 L166.56,300.44 L167.07,300.41 L167.59,300.38 L168.10,300.36 L168.61,300.33 L169.13,300.31 L169.64,300.28 L170.15,300.26 L170.67,300.23 L171.18,300.21 L171.69,300.19 L172.21,300.17 L172.72,300.15 L173.24,300.13 L173.75,300.12 L174.26,300.10 L174.78,300.08 L175.29,300.07 L175.80,300.05 L176.32,300.04 L176.83,300.03 L177.34,300.02 L177.86,300.01 L178.37,300.00 L178.88,299.99 L179.40,299.99 L179.91,299.98 L180.42,299.98 L180.94,299.97 L181.45,299.97 L181.96,299.97 L182.48,299.98 L182.99,299.98 L183.50,299.99 L184.02,300.01 L184.53,300.02 L185.05,300.04 L185.56,300.07 L186.07,300.09 L186.59,300.13 L187.10,300.16 L187.61,300.19 L188.13,300.23 L188.64,300.27 L189.15,300.32 L189.67,300.36 L190.18,300.41 L190.69,300.46 L191.21,300.51 L191.72,300.56 L192.23,300.61 L192.75,300.67 L193.26,300.72 L193.77,300.78 L194.29,300.84 L194.80,300.89 L195.31,300.95 L195.83,301.01 L196.34,301.07" fill="none" stroke="#454545" stroke-width="1.05" stroke-linejoin="round"/>
<rect x="42.30" y="286.90" width="170.40" height="156.90" fill="none" stroke="#0a0a0a" stroke-width="1.25"/>
<line x1="42.30" y1="443.80" x2="42.30" y2="446.80" stroke="#0a0a0a" stroke-width="1.1"/>
<line x1="59.34" y1="443.80" x2="59.34" y2="445.80" stroke="#0a0a0a" stroke-width="1.1"/>
<line x1="76.38" y1="443.80" x2="76.38" y2="446.80" stroke="#0a0a0a" stroke-width="1.1"/>
<line x1="93.42" y1="443.80" x2="93.42" y2="445.80" stroke="#0a0a0a" stroke-width="1.1"/>
<line x1="110.46" y1="443.80" x2="110.46" y2="446.80" stroke="#0a0a0a" stroke-width="1.1"/>
<line x1="127.50" y1="443.80" x2="127.50" y2="445.80" stroke="#0a0a0a" stroke-width="1.1"/>
<line x1="144.54" y1="443.80" x2="144.54" y2="446.80" stroke="#0a0a0a" stroke-width="1.1"/>
<line x1="161.58" y1="443.80" x2="161.58" y2="445.80" stroke="#0a0a0a" stroke-width="1.1"/>
<line x1="178.62" y1="443.80" x2="178.62" y2="446.80" stroke="#0a0a0a" stroke-width="1.1"/>
<line x1="195.66" y1="443.80" x2="195.66" y2="445.80" stroke="#0a0a0a" stroke-width="1.1"/>
<line x1="212.70" y1="443.80" x2="212.70" y2="446.80" stroke="#0a0a0a" stroke-width="1.1"/>
<line x1="39.30" y1="443.80" x2="42.30" y2="443.80" stroke="#0a0a0a" stroke-width="1.1"/>
<line x1="40.30" y1="432.59" x2="42.30" y2="432.59" stroke="#0a0a0a" stroke-width="1.1"/>
<line x1="39.30" y1="421.39" x2="42.30" y2="421.39" stroke="#0a0a0a" stroke-width="1.1"/>
<line x1="40.30" y1="410.18" x2="42.30" y2="410.18" stroke="#0a0a0a" stroke-width="1.1"/>
<line x1="39.30" y1="398.97" x2="42.30" y2="398.97" stroke="#0a0a0a" stroke-width="1.1"/>
<line x1="40.30" y1="387.76" x2="42.30" y2="387.76" stroke="#0a0a0a" stroke-width="1.1"/>
<line x1="39.30" y1="376.56" x2="42.30" y2="376.56" stroke="#0a0a0a" stroke-width="1.1"/>
<line x1="40.30" y1="365.35" x2="42.30" y2="365.35" stroke="#0a0a0a" stroke-width="1.1"/>
<line x1="39.30" y1="354.14" x2="42.30" y2="354.14" stroke="#0a0a0a" stroke-width="1.1"/>
<line x1="40.30" y1="342.94" x2="42.30" y2="342.94" stroke="#0a0a0a" stroke-width="1.1"/>
<line x1="39.30" y1="331.73" x2="42.30" y2="331.73" stroke="#0a0a0a" stroke-width="1.1"/>
<line x1="40.30" y1="320.52" x2="42.30" y2="320.52" stroke="#0a0a0a" stroke-width="1.1"/>
<line x1="39.30" y1="309.31" x2="42.30" y2="309.31" stroke="#0a0a0a" stroke-width="1.1"/>
<line x1="40.30" y1="298.11" x2="42.30" y2="298.11" stroke="#0a0a0a" stroke-width="1.1"/>
<line x1="39.30" y1="286.90" x2="42.30" y2="286.90" stroke="#0a0a0a" stroke-width="1.1"/>
<text transform="translate(42.30,457.00) scale(0.860,1)" font-family="Liberation Serif" font-weight="bold" font-size="10.7" fill="#151515" stroke="#151515" stroke-width="0.2" text-anchor="middle">0</text>
<text transform="translate(76.38,457.00) scale(0.860,1)" font-family="Liberation Serif" font-weight="bold" font-size="10.7" fill="#151515" stroke="#151515" stroke-width="0.2" text-anchor="middle">10</text>
<text transform="translate(110.46,457.00) scale(0.860,1)" font-family="Liberation Serif" font-weight="bold" font-size="10.7" fill="#151515" stroke="#151515" stroke-width="0.2" text-anchor="middle">20</text>
<text transform="translate(144.54,457.00) scale(0.860,1)" font-family="Liberation Serif" font-weight="bold" font-size="10.7" fill="#151515" stroke="#151515" stroke-width="0.2" text-anchor="middle">30</text>
<text transform="translate(178.62,457.00) scale(0.860,1)" font-family="Liberation Serif" font-weight="bold" font-size="10.7" fill="#151515" stroke="#151515" stroke-width="0.2" text-anchor="middle">40</text>
<text transform="translate(212.70,457.00) scale(0.860,1)" font-family="Liberation Serif" font-weight="bold" font-size="10.7" fill="#151515" stroke="#151515" stroke-width="0.2" text-anchor="middle">50</text>
<text transform="translate(37.60,447.04) scale(0.860,1)" font-family="Liberation Serif" font-weight="bold" font-size="10.7" fill="#151515" stroke="#151515" stroke-width="0.2" text-anchor="end">0</text>
<text transform="translate(37.60,424.62) scale(0.860,1)" font-family="Liberation Serif" font-weight="bold" font-size="10.7" fill="#151515" stroke="#151515" stroke-width="0.2" text-anchor="end">1000</text>
<text transform="translate(37.60,402.21) scale(0.860,1)" font-family="Liberation Serif" font-weight="bold" font-size="10.7" fill="#151515" stroke="#151515" stroke-width="0.2" text-anchor="end">2000</text>
<text transform="translate(37.60,379.80) scale(0.860,1)" font-family="Liberation Serif" font-weight="bold" font-size="10.7" fill="#151515" stroke="#151515" stroke-width="0.2" text-anchor="end">3000</text>
<text transform="translate(37.60,357.38) scale(0.860,1)" font-family="Liberation Serif" font-weight="bold" font-size="10.7" fill="#151515" stroke="#151515" stroke-width="0.2" text-anchor="end">4000</text>
<text transform="translate(37.60,334.97) scale(0.860,1)" font-family="Liberation Serif" font-weight="bold" font-size="10.7" fill="#151515" stroke="#151515" stroke-width="0.2" text-anchor="end">5000</text>
<text transform="translate(37.60,312.55) scale(0.860,1)" font-family="Liberation Serif" font-weight="bold" font-size="10.7" fill="#151515" stroke="#151515" stroke-width="0.2" text-anchor="end">6000</text>
<text transform="translate(37.60,290.14) scale(0.860,1)" font-family="Liberation Serif" font-weight="bold" font-size="10.7" fill="#151515" stroke="#151515" stroke-width="0.2" text-anchor="end">7000</text>
<text x="106.30" y="472.80" font-family="Liberation Serif" font-weight="bold" font-size="11.4" fill="#111" stroke="#111" stroke-width="0.2" textLength="46.20" lengthAdjust="spacingAndGlyphs">Time(min)</text>
<text transform="translate(11.20,414.40) rotate(-90)" font-family="Liberation Serif" font-weight="bold" font-size="10.8" fill="#111" stroke="#111" stroke-width="0.2" textLength="97.90" lengthAdjust="spacing">Fluorescence(RFU)</text>
<line x1="170.00" y1="389.70" x2="189.00" y2="389.70" stroke="#555555" stroke-width="1.5"/>
<text transform="translate(191.00,392.90) scale(0.900,1)" font-family="Liberation Serif" font-weight="bold" font-size="9.2" fill="#151515" stroke="#151515" stroke-width="0.2">1×10<tspan font-size="4.6" dy="-3.4">3</tspan></text>
<line x1="170.00" y1="401.40" x2="189.00" y2="401.40" stroke="#dc5a60" stroke-width="1.5"/>
<text transform="translate(191.00,404.60) scale(0.900,1)" font-family="Liberation Serif" font-weight="bold" font-size="9.2" fill="#151515" stroke="#151515" stroke-width="0.2">1×10<tspan font-size="4.6" dy="-3.4">2</tspan></text>
<line x1="170.00" y1="413.80" x2="189.00" y2="413.80" stroke="#4a7fc6" stroke-width="1.5"/>
<text transform="translate(191.00,417.00) scale(0.900,1)" font-family="Liberation Serif" font-weight="bold" font-size="9.2" fill="#151515" stroke="#151515" stroke-width="0.2">1×10<tspan font-size="4.6" dy="-3.4">1</tspan></text>
<line x1="170.00" y1="425.70" x2="189.00" y2="425.70" stroke="#4aa67e" stroke-width="1.5"/>
<text transform="translate(191.00,428.90) scale(0.900,1)" font-family="Liberation Serif" font-weight="bold" font-size="9.2" fill="#151515" stroke="#151515" stroke-width="0.2">1×10<tspan font-size="4.6" dy="-3.4">0</tspan></text>
<line x1="170.00" y1="438.20" x2="189.00" y2="438.20" stroke="#a878dc" stroke-width="1.1"/>
<text transform="translate(191.00,441.40) scale(0.900,1)" font-family="Liberation Serif" font-weight="bold" font-size="9.2" fill="#151515" stroke="#151515" stroke-width="0.2">NCT</text>
<text x="358.7" y="266.2" font-family="Liberation Serif" font-weight="bold" font-size="19" fill="#111">G</text>
<path d="M391.00,437.45 L391.51,437.45 L392.01,437.45 L392.52,437.45 L393.03,437.45 L393.54,437.45 L394.04,437.45 L394.55,437.45 L395.06,437.45 L395.56,437.45 L396.07,437.45 L396.58,437.45 L397.08,437.45 L397.59,437.45 L398.10,437.45 L398.61,437.45 L399.11,437.45 L399.62,437.45 L400.13,437.45 L400.63,437.45 L401.14,437.45 L401.65,437.45 L402.15,437.45 L402.66,437.45 L403.17,437.45 L403.68,437.45 L404.18,437.45 L404.69,437.45 L405.20,437.45 L405.70,437.45 L406.21,437.45 L406.72,437.45 L407.22,437.45 L407.73,437.45 L408.24,437.45 L408.75,437.45 L409.25,437.45 L409.76,437.45 L410.27,437.45 L410.77,437.45 L411.28,437.45 L411.79,437.45 L412.29,437.45 L412.80,437.45 L413.31,437.45 L413.81,437.45 L414.32,437.45 L414.83,437.45 L415.34,437.45 L415.84,437.45 L416.35,437.45 L416.86,437.45 L417.36,437.45 L417.87,437.45 L418.38,437.45 L418.88,437.45 L419.39,437.45 L419.90,437.45 L420.41,437.45 L420.91,437.45 L421.42,437.45 L421.93,437.45 L422.43,437.45 L422.94,437.45 L423.45,437.45 L423.95,437.45 L424.46,437.45 L424.97,437.45 L425.48,437.45 L425.98,437.45 L426.49,437.45 L427.00,437.45 L427.50,437.45 L428.01,437.45 L428.52,437.45 L429.02,437.45 L429.53,437.45 L430.04,437.45 L430.55,437.45 L431.05,437.45 L431.56,437.45 L432.07,437.45 L432.57,437.45 L433.08,437.45 L433.59,437.45 L434.10,437.45 L434.60,437.45 L435.11,437.45 L435.62,437.45 L436.12,437.45 L436.63,437.45 L437.14,437.45 L437.64,437.45 L438.15,437.45 L438.66,437.45 L439.17,437.45 L439.67,437.45 L440.18,437.45 L440.69,437.45 L441.19,437.45 L441.70,437.45 L442.21,437.45 L442.71,437.45 L443.22,437.45 L443.73,437.45 L444.24,437.45 L444.74,437.45 L445.25,437.45 L445.76,437.45 L446.26,437.45 L446.77,437.45 L447.28,437.45 L447.78,437.45 L448.29,437.45 L448.80,437.45 L449.31,437.45 L449.81,437.45 L450.32,437.45 L450.83,437.45 L451.33,437.45 L451.84,437.45 L452.35,437.45 L452.85,437.45 L453.36,437.45 L453.87,437.45 L454.38,437.45 L454.88,437.45 L455.39,437.45 L455.90,437.45 L456.40,437.45 L456.91,437.45 L457.42,437.45 L457.92,437.45 L458.43,437.45 L458.94,437.45 L459.44,437.45 L459.95,437.45 L460.46,437.45 L460.97,437.45 L461.47,437.45 L461.98,437.45 L462.49,437.45 L462.99,437.45 L463.50,437.45 L464.01,437.45 L464.51,437.45 L465.02,437.45 L465.53,437.45 L466.04,437.45 L466.54,437.45 L467.05,437.45 L467.56,437.45 L468.06,437.45 L468.57,437.45 L469.08,437.45 L469.58,437.45 L470.09,437.45 L470.60,437.45 L471.11,437.45 L471.61,437.45 L472.12,437.45 L472.63,437.45 L473.13,437.45 L473.64,437.45 L474.15,437.45 L474.65,437.45 L475.16,437.45 L475.67,437.45 L476.18,437.45 L476.68,437.45 L477.19,437.45 L477.70,437.45 L478.20,437.45 L478.71,437.45 L479.22,437.45 L479.73,437.45 L480.23,437.45 L480.74,437.45 L481.25,437.45 L481.75,437.45 L482.26,437.45 L482.77,437.45 L483.27,437.45 L483.78,437.45 L484.29,437.45 L484.80,437.45 L485.30,437.45 L485.81,437.45 L486.32,437.45 L486.82,437.45 L487.33,437.45 L487.84,437.45 L488.34,437.45 L488.85,437.45 L489.36,437.45 L489.87,437.45 L490.37,437.45 L490.88,437.45 L491.39,437.45 L491.89,437.45 L492.40,437.45 L492.91,437.45 L493.41,437.45 L493.92,437.45 L494.43,437.45 L494.94,437.45 L495.44,437.45 L495.95,437.45 L496.46,437.45 L496.96,437.45 L497.47,437.45 L497.98,437.45 L498.48,437.45 L498.99,437.45 L499.50,437.45 L500.00,437.45 L500.51,437.45 L501.02,437.45 L501.53,437.45 L502.03,437.45 L502.54,437.45 L503.05,437.45 L503.55,437.45 L504.06,437.45 L504.57,437.45 L505.07,437.45 L505.58,437.45 L506.09,437.45 L506.60,437.45 L507.10,437.45 L507.61,437.45 L508.12,437.45 L508.62,437.45 L509.13,437.45 L509.64,437.45 L510.14,437.45 L510.65,437.45 L511.16,437.45 L511.67,437.45 L512.17,437.45 L512.68,437.45 L513.19,437.45 L513.69,437.45 L514.20,437.45 L514.71,437.45 L515.22,437.45 L515.72,437.45 L516.23,437.45 L516.74,437.45 L517.24,437.45 L517.75,437.45 L518.26,437.45 L518.76,437.45 L519.27,437.45 L519.78,437.45 L520.28,437.45 L520.79,437.45 L521.30,437.45 L521.81,437.45 L522.31,437.45 L522.82,437.45 L523.33,437.45 L523.83,437.45 L524.34,437.45 L524.85,437.45 L525.36,437.45 L525.86,437.45 L526.37,437.45 L526.88,437.45 L527.38,437.45 L527.89,437.45 L528.40,437.45 L528.90,437.45 L529.41,437.45 L529.92,437.45 L530.42,437.45 L530.93,437.45 L531.44,437.45 L531.95,437.45 L532.45,437.45 L532.96,437.45 L533.47,437.45 L533.97,437.45 L534.48,437.45 L534.99,437.45 L535.50,437.45 L536.00,437.45 L536.51,437.45 L537.02,437.45 L537.52,437.45 L538.03,437.45 L538.54,437.45 L539.04,437.45 L539.55,437.45 L540.06,437.45 L540.57,437.45 L541.07,437.45 L541.58,437.45 L542.09,437.45 L542.59,437.45 L543.10,437.45" fill="none" stroke="#a868dc" stroke-width="1.20" stroke-linejoin="round"/>
<path d="M391.00,436.27 L391.51,436.29 L392.01,436.31 L392.52,436.33 L393.03,436.34 L393.54,436.36 L394.04,436.37 L394.55,436.39 L395.06,436.40 L395.56,436.41 L396.07,436.41 L396.58,436.42 L397.08,436.42 L397.59,436.42 L398.10,436.42 L398.61,436.42 L399.11,436.42 L399.62,436.42 L400.13,436.41 L400.63,436.40 L401.14,436.40 L401.65,436.39 L402.15,436.38 L402.66,436.36 L403.17,436.35 L403.68,436.33 L404.18,436.31 L404.69,436.28 L405.20,436.24 L405.70,436.16 L406.21,436.05 L406.72,435.89 L407.22,435.68 L407.73,435.44 L408.24,435.17 L408.75,434.88 L409.25,434.58 L409.76,434.29 L410.27,433.99 L410.77,433.70 L411.28,433.40 L411.79,433.10 L412.29,432.79 L412.80,432.48 L413.31,432.15 L413.81,431.83 L414.32,431.49 L414.83,431.15 L415.34,430.81 L415.84,430.46 L416.35,430.11 L416.86,429.75 L417.36,429.39 L417.87,429.03 L418.38,428.66 L418.88,428.29 L419.39,427.92 L419.90,427.55 L420.41,427.17 L420.91,426.78 L421.42,426.39 L421.93,425.99 L422.43,425.59 L422.94,425.17 L423.45,424.76 L423.95,424.33 L424.46,423.91 L424.97,423.48 L425.48,423.05 L425.98,422.61 L426.49,422.18 L427.00,421.74 L427.50,421.31 L428.01,420.87 L428.52,420.44 L429.02,420.00 L429.53,419.57 L430.04,419.15 L430.55,418.73 L431.05,418.31 L431.56,417.90 L432.07,417.49 L432.57,417.09 L433.08,416.69 L433.59,416.30 L434.10,415.91 L434.60,415.52 L435.11,415.13 L435.62,414.75 L436.12,414.37 L436.63,413.99 L437.14,413.61 L437.64,413.23 L438.15,412.85 L438.66,412.48 L439.17,412.11 L439.67,411.74 L440.18,411.37 L440.69,411.00 L441.19,410.63 L441.70,410.26 L442.21,409.89 L442.71,409.52 L443.22,409.16 L443.73,408.79 L444.24,408.42 L444.74,408.06 L445.25,407.69 L445.76,407.32 L446.26,406.96 L446.77,406.59 L447.28,406.22 L447.78,405.85 L448.29,405.48 L448.80,405.11 L449.31,404.74 L449.81,404.36 L450.32,403.99 L450.83,403.61 L451.33,403.23 L451.84,402.86 L452.35,402.47 L452.85,402.09 L453.36,401.71 L453.87,401.32 L454.38,400.94 L454.88,400.55 L455.39,400.17 L455.90,399.78 L456.40,399.39 L456.91,399.00 L457.42,398.61 L457.92,398.23 L458.43,397.84 L458.94,397.45 L459.44,397.06 L459.95,396.68 L460.46,396.29 L460.97,395.91 L461.47,395.53 L461.98,395.15 L462.49,394.77 L462.99,394.39 L463.50,394.01 L464.01,393.64 L464.51,393.27 L465.02,392.90 L465.53,392.53 L466.04,392.17 L466.54,391.80 L467.05,391.44 L467.56,391.09 L468.06,390.73 L468.57,390.38 L469.08,390.02 L469.58,389.67 L470.09,389.32 L470.60,388.97 L471.11,388.63 L471.61,388.28 L472.12,387.93 L472.63,387.59 L473.13,387.24 L473.64,386.89 L474.15,386.55 L474.65,386.20 L475.16,385.85 L475.67,385.51 L476.18,385.16 L476.68,384.81 L477.19,384.46 L477.70,384.11 L478.20,383.75 L478.71,383.40 L479.22,383.04 L479.73,382.68 L480.23,382.32 L480.74,381.96 L481.25,381.60 L481.75,381.24 L482.26,380.88 L482.77,380.52 L483.27,380.16 L483.78,379.80 L484.29,379.44 L484.80,379.08 L485.30,378.72 L485.81,378.36 L486.32,378.00 L486.82,377.63 L487.33,377.27 L487.84,376.90 L488.34,376.53 L488.85,376.16 L489.36,375.79 L489.87,375.42 L490.37,375.04 L490.88,374.66 L491.39,374.28 L491.89,373.90 L492.40,373.51 L492.91,373.12 L493.41,372.73 L493.92,372.34 L494.43,371.94 L494.94,371.53 L495.44,371.12 L495.95,370.70 L496.46,370.27 L496.96,369.83 L497.47,369.39 L497.98,368.94 L498.48,368.48 L498.99,368.02 L499.50,367.56 L500.00,367.10 L500.51,366.64 L501.02,366.19 L501.53,365.73 L502.03,365.29 L502.54,364.85 L503.05,364.42 L503.55,363.99 L504.06,363.59 L504.57,363.19 L505.07,362.80 L505.58,362.42 L506.09,362.06 L506.60,361.69 L507.10,361.34 L507.61,360.99 L508.12,360.64 L508.62,360.31 L509.13,359.97 L509.64,359.64 L510.14,359.32 L510.65,359.01 L511.16,358.70 L511.67,358.40 L512.17,358.11 L512.68,357.82 L513.19,357.54 L513.69,357.27 L514.20,357.01 L514.71,356.76 L515.22,356.51 L515.72,356.27 L516.23,356.03 L516.74,355.80 L517.24,355.58 L517.75,355.36 L518.26,355.14 L518.76,354.93 L519.27,354.72 L519.78,354.52 L520.28,354.31 L520.79,354.11 L521.30,353.90 L521.81,353.70 L522.31,353.50 L522.82,353.30 L523.33,353.10 L523.83,352.90 L524.34,352.70 L524.85,352.51 L525.36,352.32 L525.86,352.13 L526.37,351.94 L526.88,351.75 L527.38,351.56 L527.89,351.38 L528.40,351.19 L528.90,351.01 L529.41,350.82 L529.92,350.63 L530.42,350.44 L530.93,350.25 L531.44,350.06 L531.95,349.86 L532.45,349.67 L532.96,349.47 L533.47,349.26 L533.97,349.06 L534.48,348.86 L534.99,348.65 L535.50,348.44 L536.00,348.24 L536.51,348.03 L537.02,347.82 L537.52,347.60 L538.03,347.39 L538.54,347.18 L539.04,346.96 L539.55,346.75 L540.06,346.53 L540.57,346.31 L541.07,346.09 L541.58,345.87 L542.09,345.65 L542.59,345.43 L543.10,345.21" fill="none" stroke="#2f9d6c" stroke-width="1.05" stroke-linejoin="round"/>
<path d="M391.00,435.95 L391.51,435.28 L392.01,434.58 L392.52,433.83 L393.03,433.00 L393.54,432.11 L394.04,431.13 L394.55,430.09 L395.06,428.99 L395.56,427.83 L396.07,426.62 L396.58,425.36 L397.08,424.05 L397.59,422.71 L398.10,421.33 L398.61,419.93 L399.11,418.50 L399.62,417.06 L400.13,415.62 L400.63,414.18 L401.14,412.77 L401.65,411.38 L402.15,410.00 L402.66,408.60 L403.17,407.15 L403.68,405.61 L404.18,403.95 L404.69,402.17 L405.20,400.26 L405.70,398.22 L406.21,396.07 L406.72,393.83 L407.22,391.50 L407.73,389.11 L408.24,386.65 L408.75,384.16 L409.25,381.64 L409.76,379.10 L410.27,376.57 L410.77,374.05 L411.28,371.55 L411.79,369.09 L412.29,366.66 L412.80,364.27 L413.31,361.91 L413.81,359.59 L414.32,357.33 L414.83,355.12 L415.34,352.99 L415.84,350.93 L416.35,348.96 L416.86,347.09 L417.36,345.32 L417.87,343.64 L418.38,342.04 L418.88,340.51 L419.39,339.02 L419.90,337.56 L420.41,336.12 L420.91,334.70 L421.42,333.30 L421.93,331.91 L422.43,330.55 L422.94,329.20 L423.45,327.88 L423.95,326.58 L424.46,325.29 L424.97,324.01 L425.48,322.75 L425.98,321.51 L426.49,320.32 L427.00,319.18 L427.50,318.11 L428.01,317.13 L428.52,316.24 L429.02,315.42 L429.53,314.67 L430.04,313.97 L430.55,313.32 L431.05,312.70 L431.56,312.13 L432.07,311.59 L432.57,311.08 L433.08,310.60 L433.59,310.15 L434.10,309.72 L434.60,309.32 L435.11,308.93 L435.62,308.57 L436.12,308.22 L436.63,307.89 L437.14,307.56 L437.64,307.25 L438.15,306.94 L438.66,306.64 L439.17,306.34 L439.67,306.04 L440.18,305.74 L440.69,305.45 L441.19,305.15 L441.70,304.86 L442.21,304.59 L442.71,304.32 L443.22,304.08 L443.73,303.86 L444.24,303.66 L444.74,303.49 L445.25,303.34 L445.76,303.20 L446.26,303.07 L446.77,302.95 L447.28,302.84 L447.78,302.73 L448.29,302.63 L448.80,302.53 L449.31,302.43 L449.81,302.34 L450.32,302.26 L450.83,302.18 L451.33,302.11 L451.84,302.04 L452.35,301.98 L452.85,301.93 L453.36,301.89 L453.87,301.85 L454.38,301.82 L454.88,301.80 L455.39,301.78 L455.90,301.77 L456.40,301.75 L456.91,301.74 L457.42,301.73 L457.92,301.72 L458.43,301.71 L458.94,301.71 L459.44,301.70 L459.95,301.69 L460.46,301.68 L460.97,301.67 L461.47,301.66 L461.98,301.66 L462.49,301.65 L462.99,301.64 L463.50,301.64 L464.01,301.63 L464.51,301.62 L465.02,301.62 L465.53,301.61 L466.04,301.61 L466.54,301.60 L467.05,301.60 L467.56,301.59 L468.06,301.59 L468.57,301.58 L469.08,301.58 L469.58,301.57 L470.09,301.57 L470.60,301.56 L471.11,301.56 L471.61,301.55 L472.12,301.55 L472.63,301.55 L473.13,301.54 L473.64,301.54 L474.15,301.54 L474.65,301.53 L475.16,301.53 L475.67,301.53 L476.18,301.52 L476.68,301.52 L477.19,301.52 L477.70,301.51 L478.20,301.51 L478.71,301.51 L479.22,301.50 L479.73,301.50 L480.23,301.50 L480.74,301.50 L481.25,301.49 L481.75,301.49 L482.26,301.49 L482.77,301.49 L483.27,301.48 L483.78,301.48 L484.29,301.48 L484.80,301.47 L485.30,301.47 L485.81,301.47 L486.32,301.47 L486.82,301.46 L487.33,301.46 L487.84,301.46 L488.34,301.45 L488.85,301.45 L489.36,301.45 L489.87,301.44 L490.37,301.44 L490.88,301.44 L491.39,301.43 L491.89,301.43 L492.40,301.43 L492.91,301.42 L493.41,301.42 L493.92,301.41 L494.43,301.41 L494.94,301.41 L495.44,301.40 L495.95,301.40 L496.46,301.40 L496.96,301.39 L497.47,301.39 L497.98,301.38 L498.48,301.38 L498.99,301.38 L499.50,301.37 L500.00,301.37 L500.51,301.37 L501.02,301.36 L501.53,301.36 L502.03,301.35 L502.54,301.35 L503.05,301.35 L503.55,301.34 L504.06,301.34 L504.57,301.34 L505.07,301.33 L505.58,301.33 L506.09,301.33 L506.60,301.32 L507.10,301.32 L507.61,301.32 L508.12,301.31 L508.62,301.31 L509.13,301.30 L509.64,301.30 L510.14,301.30 L510.65,301.29 L511.16,301.29 L511.67,301.29 L512.17,301.28 L512.68,301.28 L513.19,301.28 L513.69,301.27 L514.20,301.27 L514.71,301.27 L515.22,301.26 L515.72,301.26 L516.23,301.26 L516.74,301.25 L517.24,301.25 L517.75,301.25 L518.26,301.24 L518.76,301.24 L519.27,301.24 L519.78,301.23 L520.28,301.23 L520.79,301.23 L521.30,301.22 L521.81,301.22 L522.31,301.22 L522.82,301.22 L523.33,301.21 L523.83,301.21 L524.34,301.21 L524.85,301.20 L525.36,301.20 L525.86,301.20 L526.37,301.19 L526.88,301.19 L527.38,301.19 L527.89,301.19 L528.40,301.18 L528.90,301.18 L529.41,301.18 L529.92,301.17 L530.42,301.17 L530.93,301.17 L531.44,301.17 L531.95,301.16 L532.45,301.16 L532.96,301.16 L533.47,301.16 L533.97,301.15 L534.48,301.15 L534.99,301.15 L535.50,301.14 L536.00,301.14 L536.51,301.14 L537.02,301.14 L537.52,301.13 L538.03,301.13 L538.54,301.13 L539.04,301.13 L539.55,301.12 L540.06,301.12 L540.57,301.12 L541.07,301.12 L541.58,301.11 L542.09,301.11 L542.59,301.11 L543.10,301.11" fill="none" stroke="#3572cc" stroke-width="1.05" stroke-linejoin="round"/>
<path d="M391.00,435.95 L391.51,433.15 L392.01,430.37 L392.52,427.61 L393.03,424.88 L393.54,422.19 L394.04,419.52 L394.55,416.89 L395.06,414.28 L395.56,411.68 L396.07,409.06 L396.58,406.40 L397.08,403.69 L397.59,400.92 L398.10,398.12 L398.61,395.34 L399.11,392.60 L399.62,389.93 L400.13,387.32 L400.63,384.76 L401.14,382.23 L401.65,379.71 L402.15,377.18 L402.66,374.61 L403.17,371.98 L403.68,369.26 L404.18,366.42 L404.69,363.45 L405.20,360.36 L405.70,357.20 L406.21,354.03 L406.72,350.94 L407.22,348.02 L407.73,345.30 L408.24,342.79 L408.75,340.48 L409.25,338.35 L409.76,336.38 L410.27,334.55 L410.77,332.86 L411.28,331.26 L411.79,329.72 L412.29,328.21 L412.80,326.69 L413.31,325.13 L413.81,323.55 L414.32,321.96 L414.83,320.38 L415.34,318.84 L415.84,317.37 L416.35,315.97 L416.86,314.68 L417.36,313.50 L417.87,312.47 L418.38,311.60 L418.88,310.85 L419.39,310.23 L419.90,309.69 L420.41,309.21 L420.91,308.79 L421.42,308.40 L421.93,308.04 L422.43,307.71 L422.94,307.39 L423.45,307.09 L423.95,306.80 L424.46,306.54 L424.97,306.29 L425.48,306.07 L425.98,305.87 L426.49,305.70 L427.00,305.55 L427.50,305.42 L428.01,305.31 L428.52,305.21 L429.02,305.12 L429.53,305.04 L430.04,304.96 L430.55,304.90 L431.05,304.85 L431.56,304.80 L432.07,304.76 L432.57,304.73 L433.08,304.70 L433.59,304.68 L434.10,304.66 L434.60,304.64 L435.11,304.62 L435.62,304.61 L436.12,304.59 L436.63,304.58 L437.14,304.58 L437.64,304.57 L438.15,304.56 L438.66,304.56 L439.17,304.55 L439.67,304.55 L440.18,304.55 L440.69,304.54 L441.19,304.54 L441.70,304.54 L442.21,304.53 L442.71,304.53 L443.22,304.53 L443.73,304.52 L444.24,304.52 L444.74,304.52 L445.25,304.51 L445.76,304.51 L446.26,304.50 L446.77,304.50 L447.28,304.49 L447.78,304.49 L448.29,304.48 L448.80,304.48 L449.31,304.47 L449.81,304.46 L450.32,304.46 L450.83,304.45 L451.33,304.45 L451.84,304.44 L452.35,304.44 L452.85,304.43 L453.36,304.42 L453.87,304.42 L454.38,304.41 L454.88,304.40 L455.39,304.40 L455.90,304.39 L456.40,304.38 L456.91,304.38 L457.42,304.37 L457.92,304.36 L458.43,304.36 L458.94,304.35 L459.44,304.34 L459.95,304.34 L460.46,304.33 L460.97,304.32 L461.47,304.31 L461.98,304.31 L462.49,304.30 L462.99,304.29 L463.50,304.28 L464.01,304.28 L464.51,304.27 L465.02,304.26 L465.53,304.25 L466.04,304.25 L466.54,304.24 L467.05,304.23 L467.56,304.22 L468.06,304.22 L468.57,304.21 L469.08,304.20 L469.58,304.19 L470.09,304.18 L470.60,304.17 L471.11,304.17 L471.61,304.16 L472.12,304.15 L472.63,304.14 L473.13,304.13 L473.64,304.13 L474.15,304.12 L474.65,304.11 L475.16,304.10 L475.67,304.09 L476.18,304.08 L476.68,304.08 L477.19,304.07 L477.70,304.06 L478.20,304.05 L478.71,304.04 L479.22,304.03 L479.73,304.03 L480.23,304.02 L480.74,304.01 L481.25,304.00 L481.75,303.99 L482.26,303.98 L482.77,303.97 L483.27,303.97 L483.78,303.96 L484.29,303.95 L484.80,303.94 L485.30,303.93 L485.81,303.92 L486.32,303.91 L486.82,303.91 L487.33,303.90 L487.84,303.89 L488.34,303.88 L488.85,303.87 L489.36,303.86 L489.87,303.86 L490.37,303.85 L490.88,303.84 L491.39,303.83 L491.89,303.82 L492.40,303.81 L492.91,303.81 L493.41,303.80 L493.92,303.79 L494.43,303.78 L494.94,303.77 L495.44,303.76 L495.95,303.76 L496.46,303.75 L496.96,303.74 L497.47,303.73 L497.98,303.72 L498.48,303.71 L498.99,303.71 L499.50,303.70 L500.00,303.69 L500.51,303.68 L501.02,303.67 L501.53,303.66 L502.03,303.65 L502.54,303.64 L503.05,303.64 L503.55,303.63 L504.06,303.62 L504.57,303.61 L505.07,303.60 L505.58,303.59 L506.09,303.58 L506.60,303.57 L507.10,303.57 L507.61,303.56 L508.12,303.55 L508.62,303.54 L509.13,303.53 L509.64,303.52 L510.14,303.51 L510.65,303.50 L511.16,303.49 L511.67,303.49 L512.17,303.48 L512.68,303.47 L513.19,303.46 L513.69,303.45 L514.20,303.44 L514.71,303.43 L515.22,303.42 L515.72,303.41 L516.23,303.40 L516.74,303.39 L517.24,303.39 L517.75,303.38 L518.26,303.37 L518.76,303.36 L519.27,303.35 L519.78,303.34 L520.28,303.33 L520.79,303.32 L521.30,303.31 L521.81,303.30 L522.31,303.29 L522.82,303.28 L523.33,303.27 L523.83,303.26 L524.34,303.25 L524.85,303.24 L525.36,303.24 L525.86,303.23 L526.37,303.22 L526.88,303.21 L527.38,303.20 L527.89,303.19 L528.40,303.18 L528.90,303.17 L529.41,303.16 L529.92,303.15 L530.42,303.14 L530.93,303.13 L531.44,303.12 L531.95,303.11 L532.45,303.10 L532.96,303.09 L533.47,303.08 L533.97,303.07 L534.48,303.06 L534.99,303.05 L535.50,303.04 L536.00,303.03 L536.51,303.02 L537.02,303.01 L537.52,303.00 L538.03,302.99 L538.54,302.98 L539.04,302.97 L539.55,302.96 L540.06,302.95 L540.57,302.94 L541.07,302.93 L541.58,302.92 L542.09,302.91 L542.59,302.90 L543.10,302.89" fill="none" stroke="#da4448" stroke-width="1.05" stroke-linejoin="round"/>
<path d="M391.00,435.95 L391.51,433.16 L392.01,430.38 L392.52,427.64 L393.03,424.92 L393.54,422.21 L394.04,419.47 L394.55,416.66 L395.06,413.73 L395.56,410.68 L396.07,407.50 L396.58,404.21 L397.08,400.83 L397.59,397.38 L398.10,393.87 L398.61,390.29 L399.11,386.66 L399.62,382.97 L400.13,379.21 L400.63,375.37 L401.14,371.45 L401.65,367.42 L402.15,363.32 L402.66,359.19 L403.17,355.15 L403.68,351.29 L404.18,347.71 L404.69,344.41 L405.20,341.35 L405.70,338.49 L406.21,335.78 L406.72,333.18 L407.22,330.65 L407.73,328.19 L408.24,325.76 L408.75,323.38 L409.25,321.07 L409.76,318.87 L410.27,316.81 L410.77,314.90 L411.28,313.16 L411.79,311.55 L412.29,310.07 L412.80,308.71 L413.31,307.46 L413.81,306.33 L414.32,305.31 L414.83,304.41 L415.34,303.61 L415.84,302.90 L416.35,302.27 L416.86,301.70 L417.36,301.20 L417.87,300.75 L418.38,300.35 L418.88,299.98 L419.39,299.66 L419.90,299.36 L420.41,299.10 L420.91,298.86 L421.42,298.65 L421.93,298.46 L422.43,298.30 L422.94,298.15 L423.45,298.03 L423.95,297.93 L424.46,297.84 L424.97,297.76 L425.48,297.69 L425.98,297.62 L426.49,297.56 L427.00,297.51 L427.50,297.46 L428.01,297.42 L428.52,297.39 L429.02,297.36 L429.53,297.34 L430.04,297.33 L430.55,297.32 L431.05,297.32 L431.56,297.31 L432.07,297.31 L432.57,297.31 L433.08,297.31 L433.59,297.31 L434.10,297.31 L434.60,297.30 L435.11,297.30 L435.62,297.30 L436.12,297.30 L436.63,297.30 L437.14,297.30 L437.64,297.30 L438.15,297.30 L438.66,297.30 L439.17,297.30 L439.67,297.30 L440.18,297.30 L440.69,297.30 L441.19,297.30 L441.70,297.29 L442.21,297.29 L442.71,297.29 L443.22,297.29 L443.73,297.29 L444.24,297.29 L444.74,297.29 L445.25,297.29 L445.76,297.28 L446.26,297.28 L446.77,297.28 L447.28,297.28 L447.78,297.28 L448.29,297.28 L448.80,297.27 L449.31,297.27 L449.81,297.27 L450.32,297.27 L450.83,297.26 L451.33,297.26 L451.84,297.26 L452.35,297.26 L452.85,297.25 L453.36,297.25 L453.87,297.25 L454.38,297.25 L454.88,297.24 L455.39,297.24 L455.90,297.24 L456.40,297.24 L456.91,297.23 L457.42,297.23 L457.92,297.23 L458.43,297.22 L458.94,297.22 L459.44,297.22 L459.95,297.21 L460.46,297.21 L460.97,297.21 L461.47,297.20 L461.98,297.20 L462.49,297.20 L462.99,297.19 L463.50,297.19 L464.01,297.19 L464.51,297.18 L465.02,297.18 L465.53,297.17 L466.04,297.17 L466.54,297.17 L467.05,297.16 L467.56,297.16 L468.06,297.16 L468.57,297.15 L469.08,297.15 L469.58,297.14 L470.09,297.14 L470.60,297.14 L471.11,297.13 L471.61,297.13 L472.12,297.12 L472.63,297.12 L473.13,297.12 L473.64,297.11 L474.15,297.11 L474.65,297.10 L475.16,297.10 L475.67,297.10 L476.18,297.09 L476.68,297.09 L477.19,297.08 L477.70,297.08 L478.20,297.08 L478.71,297.07 L479.22,297.07 L479.73,297.06 L480.23,297.06 L480.74,297.06 L481.25,297.05 L481.75,297.05 L482.26,297.04 L482.77,297.04 L483.27,297.04 L483.78,297.03 L484.29,297.03 L484.80,297.02 L485.30,297.02 L485.81,297.02 L486.32,297.01 L486.82,297.01 L487.33,297.01 L487.84,297.00 L488.34,297.00 L488.85,296.99 L489.36,296.99 L489.87,296.99 L490.37,296.98 L490.88,296.98 L491.39,296.98 L491.89,296.97 L492.40,296.97 L492.91,296.97 L493.41,296.96 L493.92,296.96 L494.43,296.95 L494.94,296.95 L495.44,296.95 L495.95,296.94 L496.46,296.94 L496.96,296.94 L497.47,296.93 L497.98,296.93 L498.48,296.93 L498.99,296.92 L499.50,296.92 L500.00,296.92 L500.51,296.91 L501.02,296.91 L501.53,296.91 L502.03,296.90 L502.54,296.90 L503.05,296.90 L503.55,296.89 L504.06,296.89 L504.57,296.89 L505.07,296.88 L505.58,296.88 L506.09,296.88 L506.60,296.87 L507.10,296.87 L507.61,296.86 L508.12,296.86 L508.62,296.86 L509.13,296.85 L509.64,296.85 L510.14,296.85 L510.65,296.84 L511.16,296.84 L511.67,296.84 L512.17,296.83 L512.68,296.83 L513.19,296.83 L513.69,296.82 L514.20,296.82 L514.71,296.82 L515.22,296.81 L515.72,296.81 L516.23,296.81 L516.74,296.80 L517.24,296.80 L517.75,296.79 L518.26,296.79 L518.76,296.79 L519.27,296.78 L519.78,296.78 L520.28,296.78 L520.79,296.77 L521.30,296.77 L521.81,296.77 L522.31,296.76 L522.82,296.76 L523.33,296.76 L523.83,296.75 L524.34,296.75 L524.85,296.75 L525.36,296.74 L525.86,296.74 L526.37,296.74 L526.88,296.73 L527.38,296.73 L527.89,296.72 L528.40,296.72 L528.90,296.72 L529.41,296.71 L529.92,296.71 L530.42,296.71 L530.93,296.70 L531.44,296.70 L531.95,296.70 L532.45,296.69 L532.96,296.69 L533.47,296.69 L533.97,296.68 L534.48,296.68 L534.99,296.68 L535.50,296.67 L536.00,296.67 L536.51,296.66 L537.02,296.66 L537.52,296.66 L538.03,296.65 L538.54,296.65 L539.04,296.65 L539.55,296.64 L540.06,296.64 L540.57,296.64 L541.07,296.63 L541.58,296.63 L542.09,296.63 L542.59,296.62 L543.10,296.62" fill="none" stroke="#454545" stroke-width="1.05" stroke-linejoin="round"/>
<rect x="391.00" y="282.80" width="169.00" height="159.20" fill="none" stroke="#0a0a0a" stroke-width="1.25"/>
<line x1="391.00" y1="442.00" x2="391.00" y2="445.00" stroke="#0a0a0a" stroke-width="1.1"/>
<line x1="407.90" y1="442.00" x2="407.90" y2="444.00" stroke="#0a0a0a" stroke-width="1.1"/>
<line x1="424.80" y1="442.00" x2="424.80" y2="445.00" stroke="#0a0a0a" stroke-width="1.1"/>
<line x1="441.70" y1="442.00" x2="441.70" y2="444.00" stroke="#0a0a0a" stroke-width="1.1"/>
<line x1="458.60" y1="442.00" x2="458.60" y2="445.00" stroke="#0a0a0a" stroke-width="1.1"/>
<line x1="475.50" y1="442.00" x2="475.50" y2="444.00" stroke="#0a0a0a" stroke-width="1.1"/>
<line x1="492.40" y1="442.00" x2="492.40" y2="445.00" stroke="#0a0a0a" stroke-width="1.1"/>
<line x1="509.30" y1="442.00" x2="509.30" y2="444.00" stroke="#0a0a0a" stroke-width="1.1"/>
<line x1="526.20" y1="442.00" x2="526.20" y2="445.00" stroke="#0a0a0a" stroke-width="1.1"/>
<line x1="543.10" y1="442.00" x2="543.10" y2="444.00" stroke="#0a0a0a" stroke-width="1.1"/>
<line x1="560.00" y1="442.00" x2="560.00" y2="445.00" stroke="#0a0a0a" stroke-width="1.1"/>
<line x1="388.00" y1="442.00" x2="391.00" y2="442.00" stroke="#0a0a0a" stroke-width="1.1"/>
<line x1="389.00" y1="426.08" x2="391.00" y2="426.08" stroke="#0a0a0a" stroke-width="1.1"/>
<line x1="388.00" y1="410.16" x2="391.00" y2="410.16" stroke="#0a0a0a" stroke-width="1.1"/>
<line x1="389.00" y1="394.24" x2="391.00" y2="394.24" stroke="#0a0a0a" stroke-width="1.1"/>
<line x1="388.00" y1="378.32" x2="391.00" y2="378.32" stroke="#0a0a0a" stroke-width="1.1"/>
<line x1="389.00" y1="362.40" x2="391.00" y2="362.40" stroke="#0a0a0a" stroke-width="1.1"/>
<line x1="388.00" y1="346.48" x2="391.00" y2="346.48" stroke="#0a0a0a" stroke-width="1.1"/>
<line x1="389.00" y1="330.56" x2="391.00" y2="330.56" stroke="#0a0a0a" stroke-width="1.1"/>
<line x1="388.00" y1="314.64" x2="391.00" y2="314.64" stroke="#0a0a0a" stroke-width="1.1"/>
<line x1="389.00" y1="298.72" x2="391.00" y2="298.72" stroke="#0a0a0a" stroke-width="1.1"/>
<line x1="388.00" y1="282.80" x2="391.00" y2="282.80" stroke="#0a0a0a" stroke-width="1.1"/>
<text transform="translate(391.00,456.00) scale(0.860,1)" font-family="Liberation Serif" font-weight="bold" font-size="10.5" fill="#151515" stroke="#151515" stroke-width="0.2" text-anchor="middle">0</text>
<text transform="translate(424.80,456.00) scale(0.860,1)" font-family="Liberation Serif" font-weight="bold" font-size="10.5" fill="#151515" stroke="#151515" stroke-width="0.2" text-anchor="middle">10</text>
<text transform="translate(458.60,456.00) scale(0.860,1)" font-family="Liberation Serif" font-weight="bold" font-size="10.5" fill="#151515" stroke="#151515" stroke-width="0.2" text-anchor="middle">20</text>
<text transform="translate(492.40,456.00) scale(0.860,1)" font-family="Liberation Serif" font-weight="bold" font-size="10.5" fill="#151515" stroke="#151515" stroke-width="0.2" text-anchor="middle">30</text>
<text transform="translate(526.20,456.00) scale(0.860,1)" font-family="Liberation Serif" font-weight="bold" font-size="10.5" fill="#151515" stroke="#151515" stroke-width="0.2" text-anchor="middle">40</text>
<text transform="translate(560.00,456.00) scale(0.860,1)" font-family="Liberation Serif" font-weight="bold" font-size="10.5" fill="#151515" stroke="#151515" stroke-width="0.2" text-anchor="middle">50</text>
<text transform="translate(386.00,445.17) scale(0.860,1)" font-family="Liberation Serif" font-weight="bold" font-size="10.5" fill="#151515" stroke="#151515" stroke-width="0.2" text-anchor="end">0</text>
<text transform="translate(386.00,413.33) scale(0.860,1)" font-family="Liberation Serif" font-weight="bold" font-size="10.5" fill="#151515" stroke="#151515" stroke-width="0.2" text-anchor="end">1000</text>
<text transform="translate(386.00,381.49) scale(0.860,1)" font-family="Liberation Serif" font-weight="bold" font-size="10.5" fill="#151515" stroke="#151515" stroke-width="0.2" text-anchor="end">2000</text>
<text transform="translate(386.00,349.65) scale(0.860,1)" font-family="Liberation Serif" font-weight="bold" font-size="10.5" fill="#151515" stroke="#151515" stroke-width="0.2" text-anchor="end">3000</text>
<text transform="translate(386.00,317.81) scale(0.860,1)" font-family="Liberation Serif" font-weight="bold" font-size="10.5" fill="#151515" stroke="#151515" stroke-width="0.2" text-anchor="end">4000</text>
<text transform="translate(386.00,285.97) scale(0.860,1)" font-family="Liberation Serif" font-weight="bold" font-size="10.5" fill="#151515" stroke="#151515" stroke-width="0.2" text-anchor="end">5000</text>
<text x="455.50" y="472.00" font-family="Liberation Serif" font-weight="bold" font-size="11.4" fill="#111" stroke="#111" stroke-width="0.2" textLength="45.30" lengthAdjust="spacingAndGlyphs">Time(min)</text>
<text transform="translate(360.00,412.30) rotate(-90)" font-family="Liberation Serif" font-weight="bold" font-size="10.8" fill="#111" stroke="#111" stroke-width="0.2" textLength="100.40" lengthAdjust="spacing">Fluorescence(RFU)</text>
<line x1="517.00" y1="386.40" x2="536.70" y2="386.40" stroke="#555555" stroke-width="1.5"/>
<text transform="translate(538.40,389.60) scale(0.900,1)" font-family="Liberation Serif" font-weight="bold" font-size="9.2" fill="#151515" stroke="#151515" stroke-width="0.2">1×10<tspan font-size="4.6" dy="-3.4">3</tspan></text>
<line x1="517.00" y1="398.50" x2="536.70" y2="398.50" stroke="#dc5a60" stroke-width="1.5"/>
<text transform="translate(538.40,401.70) scale(0.900,1)" font-family="Liberation Serif" font-weight="bold" font-size="9.2" fill="#151515" stroke="#151515" stroke-width="0.2">1×10<tspan font-size="4.6" dy="-3.4">2</tspan></text>
<line x1="517.00" y1="411.30" x2="536.70" y2="411.30" stroke="#4a7fc6" stroke-width="1.5"/>
<text transform="translate(538.40,414.50) scale(0.900,1)" font-family="Liberation Serif" font-weight="bold" font-size="9.2" fill="#151515" stroke="#151515" stroke-width="0.2">1×10<tspan font-size="4.6" dy="-3.4">1</tspan></text>
<line x1="517.00" y1="424.40" x2="536.70" y2="424.40" stroke="#4aa67e" stroke-width="1.5"/>
<text transform="translate(538.40,427.60) scale(0.900,1)" font-family="Liberation Serif" font-weight="bold" font-size="9.2" fill="#151515" stroke="#151515" stroke-width="0.2">1×10<tspan font-size="4.6" dy="-3.4">0</tspan></text>
<line x1="517.00" y1="436.40" x2="536.70" y2="436.40" stroke="#b07ee0" stroke-width="1.1"/>
<text transform="translate(538.40,439.60) scale(0.900,1)" font-family="Liberation Serif" font-weight="bold" font-size="9.2" fill="#151515" stroke="#151515" stroke-width="0.2">NCT</text>
</svg></body></html>
